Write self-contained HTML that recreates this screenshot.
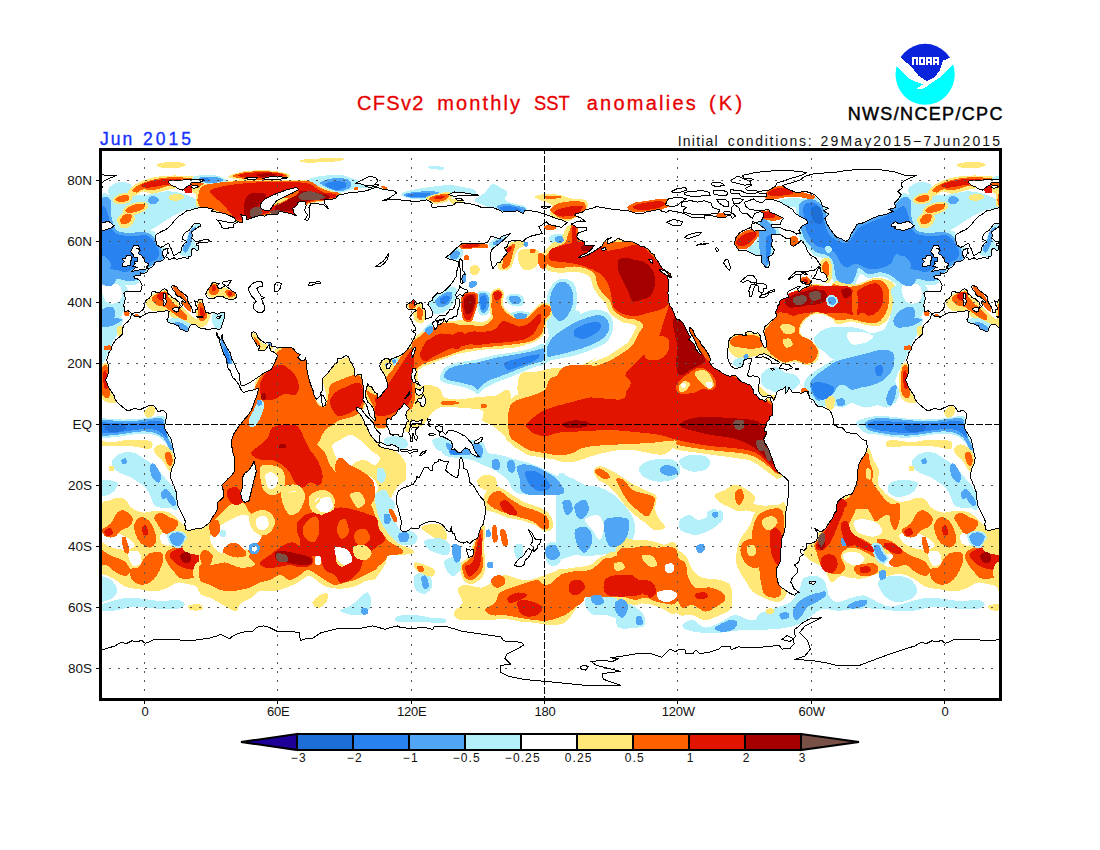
<!DOCTYPE html><html><head><meta charset="utf-8"><title>CFSv2 monthly SST anomalies</title>
<style>
html,body{margin:0;padding:0;background:#fff}
body{width:1100px;height:850px;position:relative;overflow:hidden;font-family:"Liberation Sans",sans-serif;color:#000}
.t{position:absolute;white-space:nowrap;line-height:1}
.yl{font-size:13.5px;right:1008px;text-align:right;color:#111}
.xl{font-size:13px;width:60px;text-align:center;top:705.3px;color:#111;letter-spacing:-0.2px}
.cl{font-size:12px;width:60px;text-align:center;top:752.3px;color:#111;letter-spacing:1.1px;text-indent:1.1px}
</style></head><body>
<svg width="1100" height="850" viewBox="0 0 1100 850" style="position:absolute;left:0;top:0">
<defs><clipPath id="fc"><rect x="100.5" y="149.5" width="900.0" height="550.0"/></clipPath></defs>
<defs><g id="w">
<g stroke="none" shape-rendering="crispEdges">
<path fill="#ffe878" d="M196.2 196.2C197.1 192.9 198.1 187.9 201.2 185.5C204.4 183.1 209.8 182.8 215.0 182.0C220.2 181.2 225.4 180.9 232.5 180.5C239.6 180.1 248.3 179.9 257.5 179.8C266.7 179.6 278.5 179.6 287.5 179.8C296.5 179.9 305.6 179.3 311.2 180.5C316.9 181.7 317.9 185.3 321.2 187.0C324.6 188.7 328.1 189.7 331.2 190.5C334.4 191.3 338.8 190.8 340.0 192.0C341.2 193.2 340.8 196.5 338.8 198.0C336.7 199.5 332.7 199.7 327.5 200.8C322.3 201.8 312.5 202.0 307.5 204.5C302.5 207.0 302.9 214.1 297.5 215.5C292.1 216.9 282.9 212.1 275.0 213.0C267.1 213.9 256.2 219.2 250.0 220.8C243.8 222.2 241.7 223.0 237.5 222.0C233.3 221.0 229.6 216.5 225.0 214.5C220.4 212.5 213.8 210.8 210.0 210.0C206.2 209.2 204.8 210.2 202.5 209.5C200.2 208.8 197.3 207.7 196.2 205.5C195.2 203.3 195.4 199.6 196.2 196.2Z"/>
<path fill="#ffe878" d="M228.8 176.2C230.4 175.0 238.1 172.2 245.0 171.2C251.9 170.3 262.9 170.1 270.0 170.5C277.1 170.9 284.3 172.6 287.5 173.8C290.7 174.9 291.3 176.4 289.2 177.5C287.2 178.6 281.5 179.8 275.0 180.2C268.5 180.7 256.7 180.5 250.0 180.2C243.3 180.0 238.5 179.7 235.0 179.0C231.5 178.3 227.1 177.5 228.8 176.2Z"/>
<path fill="#b4f0fa" d="M195.0 176.2C198.3 175.2 207.5 174.6 212.5 175.0C217.5 175.4 222.7 177.5 225.0 178.8C227.3 180.0 227.9 181.6 226.2 182.5C224.6 183.4 219.4 184.0 215.0 184.0C210.6 184.0 203.8 183.2 200.0 182.8C196.2 182.3 193.3 182.3 192.5 181.2C191.7 180.2 191.7 177.3 195.0 176.2Z"/>
<path fill="#b4f0fa" d="M307.5 180.0C309.2 178.9 314.6 177.1 320.0 176.2C325.4 175.4 335.0 174.8 340.0 175.0C345.0 175.2 346.7 176.5 350.0 177.5C353.3 178.5 356.7 180.0 360.0 181.2C363.3 182.5 367.5 184.0 370.0 185.0C372.5 186.0 376.2 187.0 375.0 187.5C373.8 188.0 366.7 187.3 362.5 187.8C358.3 188.2 353.8 189.2 350.0 190.0C346.2 190.8 343.3 192.7 340.0 192.8C336.7 192.8 333.3 191.3 330.0 190.2C326.7 189.2 323.3 187.8 320.0 186.5C316.7 185.2 312.1 183.8 310.0 182.8C307.9 181.7 305.8 181.1 307.5 180.0Z"/>
<path fill="#ffe878" d="M300.0 160.5C301.2 159.9 305.8 159.1 312.5 158.8C319.2 158.4 335.0 158.0 340.0 158.2C345.0 158.5 344.2 159.4 342.5 160.0C340.8 160.6 336.2 161.6 330.0 162.0C323.8 162.4 310.0 162.8 305.0 162.5C300.0 162.2 298.8 161.1 300.0 160.5Z"/>
<path fill="#b4f0fa" d="M427.5 167.0C427.9 166.5 432.3 165.9 435.0 166.0C437.7 166.1 442.5 166.9 443.8 167.5C445.0 168.1 444.4 169.2 442.5 169.5C440.6 169.8 435.0 169.4 432.5 169.0C430.0 168.6 427.1 167.5 427.5 167.0Z"/>
<path fill="#b4f0fa" d="M401.2 193.8C402.1 192.4 407.7 191.1 412.5 190.0C417.3 188.9 423.8 187.8 430.0 187.0C436.2 186.2 444.2 184.9 450.0 185.0C455.8 185.1 460.8 186.7 465.0 187.5C469.2 188.3 473.3 188.5 475.0 190.0C476.7 191.5 477.1 195.4 475.0 196.2C472.9 197.1 466.7 194.8 462.5 195.0C458.3 195.2 454.6 196.7 450.0 197.5C445.4 198.3 440.0 199.7 435.0 200.0C430.0 200.3 424.6 199.8 420.0 199.5C415.4 199.2 410.6 199.0 407.5 198.0C404.4 197.0 400.4 195.1 401.2 193.8Z"/>
<path fill="#ffe878" d="M450.0 199.5C451.5 198.7 459.2 198.2 461.2 198.8C463.3 199.2 464.0 201.7 462.5 202.5C461.0 203.3 454.6 204.2 452.5 203.8C450.4 203.2 448.5 200.3 450.0 199.5Z"/>
<path fill="#ffe878" d="M206.2 293.8C205.6 291.8 207.3 288.1 208.8 286.2C210.2 284.4 212.7 282.5 215.0 282.5C217.3 282.5 220.4 285.2 222.5 286.2C224.6 287.3 225.4 287.7 227.5 288.8C229.6 289.8 233.3 291.2 235.0 292.5C236.7 293.8 238.3 295.1 237.5 296.2C236.7 297.4 232.9 299.4 230.0 299.2C227.1 299.1 222.9 295.7 220.0 295.5C217.1 295.3 214.8 298.3 212.5 298.0C210.2 297.7 206.9 295.7 206.2 293.8Z"/>
<path fill="#ffe878" d="M197.5 300.0C199.0 296.5 204.2 301.2 206.2 303.8C208.3 306.2 210.0 311.5 210.0 315.0C210.0 318.5 208.3 323.3 206.2 325.0C204.2 326.7 199.0 329.2 197.5 325.0C196.0 320.8 196.0 303.5 197.5 300.0Z"/>
<path fill="#b4f0fa" d="M213.8 312.5C215.8 310.7 223.2 309.4 225.0 311.5C226.8 313.6 225.5 322.0 224.2 325.0C223.0 328.0 219.5 329.9 217.5 329.5C215.5 329.1 213.1 325.3 212.5 322.5C211.9 319.7 211.7 314.3 213.8 312.5Z"/>
<path fill="#b4f0fa" d="M218.0 335.0C218.3 332.7 221.0 333.8 223.0 336.2C225.0 338.8 228.0 345.6 230.0 350.0C232.0 354.4 235.8 360.4 235.0 362.5C234.2 364.6 227.3 364.6 225.0 362.5C222.7 360.4 222.4 354.6 221.2 350.0C220.1 345.4 217.7 337.3 218.0 335.0Z"/>
<path fill="#ffe878" d="M251.2 333.0C251.7 331.8 254.4 332.8 256.2 334.5C258.1 336.2 259.8 341.4 262.5 343.2C265.2 345.1 271.2 344.4 272.5 345.8C273.8 347.1 272.4 350.7 270.5 351.5C268.6 352.3 264.0 352.1 261.2 350.5C258.5 348.9 255.4 344.7 253.8 341.8C252.1 338.8 250.8 334.2 251.2 333.0Z"/>
<path fill="#ffe878" d="M275.0 350.0C276.7 347.1 281.7 347.5 285.0 347.5C288.3 347.5 291.7 348.3 295.0 350.0C298.3 351.7 302.7 355.0 305.0 357.5C307.3 360.0 313.8 363.8 308.8 365.0C303.8 366.2 280.6 367.5 275.0 365.0C269.4 362.5 273.3 352.9 275.0 350.0Z"/>
<path fill="#ffe878" d="M405.5 305.0C405.6 303.0 410.1 300.0 412.5 299.5C414.9 299.0 417.8 300.2 420.0 302.0C422.2 303.8 425.0 306.5 425.5 310.0C426.0 313.5 424.8 321.2 423.0 323.0C421.2 324.8 416.8 322.5 415.0 320.5C413.2 318.5 413.6 313.8 412.0 311.2C410.4 308.7 405.4 307.0 405.5 305.0Z"/>
<path fill="#b4f0fa" d="M475.0 200.0C475.8 198.1 482.1 195.2 485.0 192.5C487.9 189.8 490.0 184.6 492.5 183.8C495.0 182.9 497.5 186.0 500.0 187.5C502.5 189.0 506.7 190.4 507.5 192.5C508.3 194.6 503.8 198.1 505.0 200.0C506.2 201.9 511.7 202.7 515.0 203.8C518.3 204.8 523.1 204.8 525.0 206.2C526.9 207.7 527.9 211.4 526.2 212.5C524.6 213.6 519.4 213.1 515.0 213.0C510.6 212.9 504.6 212.8 500.0 211.8C495.4 210.7 490.8 208.1 487.5 206.8C484.2 205.4 482.1 204.9 480.0 203.8C477.9 202.6 474.2 201.9 475.0 200.0Z"/>
<path fill="#ffe878" d="M535.0 196.2C536.2 195.2 543.3 194.0 547.5 193.8C551.7 193.5 555.8 194.2 560.0 195.0C564.2 195.8 568.3 197.9 572.5 198.8C576.7 199.6 582.4 198.8 585.0 200.0C587.6 201.2 588.3 204.2 588.0 206.2C587.7 208.3 585.2 210.5 583.0 212.5C580.8 214.5 578.0 216.5 575.0 218.0C572.0 219.5 568.3 221.5 565.0 221.8C561.7 222.0 557.5 220.6 555.0 219.2C552.5 217.9 550.2 215.5 550.0 213.8C549.8 212.0 553.8 210.4 553.8 208.8C553.8 207.1 552.3 205.2 550.0 203.8C547.7 202.3 542.5 201.2 540.0 200.0C537.5 198.8 533.8 197.3 535.0 196.2Z"/>
<path fill="#b4f0fa" d="M550.0 236.2C551.7 235.0 557.1 233.5 560.0 233.8C562.9 234.0 566.6 235.6 567.5 237.5C568.4 239.4 567.6 243.7 565.5 245.0C563.4 246.3 557.6 246.1 555.0 245.5C552.4 244.9 550.8 242.8 550.0 241.2C549.2 239.7 548.3 237.5 550.0 236.2Z"/>
<path fill="#b4f0fa" d="M446.2 255.0C446.7 252.9 452.3 249.6 455.0 248.8C457.7 247.9 461.4 248.5 462.5 250.0C463.6 251.5 463.2 255.6 461.5 257.5C459.8 259.4 455.0 261.9 452.5 261.5C450.0 261.1 445.8 257.1 446.2 255.0Z"/>
<path fill="#ffe878" d="M470.0 267.5C470.6 266.0 473.3 264.8 475.0 265.0C476.7 265.2 479.8 267.1 480.0 268.8C480.2 270.4 478.0 274.1 476.5 275.0C475.0 275.9 472.3 275.2 471.2 274.0C470.2 272.8 469.4 269.0 470.0 267.5Z"/>
<path fill="#b4f0fa" d="M488.8 243.8C489.2 241.8 494.4 238.8 497.5 237.5C500.6 236.2 506.2 235.0 507.5 236.2C508.8 237.5 507.6 242.9 505.5 245.0C503.4 247.1 497.8 249.2 495.0 249.0C492.2 248.8 488.3 245.7 488.8 243.8Z"/>
<path fill="#ffe878" d="M503.8 250.0C505.2 247.5 508.3 244.0 511.2 242.5C514.2 241.0 519.0 240.8 521.2 241.2C523.5 241.7 525.6 243.5 525.0 245.0C524.4 246.5 519.4 247.5 517.5 250.0C515.6 252.5 515.0 256.9 513.8 260.0C512.5 263.1 512.3 267.0 510.0 268.8C507.7 270.5 502.1 270.9 500.0 270.2C497.9 269.6 497.1 267.1 497.5 265.0C497.9 262.9 501.5 260.0 502.5 257.5C503.5 255.0 502.3 252.5 503.8 250.0Z"/>
<path fill="#ffe878" d="M518.8 251.2C520.2 249.0 524.4 249.0 527.5 248.8C530.6 248.5 535.4 248.5 537.5 250.0C539.6 251.5 540.4 254.6 540.0 257.5C539.6 260.4 537.5 265.4 535.0 267.5C532.5 269.6 527.7 271.1 525.0 270.2C522.3 269.4 519.8 265.7 518.8 262.5C517.7 259.3 517.3 253.5 518.8 251.2Z"/>
<path fill="#b4f0fa" d="M477.0 293.8C478.0 290.2 482.8 291.0 485.0 291.2C487.2 291.5 489.7 291.9 490.5 295.0C491.3 298.1 490.7 306.6 489.8 310.0C488.8 313.4 486.8 314.8 485.0 315.2C483.2 315.7 480.1 316.3 478.8 312.8C477.4 309.2 476.0 297.3 477.0 293.8Z"/>
<path fill="#ffe878" d="M397.5 362.5C398.8 355.4 402.1 351.8 405.0 347.5C407.9 343.2 410.8 340.4 415.0 337.0C419.2 333.6 424.2 329.5 430.0 327.0C435.8 324.5 444.2 323.2 450.0 322.0C455.8 320.8 459.6 319.5 465.0 319.5C470.4 319.5 478.0 322.8 482.5 322.0C487.0 321.2 490.6 318.2 492.0 315.0C493.4 311.8 490.5 306.5 490.8 302.5C491.0 298.5 491.9 293.4 493.2 291.2C494.6 289.1 497.1 288.9 498.8 289.5C500.4 290.1 502.5 292.4 503.0 295.0C503.5 297.6 500.9 301.7 501.8 305.0C502.6 308.3 505.0 312.6 508.0 315.0C511.0 317.4 516.3 319.4 520.0 319.5C523.7 319.6 526.9 317.8 530.0 315.8C533.1 313.7 536.2 309.1 538.8 307.0C541.3 304.9 543.5 303.2 545.5 303.2C547.5 303.3 549.9 305.5 550.5 307.5C551.1 309.5 550.5 312.5 549.2 315.0C548.0 317.5 544.5 319.4 543.0 322.5C541.5 325.6 542.6 330.3 540.5 333.8C538.4 337.2 535.2 340.6 530.5 343.0C525.8 345.4 519.7 347.0 512.5 348.0C505.3 349.0 495.8 348.4 487.5 349.2C479.2 350.1 469.6 351.5 462.5 353.0C455.4 354.5 450.4 356.1 445.0 358.0C439.6 359.9 434.2 362.6 430.0 364.2C425.8 365.9 422.9 365.4 420.0 368.0C417.1 370.6 415.0 376.3 412.5 380.0C410.0 383.7 407.5 388.3 405.0 390.0C402.5 391.7 398.8 394.6 397.5 390.0C396.2 385.4 396.2 369.6 397.5 362.5Z"/>
<path fill="#b4f0fa" d="M440.0 377.5C440.4 375.1 442.1 370.0 445.0 367.5C447.9 365.0 452.5 363.8 457.5 362.5C462.5 361.2 468.8 361.2 475.0 360.0C481.2 358.8 488.8 356.2 495.0 355.0C501.2 353.8 506.7 353.5 512.5 352.5C518.3 351.5 524.7 350.1 530.0 348.8C535.3 347.4 541.9 342.1 544.5 344.5C547.1 346.9 547.1 359.3 545.5 363.0C543.9 366.7 539.2 365.1 535.0 366.8C530.8 368.4 525.0 370.9 520.0 373.0C515.0 375.1 509.2 377.6 505.0 379.2C500.8 380.9 498.3 381.5 495.0 383.0C491.7 384.5 487.9 386.1 485.0 388.0C482.1 389.9 479.6 393.8 477.5 394.2C475.4 394.7 475.0 391.8 472.5 390.5C470.0 389.2 466.2 387.8 462.5 386.8C458.8 385.7 453.3 385.1 450.0 384.2C446.7 383.4 444.2 382.9 442.5 381.8C440.8 380.6 439.6 379.9 440.0 377.5Z"/>
<path fill="#b4f0fa" d="M545.0 344.5C545.8 340.0 547.5 338.5 550.0 335.8C552.5 333.0 556.7 330.8 560.0 328.2C563.3 325.8 566.7 323.0 570.0 320.8C573.3 318.5 575.8 316.4 580.0 314.5C584.2 312.6 590.3 309.7 595.0 309.5C599.7 309.3 605.0 311.1 608.0 313.2C611.0 315.4 612.4 319.1 613.0 322.5C613.6 325.9 613.0 330.3 611.8 333.8C610.5 337.2 608.7 340.4 605.5 343.0C602.3 345.6 597.6 347.2 592.5 349.2C587.4 351.3 580.0 354.0 575.0 355.5C570.0 357.0 566.7 357.2 562.5 358.0C558.3 358.8 552.9 359.7 550.0 360.5C547.1 361.3 545.8 365.7 545.0 363.0C544.2 360.3 544.2 349.0 545.0 344.5Z"/>
<path fill="#b4f0fa" d="M549.0 312.0C552.5 307.5 565.2 309.1 570.5 309.5C575.8 309.9 582.2 311.3 580.5 314.5C578.8 317.7 565.2 325.0 560.0 328.8C554.8 332.5 551.3 339.5 549.5 336.8C547.7 334.0 545.5 316.5 549.0 312.0Z"/>
<path fill="#b4f0fa" d="M547.0 296.2C547.8 292.5 549.6 287.9 552.0 285.0C554.4 282.1 557.8 279.2 561.2 278.8C564.8 278.3 570.4 279.8 573.0 282.5C575.6 285.2 576.5 290.8 577.0 295.0C577.5 299.2 577.1 303.8 576.0 307.5C574.9 311.2 573.0 314.7 570.5 317.5C568.0 320.3 564.5 324.5 561.2 324.5C558.0 324.5 553.5 320.3 551.2 317.5C549.0 314.7 548.2 311.0 547.5 307.5C546.8 304.0 546.2 300.0 547.0 296.2Z"/>
<path fill="#b4f0fa" d="M506.2 297.5C506.9 295.8 509.8 294.0 512.5 293.8C515.2 293.5 520.6 294.6 522.5 296.2C524.4 297.9 524.8 302.0 524.0 303.8C523.2 305.5 520.0 306.5 517.5 306.5C515.0 306.5 510.6 305.5 508.8 304.0C506.9 302.5 505.6 299.2 506.2 297.5Z"/>
<path fill="#b4f0fa" d="M510.0 313.8C510.4 312.0 516.4 311.2 520.0 311.2C523.6 311.2 530.5 312.2 531.8 313.8C533.0 315.2 529.9 319.0 527.5 320.2C525.1 321.5 520.4 322.6 517.5 321.5C514.6 320.4 509.6 315.5 510.0 313.8Z"/>
<path fill="#ffe878" d="M405.0 430.0C403.8 425.8 405.8 411.7 407.5 405.0C409.2 398.3 411.7 393.3 415.0 390.0C418.3 386.7 423.3 385.2 427.5 385.0C431.7 384.8 437.3 386.8 440.0 388.8C442.7 390.8 440.8 395.2 443.8 397.0C446.7 398.8 451.9 399.5 457.5 399.5C463.1 399.5 471.2 397.6 477.5 397.0C483.8 396.4 489.6 396.6 495.0 395.8C500.4 394.9 507.3 385.2 510.0 392.0C512.7 398.8 512.9 429.6 511.2 436.2C509.6 442.9 503.1 433.5 500.0 431.8C496.9 430.0 495.4 427.4 492.5 425.5C489.6 423.6 484.2 423.0 482.5 420.5C480.8 418.0 485.8 412.6 482.5 410.5C479.2 408.4 469.2 408.6 462.5 408.0C455.8 407.4 447.5 406.0 442.5 406.8C437.5 407.5 435.4 409.9 432.5 412.5C429.6 415.1 427.9 419.6 425.0 422.5C422.1 425.4 418.3 428.8 415.0 430.0C411.7 431.2 406.2 434.2 405.0 430.0Z"/>
<path fill="#b4f0fa" d="M442.5 450.0C444.6 447.8 452.5 444.2 457.5 442.5C462.5 440.8 468.2 440.0 472.5 440.0C476.8 440.0 480.4 440.4 483.0 442.5C485.6 444.6 485.2 450.4 488.0 452.5C490.8 454.6 495.1 453.8 500.0 455.0C504.9 456.2 511.7 458.3 517.5 460.0C523.3 461.7 529.6 462.9 535.0 465.0C540.4 467.1 545.4 470.0 550.0 472.5C554.6 475.0 559.0 476.5 562.5 480.0C566.0 483.5 578.3 491.5 571.2 493.8C564.2 496.0 530.6 496.0 520.0 493.8C509.4 491.5 511.7 484.0 507.5 480.0C503.3 476.0 499.2 472.5 495.0 470.0C490.8 467.5 486.2 466.7 482.5 465.0C478.8 463.3 476.7 461.2 472.5 460.0C468.3 458.8 462.1 458.8 457.5 458.0C452.9 457.2 447.5 456.8 445.0 455.5C442.5 454.2 440.4 452.2 442.5 450.0Z"/>
<path fill="#ffe878" d="M574.2 227.2L570.5 225.0L566.8 226.2L561.1 238.9L551.9 243.6L540.8 254.7L540.3 259.1L545.7 268.7L548.7 271.1L559.6 273.0L574.8 271.5L585.3 273.7L590.6 277.9L593.0 287.2L598.6 296.1L605.7 303.3L610.2 314.0L622.7 322.4L633.1 324.3L636.6 326.7L628.6 342.2L607.8 356.0L583.6 365.7L559.0 370.6L548.0 374.2L545.7 376.2L541.2 385.8L530.7 390.8L515.1 395.6L506.8 402.4L505.2 405.0L503.0 419.7L506.3 439.6L514.5 447.0L528.3 455.2L559.2 460.4L573.9 457.8L584.0 452.8L600.5 450.5L672.2 445.8L674.0 448.6L676.7 449.9L748.4 459.8L757.4 464.3L776.4 478.6L779.3 478.4L788.4 473.7L790.0 469.4L784.9 429.2L779.5 397.8L776.1 395.1L769.7 395.4L755.0 382.5L735.4 369.9L718.6 356.4L709.1 344.7L689.4 312.6L682.4 296.1L679.7 278.4L668.8 259.3L652.8 243.3L636.5 236.5L610.3 237.5L577.9 232.8Z"/>
<path fill="#b4f0fa" d="M747.5 250.0C747.1 247.7 752.5 245.2 755.0 242.5C757.5 239.8 760.0 236.7 762.5 233.8C765.0 230.8 767.5 226.0 770.0 225.0C772.5 224.0 775.8 225.8 777.5 227.5C779.2 229.2 780.4 232.9 780.0 235.0C779.6 237.1 776.2 237.5 775.0 240.0C773.8 242.5 773.3 246.2 772.5 250.0C771.7 253.8 771.0 259.5 770.0 262.5C769.0 265.5 767.7 268.0 766.2 268.0C764.8 268.0 762.7 264.5 761.2 262.5C759.8 260.5 759.8 258.3 757.5 256.2C755.2 254.2 747.9 252.3 747.5 250.0Z"/>
<path fill="#ffe878" d="M773.0 305.0C774.7 301.4 778.1 300.1 781.2 298.0C784.4 295.9 788.5 294.5 792.0 292.5C795.5 290.5 799.1 287.7 802.5 286.2C805.9 284.8 809.1 284.0 812.5 283.8C815.9 283.5 820.0 284.1 823.0 285.0C826.0 285.9 828.5 287.6 830.8 289.2C833.0 290.9 835.1 290.1 836.2 295.0C837.4 299.9 839.4 315.4 837.5 318.8C835.6 322.1 828.7 315.8 825.0 315.0C821.3 314.2 818.4 313.2 815.5 313.8C812.6 314.3 809.9 316.2 807.5 318.2C805.1 320.2 802.3 323.0 801.2 325.8C800.2 328.5 799.6 332.5 801.2 335.0C802.9 337.5 808.3 338.0 811.2 340.5C814.2 343.0 818.1 346.5 819.0 350.0C819.9 353.5 818.6 358.7 816.5 361.2C814.4 363.8 809.8 365.2 806.2 365.2C802.7 365.3 798.5 361.7 795.0 361.5C791.5 361.3 788.4 364.4 785.0 364.0C781.6 363.6 777.6 361.2 774.5 359.0C771.4 356.8 768.5 353.9 766.5 350.8C764.5 347.6 763.0 343.5 762.5 340.0C762.0 336.5 762.3 332.9 763.8 329.5C765.2 326.1 769.7 323.6 771.2 319.5C772.8 315.4 771.3 308.6 773.0 305.0Z"/>
<path fill="#ffe878" d="M727.5 340.0C728.1 337.5 729.6 336.2 732.5 335.0C735.4 333.8 740.8 332.7 745.0 332.5C749.2 332.3 754.2 332.5 757.5 333.8C760.8 335.0 763.1 337.3 765.0 340.0C766.9 342.7 769.4 347.5 769.0 350.0C768.6 352.5 765.2 354.2 762.5 355.2C759.8 356.3 755.4 355.7 752.5 356.5C749.6 357.3 747.9 360.2 745.0 360.2C742.1 360.2 737.7 358.2 735.0 356.5C732.3 354.8 730.0 352.8 728.8 350.0C727.5 347.2 726.9 342.5 727.5 340.0Z"/>
<path fill="#b4f0fa" d="M732.5 362.5C732.7 360.7 737.5 357.9 740.0 357.5C742.5 357.1 746.5 358.5 747.5 360.0C748.5 361.5 747.7 365.1 746.2 366.5C744.8 367.9 741.0 368.9 738.8 368.2C736.5 367.6 732.3 364.3 732.5 362.5Z"/>
<path fill="#b4f0fa" d="M761.2 375.0C762.1 372.2 764.8 370.0 767.5 368.8C770.2 367.5 774.6 366.9 777.5 367.5C780.4 368.1 782.1 371.2 785.0 372.5C787.9 373.8 792.5 373.3 795.0 375.0C797.5 376.7 800.4 380.0 800.0 382.5C799.6 385.0 795.8 388.3 792.5 390.0C789.2 391.7 783.8 392.7 780.0 392.8C776.2 392.8 772.9 391.5 770.0 390.2C767.1 389.0 764.0 387.8 762.5 385.2C761.0 382.7 760.4 377.8 761.2 375.0Z"/>
<path fill="#ffe878" d="M757.5 353.8C757.7 352.6 764.2 351.7 767.5 352.0C770.8 352.3 775.9 354.2 777.5 355.5C779.1 356.8 778.9 359.5 777.0 360.0C775.1 360.5 769.5 359.8 766.2 358.8C763.0 357.7 757.3 354.9 757.5 353.8Z"/>
<path fill="#b4f0fa" d="M638.8 468.8C639.2 466.0 643.1 462.9 647.5 461.2C651.9 459.6 660.0 458.5 665.0 458.8C670.0 459.0 675.0 460.2 677.5 462.5C680.0 464.8 680.8 469.6 680.0 472.5C679.2 475.4 676.2 478.5 672.5 480.0C668.8 481.5 662.1 481.9 657.5 481.5C652.9 481.1 648.1 479.9 645.0 477.8C641.9 475.6 638.3 471.5 638.8 468.8Z"/>
<path fill="#b4f0fa" d="M679.5 460.0C680.8 457.9 685.8 455.6 690.0 455.0C694.2 454.4 701.7 455.0 705.0 456.2C708.3 457.5 710.0 460.2 710.0 462.5C710.0 464.8 707.9 468.5 705.0 470.0C702.1 471.5 696.2 471.9 692.5 471.5C688.8 471.1 684.7 469.4 682.5 467.5C680.3 465.6 678.2 462.1 679.5 460.0Z"/>
<path fill="#ffe878" d="M593.8 471.2C594.2 469.1 596.5 466.0 600.0 466.2C603.5 466.5 610.0 469.8 615.0 472.5C620.0 475.2 625.0 479.6 630.0 482.5C635.0 485.4 640.6 487.7 645.0 490.0C649.4 492.3 654.6 492.9 656.2 496.2C657.9 499.6 654.4 506.0 655.0 510.0C655.6 514.0 658.3 517.1 660.0 520.0C661.7 522.9 665.8 525.8 665.0 527.5C664.2 529.2 658.3 531.0 655.0 530.2C651.7 529.5 648.3 525.2 645.0 522.8C641.7 520.2 638.3 518.2 635.0 515.2C631.7 512.3 627.9 508.6 625.0 505.2C622.1 501.9 620.4 498.6 617.5 495.2C614.6 491.9 610.8 488.0 607.5 485.2C604.2 482.5 599.8 481.3 597.5 479.0C595.2 476.7 593.3 473.4 593.8 471.2Z"/>
<path fill="#b4f0fa" d="M557.5 478.8C559.6 466.2 565.4 476.5 570.0 477.5C574.6 478.5 580.0 483.3 585.0 485.0C590.0 486.7 594.6 485.4 600.0 487.5C605.4 489.6 612.5 493.3 617.5 497.5C622.5 501.7 627.1 507.9 630.0 512.5C632.9 517.1 634.6 520.4 635.0 525.0C635.4 529.6 635.0 535.8 632.5 540.0C630.0 544.2 625.8 547.5 620.0 550.0C614.2 552.5 605.0 554.4 597.5 555.2C590.0 556.1 581.7 555.7 575.0 555.2C568.3 554.8 560.4 565.2 557.5 552.5C554.6 539.8 555.4 491.2 557.5 478.8Z"/>
<path fill="#b4f0fa" d="M680.0 520.0C680.8 517.5 686.7 515.0 690.0 515.0C693.3 515.0 695.0 520.8 700.0 520.0C705.0 519.2 716.2 510.0 720.0 510.0C723.8 510.0 724.2 516.7 722.5 520.0C720.8 523.3 714.6 527.5 710.0 530.0C705.4 532.5 699.2 535.2 695.0 535.2C690.8 535.2 687.5 532.5 685.0 530.0C682.5 527.5 679.2 522.5 680.0 520.0Z"/>
<path fill="#ffe878" d="M715.0 495.0C715.8 492.9 721.7 491.7 725.0 490.0C728.3 488.3 731.2 485.0 735.0 485.0C738.8 485.0 744.2 487.9 747.5 490.0C750.8 492.1 754.6 494.6 755.0 497.5C755.4 500.4 752.5 505.2 750.0 507.5C747.5 509.8 743.3 511.5 740.0 511.5C736.7 511.5 733.3 509.0 730.0 507.5C726.7 506.0 722.5 504.6 720.0 502.5C717.5 500.4 714.2 497.1 715.0 495.0Z"/>
<path fill="#ffe878" d="M736.2 555.0C736.7 550.4 737.7 545.0 740.0 540.0C742.3 535.0 747.5 529.6 750.0 525.0C752.5 520.4 752.5 515.6 755.0 512.5C757.5 509.4 761.2 507.5 765.0 506.2C768.8 505.0 774.0 504.4 777.5 505.0C781.0 505.6 784.8 495.0 786.2 510.0C787.7 525.0 791.0 580.8 786.2 595.0C781.5 609.2 764.4 597.5 757.5 595.0C750.6 592.5 748.3 584.6 745.0 580.0C741.7 575.4 739.0 571.7 737.5 567.5C736.0 563.3 735.8 559.6 736.2 555.0Z"/>
<path fill="#ffe878" d="M600.0 560.0C602.9 557.5 605.0 554.2 610.0 552.5C615.0 550.8 624.6 551.2 630.0 550.0C635.4 548.8 637.5 545.6 642.5 545.0C647.5 544.4 654.2 545.0 660.0 546.2C665.8 547.5 672.9 549.4 677.5 552.5C682.1 555.6 685.0 560.4 687.5 565.0C690.0 569.6 691.2 575.0 692.5 580.0C693.8 585.0 717.5 592.5 695.0 595.0C672.5 597.5 580.4 599.2 557.5 595.0C534.6 590.8 553.8 573.8 557.5 570.0C561.2 566.2 574.2 572.9 580.0 572.5C585.8 572.1 589.2 569.6 592.5 567.5C595.8 565.4 597.1 562.5 600.0 560.0Z"/>
<path fill="#b4f0fa" d="M797.5 201.0L795.3 204.4L796.4 224.4L800.0 239.0L814.2 255.6L823.8 258.4L828.5 261.6L832.8 280.6L841.8 286.9L853.9 286.4L860.5 273.5L868.3 278.3L879.9 276.3L887.1 278.1L903.3 289.2L914.3 289.0L918.9 283.3L925.3 284.9L935.3 284.8L943.7 279.6L950.3 271.0L958.6 266.8L966.8 260.3L966.5 250.8L954.2 231.7L943.7 227.8L930.4 228.9L919.8 227.1L916.6 220.7L914.6 210.7L914.2 198.6L905.4 193.2L901.7 193.7L882.3 209.8L853.6 223.2L845.9 235.1L837.4 230.2L829.0 211.5L822.3 200.2L809.9 195.1Z"/>
<path fill="#b4f0fa" d="M908.4 189.3C909.5 186.4 913.5 183.6 917.1 182.7C920.7 181.8 927.3 182.0 930.2 183.8C933.1 185.6 931.6 191.8 934.6 193.6C937.5 195.5 942.6 195.1 947.7 194.7C952.7 194.4 960.0 191.8 965.1 191.5C970.2 191.1 973.8 191.6 978.2 192.5C982.6 193.5 987.7 195.5 991.3 196.9C994.9 198.4 998.6 199.6 1000.0 201.3C1001.5 203.0 1002.6 205.6 1000.0 207.2C997.5 208.7 989.8 208.6 984.7 210.4C979.7 212.3 974.2 215.4 969.5 218.1C964.7 220.8 960.7 224.4 956.4 226.8C952.0 229.2 947.7 231.2 943.3 232.3C938.9 233.4 934.6 233.5 930.2 233.4C925.8 233.2 920.0 233.1 917.1 231.2C914.2 229.3 913.8 225.4 912.7 222.0C911.6 218.7 910.9 214.7 910.6 211.1C910.2 207.5 910.9 203.8 910.6 200.2C910.2 196.5 907.3 192.2 908.4 189.3Z"/>
<path fill="#ffe878" d="M956.4 164.8C956.7 163.9 961.5 162.9 965.1 162.4C968.7 162.0 974.7 161.6 978.2 162.0C981.7 162.4 985.8 163.9 985.8 164.8C985.8 165.8 982.0 167.4 978.2 167.9C974.4 168.4 966.6 168.4 962.9 167.9C959.3 167.4 956.0 165.7 956.4 164.8Z"/>
<path fill="#b4f0fa" d="M777.5 201.3C778.5 200.0 786.2 198.4 790.5 198.0C794.9 197.6 800.4 198.4 803.6 199.1C806.9 199.8 809.5 200.9 810.2 202.4C810.9 203.9 810.5 207.3 808.0 208.0C805.5 208.8 798.9 207.3 794.9 206.9C790.9 206.6 786.9 206.8 784.0 205.9C781.1 204.9 776.4 202.6 777.5 201.3Z"/>
<path fill="#b4f0fa" d="M757.8 219.8C760.0 213.0 767.9 218.1 770.9 220.3C773.9 222.4 775.3 228.3 775.7 232.9C776.1 237.6 774.3 242.9 773.5 248.2C772.7 253.5 772.6 261.0 770.9 264.6C769.2 268.1 765.5 270.1 763.3 269.6C761.1 269.0 758.7 269.6 757.8 261.3C756.9 253.0 755.6 226.7 757.8 219.8Z"/>
<path fill="#ffe878" d="M820.0 263.5C820.5 260.0 823.6 258.4 825.5 258.0C827.3 257.6 829.8 258.2 830.9 261.3C832.0 264.4 832.8 272.9 832.2 276.6C831.7 280.2 829.3 283.0 827.6 283.3C826.0 283.7 823.5 282.0 822.2 278.7C820.9 275.4 819.5 266.9 820.0 263.5Z"/>
<path fill="#ffe878" d="M832.0 283.5C835.3 277.4 848.7 284.8 853.8 284.6C858.9 284.4 859.3 283.5 862.6 282.4C865.8 281.4 869.9 278.7 873.5 278.1C877.0 277.5 880.4 277.5 883.9 278.7C887.5 279.9 893.2 281.3 894.8 285.3C896.5 289.3 894.9 297.4 894.0 302.7C893.0 308.0 891.6 313.3 889.2 317.1C886.7 321.0 883.2 324.6 879.1 325.9C875.1 327.1 869.3 325.3 864.7 324.6C860.2 323.8 856.7 322.0 851.6 321.5C846.6 321.0 837.5 327.8 834.2 321.5C830.9 315.2 828.7 289.7 832.0 283.5Z"/>
<path fill="#b4f0fa" d="M890.9 289.6C892.4 286.4 897.5 284.6 901.8 283.1C906.2 281.6 912.7 279.8 917.1 280.9C921.5 282.0 926.6 286.0 928.0 289.6C929.5 293.3 926.9 298.4 925.8 302.7C924.7 307.1 923.6 311.5 921.5 315.8C919.3 320.2 916.4 325.5 912.7 328.9C909.1 332.4 904.7 335.3 899.6 336.6C894.6 337.8 884.0 339.3 882.2 336.6C880.4 333.8 886.9 325.8 888.7 320.2C890.6 314.6 892.7 307.8 893.1 302.7C893.5 297.6 889.5 292.9 890.9 289.6Z"/>
<path fill="#ffe878" d="M945.5 302.7C945.5 300.2 949.3 297.1 952.0 295.1C954.7 293.1 958.9 291.3 961.8 290.7C964.7 290.2 966.7 289.8 969.5 291.8C972.2 293.8 974.6 298.7 978.2 302.7C981.8 306.7 987.7 312.6 991.3 315.8C994.9 319.1 998.6 319.8 1000.0 322.4C1001.5 325.0 1002.2 331.2 1000.0 331.5C997.8 331.9 991.3 326.8 986.9 324.6C982.6 322.3 977.8 320.2 973.8 318.0C969.8 315.8 966.6 312.7 962.9 311.5C959.3 310.2 954.9 311.8 952.0 310.4C949.1 308.9 945.5 305.3 945.5 302.7Z"/>
<path fill="#b4f0fa" d="M967.3 320.2C968.7 318.7 974.2 317.3 978.2 318.0C982.2 318.7 987.7 322.4 991.3 324.6C994.9 326.7 998.6 329.1 1000.0 331.1C1001.5 333.1 1004.4 335.6 1000.0 336.6C995.7 337.5 978.9 338.2 973.8 336.6C968.7 334.9 970.6 329.5 969.5 326.7C968.4 324.0 965.8 321.6 967.3 320.2Z"/>
<path fill="#b4f0fa" d="M978.2 252.6C977.8 250.7 983.3 248.6 984.7 246.0C986.2 243.5 985.8 240.2 986.9 237.3C988.0 234.4 989.3 231.3 991.3 228.6C993.3 225.8 997.1 221.8 998.9 220.9C1000.7 220.0 1002.4 221.1 1002.2 223.1C1002.0 225.1 999.1 229.5 997.8 232.9C996.6 236.4 994.2 241.5 994.6 243.8C994.9 246.2 997.7 246.7 1000.0 247.1C1002.4 247.5 1007.3 245.1 1008.7 246.0C1010.2 246.9 1010.9 251.1 1008.7 252.6C1006.6 254.0 999.3 254.2 995.7 255.0C992.0 255.7 989.8 257.5 986.9 257.1C984.0 256.7 978.6 254.4 978.2 252.6Z"/>
<path fill="#b4f0fa" d="M803.6 383.3C804.2 380.4 806.9 377.5 810.2 374.5C813.5 371.6 819.3 368.4 823.3 365.8C827.3 363.3 830.2 361.5 834.2 359.3C838.2 357.1 842.9 354.9 847.3 352.7C851.6 350.5 856.0 348.0 860.4 346.2C864.7 344.4 869.1 344.0 873.5 341.8C877.8 339.6 882.2 336.0 886.6 333.1C890.9 330.2 895.3 326.7 899.6 324.4C904.0 322.0 908.9 319.8 912.7 318.9C916.6 318.0 921.5 316.9 922.6 318.9C923.6 320.9 920.9 327.1 919.3 330.9C917.6 334.7 914.6 338.2 912.7 341.8C910.9 345.5 909.8 349.5 908.4 352.7C906.9 356.0 905.5 358.5 904.0 361.5C902.6 364.4 901.1 366.9 899.6 370.2C898.2 373.5 895.3 377.5 895.3 381.1C895.3 384.7 899.6 388.4 899.6 392.0C899.6 395.6 897.5 400.3 895.3 402.9C893.1 405.5 889.5 407.1 886.6 407.5C883.6 407.9 881.5 405.3 877.8 405.3C874.2 405.3 869.1 407.9 864.7 407.5C860.4 407.1 855.3 403.1 851.6 403.1C848.0 403.1 846.2 407.1 842.9 407.5C839.6 407.9 835.6 405.5 832.0 405.3C828.4 405.1 824.4 407.5 821.1 406.4C817.8 405.3 814.7 401.0 812.4 398.6C810.0 396.2 808.4 394.6 806.9 392.0C805.5 389.5 803.1 386.2 803.6 383.3Z"/>
<path fill="#b4f0fa" d="M814.5 337.5C816.0 334.5 820.7 330.5 825.5 328.7C830.2 326.9 837.1 326.5 842.9 326.5C848.7 326.5 855.3 327.6 860.4 328.7C865.5 329.8 868.4 333.5 873.5 333.1C878.6 332.7 886.6 328.0 890.9 326.5C895.3 325.1 900.4 323.3 899.6 324.4C898.9 325.5 890.9 330.2 886.6 333.1C882.2 336.0 877.8 339.6 873.5 341.8C869.1 344.0 864.7 344.4 860.4 346.2C856.0 348.0 851.6 350.5 847.3 352.7C842.9 354.9 837.8 359.3 834.2 359.3C830.6 359.3 828.4 354.9 825.5 352.7C822.6 350.5 818.5 348.7 816.7 346.2C814.9 343.6 813.1 340.4 814.5 337.5Z"/>
<path fill="#ffe878" d="M899.6 372.4C900.2 368.9 900.4 366.2 901.8 364.7C903.3 363.3 906.9 362.0 908.4 363.6C909.8 365.3 909.8 370.2 910.6 374.5C911.3 378.9 911.6 385.5 912.7 389.8C913.8 394.2 917.5 398.5 917.1 400.7C916.7 403.0 913.1 403.5 910.6 403.1C908.0 402.8 903.8 401.7 901.8 398.8C899.8 395.8 898.9 389.9 898.6 385.5C898.2 381.1 899.1 375.8 899.6 372.4Z"/>
<path fill="#ffe878" d="M917.1 327.6C917.8 326.0 921.5 324.9 922.6 326.1C923.6 327.3 923.9 333.2 923.2 334.8C922.5 336.4 919.2 336.9 918.2 335.7C917.2 334.5 916.4 329.2 917.1 327.6Z"/>
<path fill="#b4f0fa" d="M856.0 422.6C856.7 420.7 861.1 419.3 864.7 418.2C868.4 417.1 872.7 416.2 877.8 416.0C882.9 415.8 889.5 416.6 895.3 417.1C901.1 417.6 906.2 418.9 912.7 419.3C919.3 419.6 928.0 419.6 934.6 419.3C941.1 418.9 947.3 417.6 952.0 417.1C956.7 416.6 960.4 415.1 962.9 416.0C965.5 416.9 966.2 419.6 967.3 422.6C968.4 425.5 968.2 429.5 969.5 433.5C970.7 437.5 973.8 442.8 974.9 446.6C976.1 450.3 977.4 455.0 976.5 455.7C975.5 456.4 971.4 453.2 969.5 450.9C967.6 448.7 967.3 444.7 965.1 442.2C962.9 439.6 960.0 437.1 956.4 435.6C952.7 434.2 948.4 433.5 943.3 433.5C938.2 433.5 931.6 434.9 925.8 435.6C920.0 436.4 914.2 437.6 908.4 437.8C902.6 438.0 896.0 437.3 890.9 436.7C885.8 436.2 881.8 435.1 877.8 434.6C873.8 434.0 869.8 434.4 866.9 433.5C864.0 432.6 862.2 430.9 860.4 429.1C858.6 427.3 855.3 424.4 856.0 422.6Z"/>
<path fill="#ffe878" d="M885.5 443.3C885.8 442.1 888.2 440.4 890.9 440.0C893.6 439.6 898.2 440.7 901.8 441.1C905.5 441.5 908.7 442.4 912.7 442.2C916.7 442.0 920.7 440.4 925.8 440.0C930.9 439.6 938.9 439.6 943.3 440.0C947.7 440.4 950.9 440.7 952.0 442.2C953.1 443.7 952.7 448.2 949.8 449.0C946.9 449.7 940.0 447.1 934.6 446.6C929.1 446.0 922.9 445.5 917.1 445.5C911.3 445.5 904.4 446.3 899.6 446.6C894.9 446.8 891.1 447.8 888.7 447.2C886.4 446.7 885.1 444.5 885.5 443.3Z"/>
<path fill="#ffe878" d="M954.2 448.7C954.9 446.9 958.2 444.4 960.7 444.4C963.3 444.4 967.1 446.2 969.5 448.7C971.8 451.3 974.4 455.6 974.9 459.6C975.5 463.7 974.0 471.5 972.7 473.0C971.5 474.4 969.1 470.6 967.3 468.4C965.5 466.2 963.7 461.8 961.8 459.6C960.0 457.5 957.7 457.1 956.4 455.3C955.1 453.5 953.5 450.6 954.2 448.7Z"/>
<path fill="#ffe878" d="M944.4 411.6C944.9 409.8 948.0 406.7 949.8 406.2C951.7 405.6 954.7 406.7 955.3 408.4C955.8 410.0 954.6 414.5 953.1 416.0C951.7 417.5 948.0 418.0 946.6 417.3C945.1 416.6 943.8 413.5 944.4 411.6Z"/>
<path fill="#b4f0fa" d="M912.7 459.6C914.2 457.5 917.8 454.2 921.5 453.1C925.1 452.0 930.6 452.0 934.6 453.1C938.6 454.2 942.6 457.8 945.5 459.6C948.4 461.5 949.5 461.8 952.0 464.0C954.6 466.2 958.2 469.8 960.7 472.7C963.3 475.6 965.8 477.8 967.3 481.5C968.7 485.1 967.8 490.4 969.5 494.6C971.1 498.7 979.3 504.6 977.1 506.6C974.9 508.6 960.9 508.6 956.4 506.6C951.8 504.6 952.0 498.0 949.8 494.6C947.7 491.1 946.6 488.7 943.3 485.8C940.0 482.9 934.2 479.3 930.2 477.1C926.2 474.9 922.2 474.6 919.3 472.7C916.4 470.9 913.8 468.4 912.7 466.2C911.6 464.0 911.3 461.8 912.7 459.6Z"/>
<path fill="#b4f0fa" d="M887.6 488.0C888.4 485.8 891.8 482.7 895.3 481.5C898.7 480.2 904.7 480.0 908.4 480.4C912.0 480.7 916.4 481.6 917.1 483.6C917.8 485.6 915.6 490.2 912.7 492.4C909.8 494.6 903.3 496.6 899.6 497.0C896.0 497.3 892.9 496.0 890.9 494.6C888.9 493.1 886.9 490.2 887.6 488.0Z"/>
<path fill="#ffe878" d="M910.6 501.1C911.6 499.5 914.6 498.0 917.1 497.8C919.6 497.6 924.0 498.4 925.8 500.0C927.6 501.6 930.6 506.4 928.0 507.7C925.5 508.9 913.5 508.7 910.6 507.7C907.6 506.6 909.5 502.7 910.6 501.1Z"/>
<path fill="#ffe878" d="M909.5 466.2C910.2 465.5 913.1 465.5 913.8 466.2C914.6 466.9 914.6 469.8 913.8 470.6C913.1 471.3 910.2 471.3 909.5 470.6C908.7 469.8 908.7 466.9 909.5 466.2Z"/>
<path fill="#ffe878" d="M856.0 464.0C857.5 459.3 860.4 455.6 862.6 453.1C864.7 450.6 867.3 447.6 869.1 448.7C870.9 449.8 871.8 456.0 873.5 459.6C875.1 463.3 878.2 466.6 878.9 470.6C879.6 474.6 876.9 480.0 877.8 483.6C878.7 487.3 882.2 489.5 884.4 492.4C886.6 495.3 889.4 498.6 890.9 501.1C892.4 503.6 902.6 506.6 893.5 507.7C884.4 508.7 844.1 509.8 836.4 507.7C828.7 505.5 844.4 498.9 847.3 494.6C850.2 490.2 852.4 486.6 853.8 481.5C855.3 476.4 854.6 468.7 856.0 464.0Z"/>
<path fill="#ffe878" d="M856.0 486.5C858.9 485.1 861.1 484.0 864.7 484.4C868.4 484.7 873.5 486.5 877.8 488.7C882.2 490.9 887.3 495.3 890.9 497.5C894.6 499.6 896.7 501.3 899.6 501.8C902.6 502.4 904.7 501.1 908.4 500.7C912.0 500.4 917.5 498.4 921.5 499.6C925.5 500.9 928.7 506.2 932.4 508.4C936.0 510.5 939.3 512.4 943.3 512.7C947.3 513.1 952.0 510.5 956.4 510.5C960.7 510.5 965.8 511.3 969.5 512.7C973.1 514.2 975.3 516.7 978.2 519.3C981.1 521.8 982.9 526.2 986.9 528.0C990.9 529.8 999.7 521.1 1002.2 530.2C1004.7 539.3 1004.0 573.5 1002.2 582.6C1000.4 591.6 995.3 584.7 991.3 584.7C987.3 584.7 982.6 581.8 978.2 582.6C973.8 583.3 969.5 587.6 965.1 589.1C960.7 590.6 956.4 591.3 952.0 591.3C947.7 591.3 943.3 589.8 938.9 589.1C934.6 588.4 930.2 588.7 925.8 586.9C921.5 585.1 917.1 580.4 912.7 578.2C908.4 576.0 904.0 574.2 899.6 573.8C895.3 573.5 890.2 576.0 886.6 576.0C882.9 576.0 881.5 573.5 877.8 573.8C874.2 574.2 869.1 577.5 864.7 578.2C860.4 578.9 855.6 578.6 851.6 578.2C847.6 577.8 844.0 575.3 840.7 576.0C837.5 576.7 834.2 582.6 832.0 582.6C829.8 582.6 829.1 578.6 827.6 576.0C826.2 573.5 825.5 569.5 823.3 567.3C821.1 565.1 817.1 564.4 814.5 562.9C812.0 561.5 809.8 560.4 808.0 558.6C806.2 556.7 803.3 554.6 803.6 552.0C804.0 549.5 807.6 546.6 810.2 543.3C812.7 540.0 815.6 536.7 818.9 532.4C822.2 528.0 826.6 522.2 829.8 517.1C833.1 512.0 835.6 505.8 838.6 501.8C841.5 497.8 844.4 495.6 847.3 493.1C850.2 490.5 853.1 488.0 856.0 486.5Z"/>
<path fill="#b4f0fa" d="M757.8 615.3C760.4 612.0 767.6 610.9 773.1 608.7C778.5 606.6 786.2 605.5 790.5 602.2C794.9 598.9 797.1 593.1 799.3 589.1C801.5 585.1 800.7 580.4 803.6 578.2C806.5 576.0 813.1 575.3 816.7 576.0C820.4 576.7 823.6 579.6 825.5 582.6C827.3 585.5 825.8 590.2 827.6 593.5C829.5 596.7 832.4 601.5 836.4 602.2C840.4 602.9 846.9 598.9 851.6 597.8C856.4 596.7 860.4 594.9 864.7 595.6C869.1 596.4 873.5 600.4 877.8 602.2C882.2 604.0 885.8 606.6 890.9 606.6C896.0 606.6 902.6 603.6 908.4 602.2C914.2 600.7 920.0 598.4 925.8 597.8C931.6 597.3 937.5 598.4 943.3 598.9C949.1 599.5 954.9 600.9 960.7 601.1C966.6 601.3 974.2 599.5 978.2 600.0C982.2 600.6 984.7 602.9 984.7 604.4C984.7 605.8 982.9 608.0 978.2 608.7C973.5 609.5 963.7 609.1 956.4 608.7C949.1 608.4 941.8 606.2 934.6 606.6C927.3 606.9 919.3 610.2 912.7 610.9C906.2 611.6 901.1 611.3 895.3 610.9C889.5 610.6 884.4 609.1 877.8 608.7C871.3 608.4 862.6 608.4 856.0 608.7C849.5 609.1 844.0 610.9 838.6 610.9C833.1 610.9 827.6 608.0 823.3 608.7C818.9 609.5 816.4 612.7 812.4 615.3C808.4 617.8 804.4 621.8 799.3 624.0C794.2 626.2 788.7 627.6 781.8 628.4C774.9 629.1 761.8 630.6 757.8 628.4C753.8 626.2 755.3 618.6 757.8 615.3Z"/>
<path fill="#b4f0fa" d="M877.8 582.6C878.6 578.9 885.8 576.7 890.9 576.0C896.0 575.3 904.0 576.0 908.4 578.2C912.7 580.4 916.4 585.8 917.1 589.1C917.8 592.4 915.6 595.6 912.7 597.8C909.8 600.0 904.0 602.2 899.6 602.2C895.3 602.2 890.2 601.1 886.6 597.8C882.9 594.6 877.1 586.2 877.8 582.6Z"/>
<path fill="#b4f0fa" d="M888.7 484.4C890.2 482.5 894.9 480.4 899.6 480.0C904.4 479.6 914.9 480.4 917.1 482.2C919.3 484.0 915.6 489.1 912.7 490.9C909.8 492.7 903.3 493.1 899.6 493.1C896.0 493.1 892.7 492.4 890.9 490.9C889.1 489.5 887.3 486.2 888.7 484.4Z"/>
<path fill="#b4f0fa" d="M952.0 478.9C953.5 477.3 961.1 476.5 965.1 478.9C969.1 481.3 973.8 488.2 976.0 493.1C978.2 498.0 978.9 505.8 978.2 508.4C977.5 510.9 973.8 510.2 971.7 508.4C969.5 506.5 967.7 500.7 965.1 497.5C962.6 494.2 958.6 491.8 956.4 488.7C954.2 485.6 950.6 480.5 952.0 478.9Z"/>
<path fill="#ffe878" d="M989.1 605.5C990.7 604.5 997.8 603.6 1000.0 604.4C1002.2 605.1 1003.8 608.9 1002.2 609.8C1000.6 610.8 992.4 610.8 990.2 610.0C988.0 609.3 987.5 606.4 989.1 605.5Z"/>
<path fill="#ffe878" d="M766.5 609.2C767.6 608.4 771.9 608.1 773.1 608.7C774.3 609.4 774.5 612.3 773.5 613.1C772.5 613.9 768.1 614.2 767.0 613.5C765.8 612.9 765.5 610.0 766.5 609.2Z"/>
<path fill="#ffe878" d="M257.5 377.5C261.0 371.2 270.4 357.9 275.0 352.5C279.6 347.1 281.7 345.8 285.0 345.0C288.3 344.2 291.2 345.4 295.0 347.5C298.8 349.6 304.4 350.4 307.5 357.5C310.6 364.6 311.9 382.3 313.8 390.0C315.6 397.7 316.9 401.2 318.8 403.8C320.6 406.3 323.8 406.8 325.0 405.5C326.2 404.2 326.7 400.9 326.2 396.2C325.8 391.6 322.3 382.3 322.5 377.5C322.7 372.7 324.6 370.4 327.5 367.5C330.4 364.6 336.2 361.7 340.0 360.0C343.8 358.3 346.7 356.7 350.0 357.5C353.3 358.3 357.5 361.2 360.0 365.0C362.5 368.8 364.0 373.8 365.0 380.0C366.0 386.2 366.7 396.9 366.2 402.5C365.8 408.1 361.5 410.0 362.5 413.8C363.5 417.5 370.2 421.2 372.5 425.0C374.8 428.8 374.0 432.7 376.2 436.2C378.5 439.8 382.5 443.3 386.2 446.2C390.0 449.2 395.4 450.6 398.8 453.8C402.1 456.9 405.4 460.6 406.2 465.0C407.1 469.4 405.4 476.0 403.8 480.0C402.1 484.0 398.5 485.4 396.2 488.8C394.0 492.1 391.9 495.6 390.0 500.0C388.1 504.4 385.0 510.0 385.0 515.0C385.0 520.0 387.9 525.4 390.0 530.0C392.1 534.6 395.8 538.3 397.5 542.5C399.2 546.7 433.3 552.9 400.0 555.0C366.7 557.1 231.2 559.6 197.5 555.0C163.8 550.4 196.2 532.7 197.5 527.5C198.8 522.3 202.3 526.7 205.0 523.8C207.7 520.8 211.0 516.5 213.8 510.0C216.5 503.5 219.2 492.5 221.2 485.0C223.3 477.5 224.6 472.5 226.2 465.0C227.9 457.5 229.8 447.1 231.2 440.0C232.7 432.9 232.7 428.3 235.0 422.5C237.3 416.7 241.9 410.4 245.0 405.0C248.1 399.6 251.7 394.6 253.8 390.0C255.8 385.4 254.0 383.8 257.5 377.5Z"/>
<path fill="#ffe878" d="M363.8 387.5C364.5 384.2 369.2 385.2 372.5 381.2C375.8 377.3 380.6 367.7 383.8 363.8C386.9 359.8 388.3 359.4 391.2 357.5C394.2 355.6 397.7 354.6 401.2 352.5C404.8 350.4 409.4 344.8 412.5 345.0C415.6 345.2 419.2 348.3 420.0 353.8C420.8 359.2 417.9 370.4 417.5 377.5C417.1 384.6 418.8 391.3 417.5 396.2C416.2 401.2 412.6 404.0 409.5 407.0C406.4 410.0 402.2 412.8 398.8 414.5C395.3 416.2 391.8 415.8 388.8 417.0C385.7 418.2 383.0 423.0 380.5 422.0C378.0 421.0 376.1 414.7 374.0 411.2C371.9 407.8 369.7 405.2 368.0 401.2C366.3 397.3 363.0 390.8 363.8 387.5Z"/>
<path fill="#b4f0fa" d="M432.5 440.0C433.8 437.9 440.4 436.7 445.0 437.5C449.6 438.3 455.0 444.2 460.0 445.0C465.0 445.8 472.5 440.4 475.0 442.5C477.5 444.6 477.5 455.0 475.0 457.5C472.5 460.0 464.6 458.6 460.0 457.8C455.4 456.9 451.2 453.8 447.5 452.5C443.8 451.2 440.0 452.1 437.5 450.0C435.0 447.9 431.2 442.1 432.5 440.0Z"/>
<path fill="#b4f0fa" d="M383.8 440.0C384.6 438.1 389.0 436.5 392.5 436.2C396.0 436.0 402.5 437.1 405.0 438.8C407.5 440.4 408.8 444.3 407.5 446.2C406.2 448.2 400.8 450.0 397.5 450.2C394.2 450.5 389.8 449.2 387.5 447.5C385.2 445.8 382.9 441.9 383.8 440.0Z"/>
<path fill="#b4f0fa" d="M375.0 495.0C376.5 492.1 382.5 489.2 385.0 490.0C387.5 490.8 388.8 495.8 390.0 500.0C391.2 504.2 390.8 510.0 392.5 515.0C394.2 520.0 397.5 526.2 400.0 530.0C402.5 533.8 406.2 535.0 407.5 537.5C408.8 540.0 409.2 544.4 407.5 545.2C405.8 546.1 400.8 544.9 397.5 542.8C394.2 540.6 390.4 536.3 387.5 532.5C384.6 528.7 381.9 524.2 380.0 520.0C378.1 515.8 377.1 511.7 376.2 507.5C375.4 503.3 373.5 497.9 375.0 495.0Z"/>
<path fill="#ffe878" d="M421.2 527.5C421.7 525.6 429.0 524.0 432.5 523.8C436.0 523.5 440.0 524.0 442.5 526.2C445.0 528.5 447.9 535.2 447.5 537.5C447.1 539.8 442.9 540.7 440.0 540.2C437.1 539.8 433.1 537.1 430.0 535.0C426.9 532.9 420.8 529.4 421.2 527.5Z"/>
<path fill="#b4f0fa" d="M430.0 540.0C431.7 537.9 439.2 537.9 442.5 538.8C445.8 539.6 449.6 542.7 450.0 545.0C450.4 547.3 447.9 551.5 445.0 552.5C442.1 553.5 435.0 553.3 432.5 551.2C430.0 549.2 428.3 542.1 430.0 540.0Z"/>
<path fill="#ffe878" d="M197.5 562.5C206.9 555.6 225.0 552.1 255.0 550.0C285.0 547.9 357.1 545.6 377.5 550.0C397.9 554.4 379.6 571.0 377.5 576.2C375.4 581.5 368.8 579.6 365.0 581.2C361.2 582.9 359.2 585.0 355.0 586.2C350.8 587.5 345.0 588.8 340.0 588.8C335.0 588.8 330.0 588.3 325.0 586.2C320.0 584.2 314.2 577.1 310.0 576.2C305.8 575.4 303.3 579.6 300.0 581.2C296.7 582.9 294.2 584.6 290.0 586.2C285.8 587.9 280.0 590.4 275.0 591.2C270.0 592.1 264.2 590.0 260.0 591.2C255.8 592.5 253.3 596.7 250.0 598.8C246.7 600.8 242.3 601.7 240.0 603.8C237.7 605.8 238.8 610.8 236.2 611.2C233.8 611.7 229.0 608.3 225.0 606.2C221.0 604.2 216.9 601.2 212.5 598.8C208.1 596.2 201.2 597.3 198.8 591.2C196.2 585.2 188.1 569.4 197.5 562.5Z"/>
<path fill="#ffe878" d="M200.0 530.0C201.7 522.1 206.7 521.7 210.0 517.5C213.3 513.3 217.5 509.6 220.0 505.0C222.5 500.4 221.7 490.0 225.0 490.0C228.3 490.0 234.2 502.9 240.0 505.0C245.8 507.1 255.8 500.4 260.0 502.5C264.2 504.6 264.6 510.4 265.0 517.5C265.4 524.6 264.2 537.1 262.5 545.0C260.8 552.9 258.8 561.2 255.0 565.0C251.2 568.8 245.0 567.9 240.0 567.5C235.0 567.1 229.6 562.9 225.0 562.5C220.4 562.1 216.7 564.6 212.5 565.0C208.3 565.4 202.1 570.8 200.0 565.0C197.9 559.2 198.3 537.9 200.0 530.0Z"/>
<path fill="#b4f0fa" d="M340.0 610.0C340.4 608.7 346.7 608.3 350.0 606.2C353.3 604.2 357.1 599.8 360.0 597.5C362.9 595.2 365.6 592.1 367.5 592.5C369.4 592.9 371.0 597.1 371.2 600.0C371.5 602.9 370.6 607.5 368.8 610.0C366.9 612.5 363.5 614.6 360.0 615.2C356.5 615.9 350.8 614.9 347.5 614.0C344.2 613.1 339.6 611.3 340.0 610.0Z"/>
<path fill="#ffe878" d="M312.5 602.5C312.9 600.3 317.5 596.5 320.0 595.0C322.5 593.5 326.5 592.5 327.5 593.8C328.5 595.0 327.9 600.1 326.2 602.5C324.6 604.9 319.8 608.2 317.5 608.2C315.2 608.2 312.1 604.7 312.5 602.5Z"/>
<path fill="#b4f0fa" d="M546.2 545.0C547.7 542.1 552.5 541.2 555.0 542.5C557.5 543.8 560.4 549.2 561.2 552.5C562.1 555.8 561.5 560.2 560.0 562.5C558.5 564.8 554.8 566.7 552.5 566.2C550.2 565.8 547.3 563.5 546.2 560.0C545.2 556.5 544.8 547.9 546.2 545.0Z"/>
<path fill="#ffe878" d="M482.5 502.5C482.7 499.2 484.6 492.5 487.5 490.0C490.4 487.5 495.8 486.7 500.0 487.5C504.2 488.3 508.3 492.5 512.5 495.0C516.7 497.5 520.4 500.4 525.0 502.5C529.6 504.6 535.8 505.4 540.0 507.5C544.2 509.6 547.8 511.7 550.0 515.0C552.2 518.3 553.8 524.8 553.0 527.5C552.2 530.2 548.0 531.9 545.0 531.5C542.0 531.1 539.2 526.9 535.0 525.0C530.8 523.1 524.6 521.2 520.0 520.0C515.4 518.8 511.7 518.8 507.5 517.5C503.3 516.2 498.5 513.8 495.0 512.5C491.5 511.2 488.3 511.7 486.2 510.0C484.2 508.3 482.3 505.8 482.5 502.5Z"/>
<path fill="#ffe878" d="M477.5 480.0C478.3 477.9 482.1 475.4 485.0 475.0C487.9 474.6 493.1 475.4 495.0 477.5C496.9 479.6 497.8 485.4 496.5 487.5C495.2 489.6 490.2 490.2 487.5 490.2C484.8 490.2 481.7 489.2 480.0 487.5C478.3 485.8 476.7 482.1 477.5 480.0Z"/>
<path fill="#ffe878" d="M460.0 565.0C460.6 561.2 465.0 561.7 467.5 557.5C470.0 553.3 472.9 545.4 475.0 540.0C477.1 534.6 478.3 527.1 480.0 525.0C481.7 522.9 484.3 523.8 485.0 527.5C485.7 531.2 484.0 541.2 484.0 547.5C484.0 553.8 485.5 560.2 485.2 565.0C485.0 569.8 484.9 573.1 482.8 576.2C480.6 579.4 475.7 583.3 472.5 584.0C469.3 584.7 465.8 583.4 463.8 580.2C461.7 577.1 459.4 568.8 460.0 565.0Z"/>
<path fill="#b4f0fa" d="M514.5 546.2C515.5 544.0 520.6 542.7 522.0 544.5C523.4 546.3 524.0 554.8 523.0 557.0C522.0 559.2 517.7 559.8 516.2 558.0C514.8 556.2 513.5 548.5 514.5 546.2Z"/>
<path fill="#b4f0fa" d="M400.0 532.5C401.2 530.5 407.1 529.7 410.0 530.5C412.9 531.3 417.1 535.1 417.5 537.5C417.9 539.9 415.0 544.2 412.5 545.0C410.0 545.8 404.6 544.6 402.5 542.5C400.4 540.4 398.8 534.5 400.0 532.5Z"/>
<path fill="#b4f0fa" d="M425.0 540.0C427.3 538.8 435.8 539.2 440.0 540.0C444.2 540.8 448.8 542.5 450.0 545.0C451.2 547.5 450.0 553.8 447.5 555.0C445.0 556.2 438.5 553.8 435.0 552.5C431.5 551.2 427.9 549.6 426.2 547.5C424.6 545.4 422.7 541.2 425.0 540.0Z"/>
<path fill="#b4f0fa" d="M445.0 560.0C446.9 557.9 454.8 556.2 457.5 557.5C460.2 558.8 461.9 564.4 461.2 567.5C460.6 570.6 456.2 575.8 453.8 576.2C451.2 576.7 447.7 572.7 446.2 570.0C444.8 567.3 443.1 562.1 445.0 560.0Z"/>
<path fill="#b4f0fa" d="M415.0 575.0C417.1 572.5 424.6 572.1 427.5 573.8C430.4 575.4 432.9 581.7 432.5 585.0C432.1 588.3 427.9 593.1 425.0 593.8C422.1 594.4 416.7 591.9 415.0 588.8C413.3 585.6 412.9 577.5 415.0 575.0Z"/>
<path fill="#ffe878" d="M400.0 467.5C400.8 465.4 404.1 465.9 405.0 468.0C405.9 470.1 406.3 477.9 405.5 480.0C404.7 482.1 400.9 482.6 400.0 480.5C399.1 478.4 399.2 469.6 400.0 467.5Z"/>
<path fill="#ffe878" d="M453.8 612.5C454.6 609.8 461.9 606.2 462.5 602.5C463.1 598.8 457.1 592.9 457.5 590.0C457.9 587.1 460.8 585.4 465.0 585.0C469.2 584.6 477.5 588.3 482.5 587.5C487.5 586.7 491.2 582.1 495.0 580.0C498.8 577.9 501.2 575.2 505.0 575.0C508.8 574.8 513.3 577.9 517.5 578.8C521.7 579.6 525.4 580.6 530.0 580.0C534.6 579.4 540.0 576.7 545.0 575.0C550.0 573.3 555.0 571.2 560.0 570.0C565.0 568.8 570.0 568.3 575.0 567.5C580.0 566.7 585.8 566.7 590.0 565.0C594.2 563.3 596.7 559.2 600.0 557.5C603.3 555.8 605.8 555.0 610.0 555.0C614.2 555.0 620.0 557.9 625.0 557.5C630.0 557.1 635.8 554.6 640.0 552.5C644.2 550.4 646.2 546.2 650.0 545.0C653.8 543.8 657.9 544.6 662.5 545.0C667.1 545.4 675.0 536.7 677.5 547.5C680.0 558.3 680.4 600.0 677.5 610.0C674.6 620.0 665.4 608.8 660.0 607.5C654.6 606.2 649.2 602.9 645.0 602.5C640.8 602.1 639.2 605.4 635.0 605.0C630.8 604.6 625.0 602.1 620.0 600.0C615.0 597.9 609.2 594.6 605.0 592.5C600.8 590.4 598.3 587.1 595.0 587.5C591.7 587.9 588.3 591.2 585.0 595.0C581.7 598.8 578.3 605.4 575.0 610.0C571.7 614.6 569.2 620.0 565.0 622.5C560.8 625.0 555.0 625.2 550.0 625.2C545.0 625.3 540.0 623.4 535.0 622.8C530.0 622.1 525.0 622.1 520.0 621.5C515.0 620.9 510.4 619.2 505.0 619.0C499.6 618.8 493.3 620.0 487.5 620.2C481.7 620.5 475.0 620.5 470.0 620.2C465.0 620.0 460.2 620.3 457.5 619.0C454.8 617.7 452.9 615.2 453.8 612.5Z"/>
<path fill="#b4f0fa" d="M585.0 600.0C586.2 597.1 591.2 593.3 595.0 592.5C598.8 591.7 603.3 593.8 607.5 595.0C611.7 596.2 615.8 598.3 620.0 600.0C624.2 601.7 628.5 602.5 632.5 605.0C636.5 607.5 641.8 611.6 643.8 615.0C645.7 618.4 645.9 623.8 644.0 625.2C642.1 626.8 636.5 624.8 632.5 624.0C628.5 623.2 624.2 621.7 620.0 620.2C615.8 618.8 611.7 616.1 607.5 615.2C603.3 614.4 598.3 616.1 595.0 615.2C591.7 614.4 589.2 612.5 587.5 610.0C585.8 607.5 583.8 602.9 585.0 600.0Z"/>
<path fill="#b4f0fa" d="M397.5 616.2C400.4 615.2 409.6 614.8 415.0 615.0C420.4 615.2 425.0 616.9 430.0 617.5C435.0 618.1 442.7 617.9 445.0 618.8C447.3 619.6 447.3 622.2 444.0 622.8C440.7 623.3 432.8 622.5 425.0 622.2C417.2 622.0 402.1 622.5 397.5 621.5C392.9 620.5 394.6 617.3 397.5 616.2Z"/>
<path fill="#ffe878" d="M617.5 542.5C620.4 532.5 629.2 540.2 635.0 540.0C640.8 539.8 646.7 540.0 652.5 541.2C658.3 542.5 664.6 545.2 670.0 547.5C675.4 549.8 681.2 551.2 685.0 555.0C688.8 558.8 689.6 566.2 692.5 570.0C695.4 573.8 697.9 575.8 702.5 577.5C707.1 579.2 715.4 578.8 720.0 580.0C724.6 581.2 727.9 581.7 730.0 585.0C732.1 588.3 732.5 595.8 732.5 600.0C732.5 604.2 732.1 607.5 730.0 610.0C727.9 612.5 724.2 613.3 720.0 615.0C715.8 616.7 709.6 620.2 705.0 620.2C700.4 620.3 696.7 616.1 692.5 615.2C688.3 614.4 683.8 616.5 680.0 615.2C676.2 614.0 674.2 609.2 670.0 607.5C665.8 605.8 660.8 605.8 655.0 605.0C649.2 604.2 641.2 603.3 635.0 602.5C628.8 601.7 620.4 610.0 617.5 600.0C614.6 590.0 614.6 552.5 617.5 542.5Z"/>
<path fill="#ffe878" d="M715.0 495.0C715.8 492.9 721.2 491.7 725.0 490.0C728.8 488.3 734.2 485.0 737.5 485.0C740.8 485.0 742.9 487.1 745.0 490.0C747.1 492.9 747.5 500.0 750.0 502.5C752.5 505.0 756.7 504.2 760.0 505.0C763.3 505.8 770.0 506.2 770.0 507.5C770.0 508.8 764.2 512.3 760.0 512.8C755.8 513.2 749.6 511.1 745.0 510.2C740.4 509.4 736.7 509.0 732.5 507.8C728.3 506.5 722.9 504.6 720.0 502.5C717.1 500.4 714.2 497.1 715.0 495.0Z"/>
<path fill="#b4f0fa" d="M707.5 512.5C708.5 510.8 712.9 508.3 715.0 508.8C717.1 509.2 720.0 513.1 720.0 515.0C720.0 516.9 716.9 519.6 715.0 520.2C713.1 520.9 710.0 520.3 708.8 519.0C707.5 517.7 706.5 514.2 707.5 512.5Z"/>
<path fill="#b4f0fa" d="M680.0 520.0C681.7 518.1 687.5 516.2 690.0 517.5C692.5 518.8 695.4 525.0 695.0 527.5C694.6 530.0 690.0 532.5 687.5 532.8C685.0 533.0 681.2 531.1 680.0 529.0C678.8 526.9 678.3 521.9 680.0 520.0Z"/>
<path fill="#b4f0fa" d="M682.5 625.0C683.3 623.3 688.8 619.6 692.5 620.0C696.2 620.4 700.4 627.1 705.0 627.5C709.6 627.9 715.0 624.6 720.0 622.5C725.0 620.4 730.0 615.4 735.0 615.0C740.0 614.6 745.0 619.4 750.0 620.0C755.0 620.6 760.0 619.6 765.0 618.8C770.0 617.9 775.0 617.3 780.0 615.0C785.0 612.7 791.7 609.2 795.0 605.0C798.3 600.8 796.7 593.3 800.0 590.0C803.3 586.7 810.4 585.0 815.0 585.0C819.6 585.0 825.8 587.5 827.5 590.0C829.2 592.5 827.9 597.5 825.0 600.0C822.1 602.5 814.2 602.5 810.0 605.0C805.8 607.5 802.5 612.1 800.0 615.0C797.5 617.9 798.3 620.4 795.0 622.5C791.7 624.6 785.8 626.5 780.0 627.8C774.2 629.0 766.7 629.8 760.0 630.2C753.3 630.7 746.7 629.8 740.0 630.2C733.3 630.7 726.2 632.3 720.0 632.8C713.8 633.2 707.9 633.2 702.5 632.8C697.1 632.3 690.8 631.5 687.5 630.2C684.2 629.0 681.7 626.7 682.5 625.0Z"/>
<path fill="#b4f0fa" d="M617.5 602.5C619.6 598.9 625.8 602.9 630.0 605.0C634.2 607.1 640.0 611.7 642.5 615.0C645.0 618.3 646.2 622.9 645.0 625.0C643.8 627.1 639.6 627.5 635.0 627.8C630.4 628.0 620.4 630.7 617.5 626.5C614.6 622.3 615.4 606.1 617.5 602.5Z"/>
<path fill="#ffe878" d="M373.2 395.8C374.2 388.8 377.6 388.2 379.6 384.9C381.5 381.5 382.9 378.8 385.0 375.7C387.2 372.7 389.9 370.0 392.3 366.6C394.8 363.3 397.2 358.7 399.6 355.7C402.0 352.6 404.5 350.8 406.9 348.4C409.3 346.0 411.8 343.8 414.2 341.1C416.6 338.4 419.1 334.4 421.5 332.0C423.9 329.6 426.2 328.0 428.8 326.5C431.4 325.0 434.4 323.8 437.0 322.9C439.6 322.0 441.5 321.4 444.3 321.0C447.0 320.7 450.4 320.4 453.4 321.0C456.4 321.7 459.2 323.5 462.5 324.7C465.9 325.9 469.8 328.0 473.5 328.3C477.1 328.6 481.4 327.9 484.4 326.5C487.4 325.2 490.8 322.6 491.7 320.1C492.6 317.7 490.2 315.4 489.9 311.9C489.6 308.4 489.5 302.7 489.9 299.2C490.2 295.7 490.5 292.8 492.0 291.0C493.6 289.1 496.9 287.8 499.0 288.2C501.0 288.6 503.8 291.2 504.4 293.3C505.1 295.5 502.7 298.7 502.6 301.0C502.6 303.3 502.7 305.2 504.1 307.4C505.4 309.6 508.3 312.6 510.8 314.3C513.3 316.0 516.2 317.2 519.0 317.4C521.9 317.6 525.2 317.0 527.8 315.6C530.4 314.1 532.0 310.8 534.5 308.7C537.0 306.5 539.9 303.3 542.7 302.8C545.6 302.3 550.0 303.6 551.5 305.6C553.0 307.5 552.7 311.9 551.8 314.7C551.0 317.4 547.6 318.9 546.4 322.0C545.2 325.0 546.1 329.8 544.6 332.9C543.0 336.0 540.2 338.8 536.9 340.7C533.6 342.7 529.4 343.8 524.9 344.7C520.4 345.7 515.4 346.0 509.9 346.6C504.4 347.2 497.8 347.8 491.7 348.4C485.6 349.0 478.3 349.6 473.5 350.2C468.6 350.8 466.8 350.8 462.5 352.0C458.3 353.3 452.2 356.0 447.9 357.5C443.7 359.0 440.5 359.9 437.0 361.2C433.5 362.4 429.7 363.6 427.0 364.8C424.2 366.0 422.2 367.1 420.6 368.5C419.0 369.8 418.1 370.0 417.3 373.0C416.4 376.0 415.5 382.6 415.5 386.7C415.5 390.8 417.7 393.7 417.3 397.6C416.9 401.5 415.3 407.3 413.3 410.0C411.3 412.8 407.7 412.8 405.1 414.0C402.5 415.3 400.2 415.5 397.8 417.7C395.4 419.8 394.6 425.3 390.5 426.8C386.4 428.3 376.1 432.0 373.2 426.8C370.3 421.6 372.1 402.8 373.2 395.8Z"/>
<path fill="#b4f0fa" d="M427.0 306.5C427.0 304.2 429.5 301.4 431.5 299.2C433.5 296.9 436.1 294.6 438.8 292.8C441.5 291.0 445.2 289.1 447.9 288.2C450.7 287.3 453.7 286.4 455.2 287.3C456.7 288.2 457.3 291.1 457.0 293.7C456.7 296.3 454.9 300.1 453.4 302.8C451.9 305.6 450.4 308.3 447.9 310.1C445.5 312.0 441.5 313.5 438.8 313.9C436.1 314.4 433.5 314.3 431.5 313.0C429.5 311.8 427.0 308.8 427.0 306.5Z"/>
<path fill="#b4f0fa" d="M423.3 330.2C423.6 328.0 426.2 325.9 427.9 324.7C429.5 323.5 432.0 322.3 433.3 322.9C434.7 323.5 436.4 326.2 436.1 328.3C435.8 330.5 433.2 334.1 431.5 335.6C429.8 337.2 427.4 338.6 426.0 337.6C424.7 336.7 423.0 332.3 423.3 330.2Z"/>
<path fill="#b4f0fa" d="M385.9 363.0C386.5 361.1 391.1 358.1 393.2 357.5C395.4 356.9 398.1 358.1 398.7 359.3C399.3 360.5 398.4 363.3 396.9 364.8C395.4 366.4 391.4 368.9 389.6 368.6C387.8 368.3 385.3 364.8 385.9 363.0Z"/>
<path fill="#ffe878" d="M389.6 467.9C390.3 465.5 392.9 463.1 395.1 462.5C397.2 461.8 400.5 462.5 402.3 464.3C404.2 466.1 406.0 470.7 406.0 473.4C406.0 476.1 404.2 479.1 402.3 480.7C400.5 482.2 397.0 483.3 395.1 482.7C393.1 482.1 391.4 479.5 390.5 477.0C389.6 474.6 388.8 470.4 389.6 467.9Z"/>
<path fill="#b4f0fa" d="M376.8 469.7C377.6 467.6 380.8 467.0 382.3 467.9C383.8 468.8 385.8 472.8 385.9 475.2C386.1 477.6 384.6 481.6 383.2 482.5C381.8 483.4 378.8 482.8 377.7 480.7C376.7 478.6 376.1 471.9 376.8 469.7Z"/>
<path fill="#b4f0fa" d="M382.3 498.9C383.2 496.8 387.5 496.2 389.6 497.1C391.7 498.0 394.8 502.0 395.1 504.4C395.4 506.8 393.2 510.8 391.4 511.7C389.6 512.6 385.6 512.0 384.1 509.9C382.6 507.7 381.4 501.0 382.3 498.9Z"/>
<path fill="#ffe878" d="M520.0 374.5C522.5 370.3 529.8 373.1 535.3 372.0C540.8 370.9 547.1 368.8 553.1 368.2C559.0 367.5 565.4 369.0 570.9 368.2C576.4 367.3 581.9 364.8 586.2 363.1C590.4 361.4 598.9 355.9 596.4 358.0C593.8 360.1 577.3 371.4 570.9 375.8C564.5 380.3 562.4 381.8 558.2 384.7C553.9 387.7 551.8 391.5 545.5 393.6C539.1 395.8 524.2 400.6 520.0 397.4C515.8 394.3 517.5 378.8 520.0 374.5Z"/>
<path fill="#ffe878" d="M545.5 442.0C548.8 439.9 562.4 444.5 570.9 444.5C579.4 444.5 587.0 442.8 596.4 442.0C605.7 441.1 617.6 439.4 626.9 439.4C636.2 439.4 644.7 441.1 652.3 442.0C660.0 442.8 671.0 442.4 672.7 444.5C674.4 446.7 670.2 453.9 662.5 454.7C654.9 455.6 637.9 449.6 626.9 449.6C615.9 449.6 605.7 452.6 596.4 454.7C587.0 456.8 578.5 461.9 570.9 462.3C563.3 462.8 554.8 460.7 550.5 457.3C546.3 453.9 542.1 444.1 545.5 442.0Z"/>
<path fill="#ffffff" d="M585.0 520.0C585.8 517.5 594.4 514.2 597.5 515.0C600.6 515.8 603.3 520.8 603.8 525.0C604.2 529.2 601.9 539.2 600.0 540.0C598.1 540.8 595.0 533.3 592.5 530.0C590.0 526.7 584.2 522.5 585.0 520.0Z"/>
<path fill="#ffffff" d="M901.8 286.4C903.6 283.5 913.6 282.9 917.1 284.2C920.6 285.5 922.6 290.9 922.6 294.0C922.6 297.1 919.8 301.5 917.1 302.7C914.4 304.0 908.7 304.4 906.2 301.6C903.6 298.9 900.0 289.3 901.8 286.4Z"/>
<path fill="#ffffff" d="M847.3 333.1C849.1 331.1 858.2 331.5 862.6 332.0C866.9 332.5 873.1 334.5 873.5 336.4C873.8 338.2 868.4 341.6 864.7 342.9C861.1 344.2 854.6 345.6 851.6 344.0C848.7 342.4 845.5 335.1 847.3 333.1Z"/>
<path fill="#ffffff" d="M853.8 521.5C855.3 519.6 860.7 518.9 864.7 519.3C868.7 519.6 874.9 521.5 877.8 523.6C880.7 525.8 882.9 530.2 882.2 532.4C881.5 534.5 876.7 536.4 873.5 536.7C870.2 537.1 865.5 535.6 862.6 534.5C859.6 533.5 857.5 532.4 856.0 530.2C854.6 528.0 852.4 523.3 853.8 521.5Z"/>
<path fill="#ffffff" d="M899.6 534.5C901.1 532.7 908.4 532.0 912.7 532.4C917.1 532.7 922.2 534.5 925.8 536.7C929.5 538.9 934.6 543.3 934.6 545.5C934.6 547.6 929.5 549.5 925.8 549.8C922.2 550.2 916.4 548.7 912.7 547.6C909.1 546.6 906.2 545.5 904.0 543.3C901.8 541.1 898.2 536.4 899.6 534.5Z"/>
<path fill="#ffffff" d="M842.9 554.2C844.4 552.4 852.4 551.3 856.0 552.0C859.6 552.7 864.4 556.4 864.7 558.6C865.1 560.7 861.1 564.4 858.2 565.1C855.3 565.8 849.8 564.7 847.3 562.9C844.7 561.1 841.5 556.0 842.9 554.2Z"/>
<path fill="#ffffff" d="M882.2 556.4C884.2 554.7 892.4 553.1 895.3 554.2C898.2 555.3 900.4 560.7 899.6 562.9C898.9 565.1 893.6 567.1 890.9 567.3C888.2 567.5 884.7 565.8 883.3 564.0C881.8 562.2 880.2 558.0 882.2 556.4Z"/>
<path fill="#ffffff" d="M960.7 534.5C962.0 532.7 966.9 531.6 969.5 532.4C972.0 533.1 976.0 536.7 976.0 538.9C976.0 541.1 971.8 544.7 969.5 545.5C967.1 546.2 963.3 545.1 961.8 543.3C960.4 541.5 959.5 536.4 960.7 534.5Z"/>
<path fill="#ffffff" d="M928.0 552.0C929.1 549.8 936.7 550.2 938.9 552.0C941.1 553.8 942.2 560.7 941.1 562.9C940.0 565.1 934.6 566.9 932.4 565.1C930.2 563.3 926.9 554.2 928.0 552.0Z"/>
<path fill="#ffffff" d="M340.0 440.0C342.9 438.3 346.7 435.0 350.0 435.0C353.3 435.0 356.7 437.5 360.0 440.0C363.3 442.5 366.7 447.1 370.0 450.0C373.3 452.9 379.2 455.0 380.0 457.5C380.8 460.0 377.5 464.6 375.0 465.0C372.5 465.4 368.3 460.4 365.0 460.0C361.7 459.6 357.9 460.8 355.0 462.5C352.1 464.2 350.0 469.6 347.5 470.0C345.0 470.4 342.1 467.5 340.0 465.0C337.9 462.5 336.2 458.3 335.0 455.0C333.8 451.7 331.7 447.5 332.5 445.0C333.3 442.5 337.1 441.7 340.0 440.0Z"/>
<path fill="#ffffff" d="M355.0 480.0C355.8 477.5 361.7 475.0 365.0 475.0C368.3 475.0 372.9 477.5 375.0 480.0C377.1 482.5 378.3 487.5 377.5 490.0C376.7 492.5 372.9 495.0 370.0 495.0C367.1 495.0 362.5 492.5 360.0 490.0C357.5 487.5 354.2 482.5 355.0 480.0Z"/>
<path fill="#ffffff" d="M215.0 530.0C218.3 526.7 225.0 522.5 230.0 520.0C235.0 517.5 240.4 514.2 245.0 515.0C249.6 515.8 255.8 520.8 257.5 525.0C259.2 529.2 257.9 535.4 255.0 540.0C252.1 544.6 245.8 550.4 240.0 552.5C234.2 554.6 225.0 554.6 220.0 552.5C215.0 550.4 210.8 543.8 210.0 540.0C209.2 536.2 211.7 533.3 215.0 530.0Z"/>
<path fill="#ffffff" d="M217.5 527.5C219.6 525.2 226.2 522.1 230.0 522.5C233.8 522.9 238.8 527.1 240.0 530.0C241.2 532.9 240.0 537.9 237.5 540.0C235.0 542.1 228.3 543.1 225.0 542.5C221.7 541.9 218.8 538.8 217.5 536.2C216.2 533.8 215.4 529.8 217.5 527.5Z"/>
<path fill="#ffffff" d="M245.0 537.5C247.3 535.4 257.1 532.5 260.0 535.0C262.9 537.5 263.8 549.2 262.5 552.5C261.2 555.8 255.2 555.8 252.5 555.0C249.8 554.2 247.5 550.4 246.2 547.5C245.0 544.6 242.7 539.6 245.0 537.5Z"/>
<path fill="#b4f0fa" d="M219.5 531.2C220.2 530.1 223.9 529.3 225.0 530.0C226.1 530.7 226.9 534.3 226.2 535.5C225.6 536.7 222.1 537.7 221.0 537.0C219.9 536.3 218.8 532.4 219.5 531.2Z"/>
<path fill="#ff6000" d="M198.0 196.2C198.7 193.4 199.2 188.7 202.0 186.5C204.8 184.3 209.9 184.1 215.0 183.2C220.1 182.4 225.4 181.9 232.5 181.5C239.6 181.1 248.3 180.9 257.5 180.8C266.7 180.6 278.8 180.6 287.5 180.8C296.2 180.9 304.6 180.3 310.0 181.5C315.4 182.7 316.7 186.1 320.0 187.8C323.3 189.4 326.9 190.7 330.0 191.5C333.1 192.3 337.5 191.8 338.8 192.8C340.0 193.8 339.4 196.3 337.5 197.5C335.6 198.7 332.5 199.0 327.5 200.0C322.5 201.0 312.5 201.2 307.5 203.8C302.5 206.2 302.9 213.5 297.5 215.0C292.1 216.5 282.9 211.7 275.0 212.5C267.1 213.3 256.2 218.5 250.0 220.0C243.8 221.5 241.7 222.3 237.5 221.2C233.3 220.2 229.6 215.8 225.0 213.8C220.4 211.7 213.7 209.7 210.0 208.8C206.3 207.8 205.0 208.8 203.0 208.0C201.0 207.2 198.8 205.7 198.0 203.8C197.2 201.8 197.3 199.1 198.0 196.2Z"/>
<path fill="#ff6000" d="M232.5 176.2C231.9 175.0 240.0 172.8 246.2 172.0C252.5 171.2 263.5 171.1 270.0 171.5C276.5 171.9 282.2 173.3 285.0 174.2C287.8 175.2 288.2 176.2 286.5 177.0C284.8 177.8 281.1 178.9 275.0 179.2C268.9 179.6 257.1 179.8 250.0 179.2C242.9 178.8 233.1 177.5 232.5 176.2Z"/>
<path fill="#50a5f5" d="M200.0 177.5C202.5 176.7 211.0 176.6 215.0 177.0C219.0 177.4 223.8 179.0 223.8 180.0C223.8 181.0 219.0 182.5 215.0 182.8C211.0 183.0 202.5 182.6 200.0 181.8C197.5 180.9 197.5 178.3 200.0 177.5Z"/>
<path fill="#50a5f5" d="M320.0 182.5C321.2 181.5 326.2 179.5 330.0 178.8C333.8 178.0 339.2 177.6 342.5 178.0C345.8 178.4 348.8 179.7 350.0 181.2C351.2 182.8 351.7 185.8 350.0 187.5C348.3 189.2 343.3 191.0 340.0 191.2C336.7 191.5 332.9 189.8 330.0 188.8C327.1 187.7 324.2 186.0 322.5 185.0C320.8 184.0 318.8 183.5 320.0 182.5Z"/>
<path fill="#ff6000" d="M354.5 187.5C355.1 187.1 357.4 187.1 358.0 187.5C358.6 187.9 358.6 189.6 358.0 190.0C357.4 190.4 355.1 190.4 354.5 190.0C353.9 189.6 353.9 187.9 354.5 187.5Z"/>
<path fill="#ff6000" d="M381.2 186.2C381.7 185.8 385.2 186.5 386.2 187.0C387.3 187.5 387.9 189.1 387.5 189.5C387.1 189.9 384.8 190.0 383.8 189.5C382.7 189.0 380.8 186.7 381.2 186.2Z"/>
<path fill="#50a5f5" d="M403.8 194.5C404.6 193.6 410.2 192.5 415.0 192.0C419.8 191.5 428.3 191.0 432.5 191.2C436.7 191.5 441.2 192.6 440.0 193.8C438.8 194.9 430.0 197.4 425.0 198.0C420.0 198.6 413.5 198.1 410.0 197.5C406.5 196.9 402.9 195.4 403.8 194.5Z"/>
<path fill="#ff6000" d="M208.8 290.0C209.0 288.1 210.8 284.4 212.5 283.8C214.2 283.1 217.9 284.6 218.8 286.2C219.6 287.9 218.8 292.3 217.5 293.8C216.2 295.2 212.7 295.6 211.2 295.0C209.8 294.4 208.5 291.9 208.8 290.0Z"/>
<path fill="#ff6000" d="M225.0 291.2C225.4 290.0 229.6 289.4 231.2 290.0C232.9 290.6 235.4 293.8 235.0 295.0C234.6 296.2 230.4 298.1 228.8 297.5C227.1 296.9 224.6 292.5 225.0 291.2Z"/>
<path fill="#ff6000" d="M198.8 302.5C199.8 300.4 203.5 304.2 205.0 306.2C206.5 308.3 207.7 312.6 207.5 315.0C207.3 317.4 205.2 319.8 203.8 320.5C202.3 321.2 199.6 322.0 198.8 319.0C197.9 316.0 197.7 304.6 198.8 302.5Z"/>
<path fill="#50a5f5" d="M220.0 337.5C220.2 335.8 222.3 337.5 223.8 340.0C225.2 342.5 227.3 348.8 228.8 352.5C230.2 356.2 232.9 360.8 232.5 362.5C232.1 364.2 227.9 364.6 226.2 362.5C224.6 360.4 223.5 354.2 222.5 350.0C221.5 345.8 219.8 339.2 220.0 337.5Z"/>
<path fill="#ff6000" d="M253.8 336.2C254.2 336.0 257.6 339.5 258.8 341.2C259.9 343.0 260.9 346.5 260.5 346.8C260.1 347.0 257.4 344.8 256.2 343.0C255.1 341.2 253.3 336.5 253.8 336.2Z"/>
<path fill="#ff6000" d="M281.2 353.8C282.9 351.5 289.4 351.1 292.5 351.8C295.6 352.4 298.1 355.3 300.0 357.5C301.9 359.7 306.7 363.8 303.8 365.0C300.8 366.2 286.2 366.9 282.5 365.0C278.8 363.1 279.6 356.0 281.2 353.8Z"/>
<path fill="#ff6000" d="M408.8 305.0C409.2 303.7 412.5 301.0 413.8 301.2C415.0 301.5 416.7 305.0 416.2 306.2C415.8 307.5 412.5 309.2 411.2 309.0C410.0 308.8 408.3 306.3 408.8 305.0Z"/>
<path fill="#ff6000" d="M417.5 307.5C418.3 306.2 421.8 307.9 422.5 310.0C423.2 312.1 422.3 318.8 421.5 320.0C420.7 321.2 418.2 319.6 417.5 317.5C416.8 315.4 416.7 308.8 417.5 307.5Z"/>
<path fill="#50a5f5" d="M497.5 206.2C498.3 205.2 502.1 203.9 505.0 203.8C507.9 203.6 511.7 204.8 515.0 205.5C518.3 206.2 523.4 206.9 525.0 208.0C526.6 209.1 527.0 211.5 524.5 212.2C522.0 213.0 514.1 212.6 510.0 212.2C505.9 211.9 502.1 211.2 500.0 210.2C497.9 209.2 496.7 207.3 497.5 206.2Z"/>
<path fill="#ff6000" d="M550.0 210.0C550.6 208.3 553.8 205.2 557.5 203.8C561.2 202.3 568.1 201.5 572.5 201.2C576.9 201.0 581.6 201.2 583.8 202.5C585.9 203.8 586.5 206.6 585.5 208.8C584.5 210.9 580.1 213.8 577.5 215.5C574.9 217.2 572.9 218.8 570.0 219.2C567.1 219.7 562.7 218.9 560.0 218.0C557.3 217.1 555.4 215.1 553.8 213.8C552.1 212.4 549.4 211.7 550.0 210.0Z"/>
<path fill="#ff6000" d="M545.0 196.2C546.9 195.8 556.2 195.5 558.8 195.8C561.2 196.0 561.9 197.5 560.0 198.0C558.1 198.5 550.0 199.0 547.5 198.8C545.0 198.5 543.1 196.8 545.0 196.2Z"/>
<path fill="#ff6000" d="M571.0 225.0C572.0 221.9 575.6 221.9 576.8 225.0C577.9 228.1 579.0 240.6 578.0 243.8C577.0 246.9 572.2 246.9 571.0 243.8C569.8 240.6 570.0 228.1 571.0 225.0Z"/>
<path fill="#ff6000" d="M543.8 226.2C544.8 225.4 551.7 224.6 553.8 225.0C555.8 225.4 557.3 227.9 556.2 228.8C555.2 229.6 549.6 230.7 547.5 230.2C545.4 229.8 542.7 227.1 543.8 226.2Z"/>
<path fill="#50a5f5" d="M555.0 237.5C555.6 236.3 559.8 235.6 561.2 236.2C562.7 236.9 564.4 240.1 563.8 241.2C563.1 242.4 559.0 243.9 557.5 243.2C556.0 242.6 554.4 238.7 555.0 237.5Z"/>
<path fill="#ff6000" d="M460.0 245.0C462.1 244.0 470.8 243.0 475.0 242.8C479.2 242.5 482.8 242.7 485.0 243.5C487.2 244.3 489.7 246.7 488.0 247.5C486.3 248.3 479.2 248.0 475.0 248.2C470.8 248.5 465.0 249.5 462.5 249.0C460.0 248.5 457.9 246.0 460.0 245.0Z"/>
<path fill="#50a5f5" d="M450.0 255.0C450.7 253.5 454.6 250.9 456.2 250.5C457.9 250.1 459.8 251.2 460.0 252.5C460.2 253.8 459.1 256.8 457.8 258.0C456.4 259.2 453.3 260.2 452.0 259.8C450.7 259.2 449.3 256.5 450.0 255.0Z"/>
<path fill="#ff6000" d="M464.5 255.8C465.2 255.0 468.2 255.0 469.0 255.8C469.8 256.5 469.8 259.3 469.0 260.0C468.2 260.7 465.2 260.7 464.5 260.0C463.8 259.3 463.8 256.5 464.5 255.8Z"/>
<path fill="#50a5f5" d="M492.5 243.8C492.0 242.6 496.7 240.2 498.8 239.5C500.8 238.8 504.5 238.4 505.0 239.5C505.5 240.6 503.6 245.5 501.5 246.2C499.4 247.0 493.0 244.9 492.5 243.8Z"/>
<path fill="#ff6000" d="M505.0 252.5C506.5 248.7 509.6 246.3 511.2 245.0C512.9 243.7 514.8 242.8 515.0 244.5C515.2 246.2 513.5 251.4 512.5 255.0C511.5 258.6 510.4 264.1 508.8 266.2C507.1 268.4 503.1 270.0 502.5 267.8C501.9 265.5 503.5 256.3 505.0 252.5Z"/>
<path fill="#ff6000" d="M530.0 249.5C530.8 248.8 534.2 248.5 535.0 249.0C535.8 249.5 535.8 251.8 535.0 252.5C534.2 253.2 531.3 253.5 530.5 253.0C529.7 252.5 529.2 250.2 530.0 249.5Z"/>
<path fill="#50a5f5" d="M523.8 242.5C524.4 241.8 527.3 241.4 528.0 242.0C528.7 242.6 528.7 245.5 528.0 246.2C527.3 247.0 524.7 246.9 524.0 246.2C523.3 245.6 523.1 243.2 523.8 242.5Z"/>
<path fill="#ff6000" d="M538.8 253.8C539.8 252.1 543.5 253.5 545.0 255.0C546.5 256.5 547.7 260.2 547.5 262.5C547.3 264.8 545.5 268.6 544.0 269.0C542.5 269.4 539.6 267.5 538.8 265.0C537.9 262.5 537.7 255.4 538.8 253.8Z"/>
<path fill="#ff6000" d="M461.2 297.5C462.1 294.6 463.8 293.2 466.2 292.5C468.8 291.8 474.2 291.8 476.2 293.0C478.2 294.2 478.5 296.8 478.2 300.0C478.0 303.2 476.2 308.9 475.0 312.5C473.8 316.1 473.1 320.2 471.2 321.5C469.4 322.8 465.4 322.2 463.8 320.2C462.1 318.3 461.7 313.8 461.2 310.0C460.8 306.2 460.4 300.4 461.2 297.5Z"/>
<path fill="#50a5f5" d="M478.8 295.0C479.4 291.8 483.3 292.6 485.0 293.0C486.7 293.4 488.3 294.7 488.8 297.5C489.2 300.3 489.0 307.5 487.8 310.0C486.5 312.5 482.8 314.8 481.2 312.2C479.8 309.8 478.1 298.2 478.8 295.0Z"/>
<path fill="#ff6000" d="M397.5 365.0C399.8 360.0 408.8 358.8 411.2 355.0C413.8 351.2 410.2 346.0 412.5 342.5C414.8 339.0 420.4 336.0 425.0 333.8C429.6 331.5 435.0 330.0 440.0 328.8C445.0 327.5 450.4 327.0 455.0 326.2C459.6 325.5 462.9 324.5 467.5 324.5C472.1 324.5 478.2 327.4 482.5 326.2C486.8 325.1 491.7 321.2 493.2 317.5C494.8 313.8 491.8 307.7 492.0 303.8C492.2 299.8 493.4 295.6 494.5 293.8C495.6 291.9 497.8 290.8 498.8 292.5C499.8 294.2 499.2 299.8 500.5 303.8C501.8 307.7 503.2 313.1 506.2 316.2C509.3 319.4 514.8 322.1 518.8 322.5C522.7 322.9 526.7 320.8 530.0 318.8C533.3 316.7 536.2 312.1 538.8 310.0C541.2 307.9 543.5 306.0 545.0 306.2C546.5 306.5 547.7 308.8 547.5 311.2C547.3 313.8 545.2 317.9 543.8 321.2C542.3 324.6 541.5 328.2 538.8 331.2C536.0 334.3 531.9 337.3 527.5 339.5C523.1 341.7 518.8 343.4 512.5 344.5C506.2 345.6 497.9 345.5 490.0 346.2C482.1 347.0 472.1 347.5 465.0 348.8C457.9 350.0 452.9 351.9 447.5 353.8C442.1 355.6 436.9 358.3 432.5 360.0C428.1 361.7 424.4 362.5 421.2 363.8C418.1 365.0 416.0 364.8 413.8 367.5C411.5 370.2 410.2 377.1 407.5 380.0C404.8 382.9 399.2 387.5 397.5 385.0C395.8 382.5 395.2 370.0 397.5 365.0Z"/>
<path fill="#50a5f5" d="M443.8 376.2C443.5 374.3 446.0 370.6 448.8 368.8C451.5 366.9 455.2 366.0 460.0 365.0C464.8 364.0 471.2 363.8 477.5 362.5C483.8 361.2 491.2 358.8 497.5 357.5C503.8 356.2 509.2 355.5 515.0 354.5C520.8 353.5 527.7 352.2 532.5 351.2C537.3 350.3 541.9 347.3 543.8 348.8C545.6 350.2 545.6 357.5 543.8 360.0C541.9 362.5 536.9 362.2 532.5 363.8C528.1 365.3 522.5 367.5 517.5 369.5C512.5 371.5 507.1 373.8 502.5 375.5C497.9 377.2 493.3 378.4 490.0 380.0C486.7 381.6 484.6 383.3 482.5 385.0C480.4 386.7 479.0 389.8 477.5 390.0C476.0 390.2 476.2 387.4 473.8 386.2C471.2 385.1 466.5 384.0 462.5 383.0C458.5 382.0 453.1 381.6 450.0 380.5C446.9 379.4 444.0 378.2 443.8 376.2Z"/>
<path fill="#50a5f5" d="M547.5 346.2C548.3 343.1 550.0 340.2 552.5 337.5C555.0 334.8 558.8 332.5 562.5 330.0C566.2 327.5 570.8 324.6 575.0 322.5C579.2 320.4 583.3 318.8 587.5 317.5C591.7 316.2 596.7 314.6 600.0 315.0C603.3 315.4 606.0 317.5 607.5 320.0C609.0 322.5 609.6 326.9 608.8 330.0C607.9 333.1 605.6 336.2 602.5 338.8C599.4 341.3 595.0 343.4 590.0 345.5C585.0 347.6 577.9 349.7 572.5 351.2C567.1 352.8 561.7 354.2 557.5 355.0C553.3 355.8 549.2 357.7 547.5 356.2C545.8 354.8 546.7 349.4 547.5 346.2Z"/>
<path fill="#50a5f5" d="M550.0 297.5C550.5 294.4 552.1 290.1 553.8 287.5C555.4 284.9 557.6 282.6 560.0 282.0C562.4 281.4 565.8 281.8 568.0 283.8C570.2 285.7 572.2 290.2 573.0 293.8C573.8 297.3 573.3 301.5 572.5 305.0C571.7 308.5 570.1 312.3 568.0 315.0C565.9 317.7 562.5 321.2 560.0 321.2C557.5 321.2 554.6 317.5 553.0 315.0C551.4 312.5 551.0 309.2 550.5 306.2C550.0 303.3 549.5 300.6 550.0 297.5Z"/>
<path fill="#50a5f5" d="M508.8 298.0C509.0 296.6 511.9 295.6 513.8 295.5C515.6 295.4 519.0 296.2 520.0 297.5C521.0 298.8 521.2 302.0 520.0 303.0C518.8 304.0 514.4 304.6 512.5 303.8C510.6 302.9 508.5 299.4 508.8 298.0Z"/>
<path fill="#50a5f5" d="M513.8 315.0C514.2 314.0 517.7 313.2 520.0 313.2C522.3 313.2 526.9 314.0 527.5 315.0C528.1 316.0 525.5 318.2 523.8 319.0C522.0 319.8 518.7 320.2 517.0 319.5C515.3 318.8 513.2 316.0 513.8 315.0Z"/>
<path fill="#ff6000" d="M441.2 401.8C442.5 401.1 447.2 400.7 450.0 400.8C452.8 400.8 456.8 401.4 458.0 402.0C459.2 402.6 459.6 403.8 457.0 404.2C454.4 404.7 445.1 404.9 442.5 404.5C439.9 404.1 440.0 402.4 441.2 401.8Z"/>
<path fill="#ff6000" d="M481.2 404.5C482.1 404.0 485.4 404.0 486.2 404.5C487.1 405.0 487.1 407.2 486.2 407.8C485.4 408.3 482.1 408.3 481.2 407.8C480.4 407.2 480.4 405.0 481.2 404.5Z"/>
<path fill="#50a5f5" d="M449.5 450.0C450.5 448.9 454.4 447.8 456.2 448.0C458.1 448.2 460.3 450.1 460.5 451.2C460.7 452.4 459.2 454.5 457.5 455.0C455.8 455.5 451.8 455.3 450.5 454.5C449.2 453.7 448.5 451.1 449.5 450.0Z"/>
<path fill="#50a5f5" d="M472.0 445.5C472.9 443.4 477.7 443.0 479.5 443.8C481.3 444.5 482.8 447.6 483.0 450.0C483.2 452.4 482.0 457.0 480.5 458.0C479.0 459.0 475.4 458.3 474.0 456.2C472.6 454.2 471.1 447.6 472.0 445.5Z"/>
<path fill="#50a5f5" d="M492.0 460.5C492.9 459.2 496.6 458.5 498.0 459.5C499.4 460.5 500.7 464.4 500.5 466.2C500.3 468.1 498.3 470.3 497.0 470.5C495.7 470.7 493.3 469.2 492.5 467.5C491.7 465.8 491.1 461.8 492.0 460.5Z"/>
<path fill="#50a5f5" d="M507.0 462.0C507.8 460.4 511.6 459.6 513.0 460.5C514.4 461.4 515.6 465.4 515.5 467.5C515.4 469.6 513.8 472.6 512.5 473.0C511.2 473.4 508.9 471.8 508.0 470.0C507.1 468.2 506.2 463.6 507.0 462.0Z"/>
<path fill="#50a5f5" d="M517.5 466.2C519.2 463.8 525.4 464.2 530.0 465.0C534.6 465.8 540.4 468.8 545.0 471.2C549.6 473.8 554.6 476.2 557.5 480.0C560.4 483.8 567.9 491.5 562.5 493.8C557.1 496.0 532.1 496.0 525.0 493.8C517.9 491.5 521.2 484.6 520.0 480.0C518.8 475.4 515.8 468.8 517.5 466.2Z"/>
<path fill="#ff6000" d="M570.0 230.0C568.3 230.8 567.5 239.6 565.0 242.5C562.5 245.4 558.3 245.0 555.0 247.5C551.7 250.0 545.8 254.4 545.0 257.5C544.2 260.6 547.5 264.5 550.0 266.2C552.5 268.0 555.8 268.0 560.0 268.0C564.2 268.0 570.4 266.3 575.0 266.5C579.6 266.7 584.2 267.6 587.5 269.0C590.8 270.4 593.3 272.3 595.0 275.0C596.7 277.7 596.2 282.0 597.5 285.0C598.8 288.0 600.4 290.4 602.5 293.0C604.6 295.6 608.1 297.6 610.0 300.5C611.9 303.4 611.2 307.6 613.8 310.5C616.2 313.4 621.5 316.5 625.0 318.0C628.5 319.5 632.0 318.3 635.0 319.5C638.0 320.7 642.5 322.4 643.0 325.0C643.5 327.6 639.8 331.6 638.0 335.0C636.2 338.4 635.1 342.5 632.5 345.5C629.9 348.5 626.2 350.5 622.5 353.0C618.8 355.5 614.2 358.4 610.0 360.5C605.8 362.6 601.7 363.8 597.5 365.5C593.3 367.2 589.2 369.2 585.0 370.5C580.8 371.8 576.7 372.2 572.5 373.0C568.3 373.8 563.8 374.5 560.0 375.5C556.2 376.5 552.5 376.4 550.0 378.8C547.5 381.1 547.9 386.7 545.0 389.5C542.1 392.3 537.1 393.8 532.5 395.5C527.9 397.2 521.2 398.2 517.5 400.0C513.8 401.8 511.6 402.9 510.0 406.2C508.4 409.6 508.0 415.0 508.0 420.0C508.0 425.0 508.4 432.4 510.0 436.2C511.6 440.1 514.2 440.6 517.5 443.0C520.8 445.4 525.4 448.8 530.0 450.5C534.6 452.2 540.0 452.2 545.0 453.0C550.0 453.8 555.4 455.5 560.0 455.5C564.6 455.5 568.8 454.2 572.5 453.0C576.2 451.8 577.9 449.2 582.5 448.0C587.1 446.8 592.9 446.1 600.0 445.5C607.1 444.9 616.7 444.7 625.0 444.2C633.3 443.8 641.7 443.6 650.0 443.0C658.3 442.4 670.4 440.2 675.0 440.5C679.6 440.8 673.3 443.6 677.5 445.0C681.7 446.4 692.9 447.7 700.0 448.8C707.1 449.8 714.2 450.6 720.0 451.2C725.8 451.9 730.0 451.9 735.0 452.5C740.0 453.1 745.8 453.8 750.0 455.0C754.2 456.2 756.7 457.9 760.0 460.0C763.3 462.1 767.1 465.2 770.0 467.5C772.9 469.8 775.0 473.3 777.5 473.8C780.0 474.2 784.6 477.3 785.0 470.0C785.4 462.7 781.7 441.7 780.0 430.0C778.3 418.3 777.0 404.9 775.0 400.0C773.0 395.1 771.8 402.8 768.0 400.5C764.2 398.2 757.9 390.9 752.0 386.5C746.1 382.1 738.7 378.4 732.5 374.0C726.3 369.6 719.6 364.4 715.0 360.0C710.4 355.6 708.3 352.5 705.0 347.5C701.7 342.5 698.3 335.4 695.0 330.0C691.7 324.6 687.9 320.4 685.0 315.0C682.1 309.6 679.2 303.3 677.5 297.5C675.8 291.7 677.1 285.8 675.0 280.0C672.9 274.2 669.2 267.9 665.0 262.5C660.8 257.1 655.0 251.0 650.0 247.5C645.0 244.0 641.7 242.1 635.0 241.2C628.3 240.4 616.7 242.7 610.0 242.5C603.3 242.3 600.8 240.8 595.0 240.0C589.2 239.2 579.2 239.2 575.0 237.5C570.8 235.8 571.7 229.2 570.0 230.0Z"/>
<path fill="#ff6000" d="M733.8 241.2C734.4 239.6 736.5 236.9 738.8 235.0C741.0 233.1 744.4 230.9 747.5 230.0C750.6 229.1 755.0 229.1 757.5 229.5C760.0 229.9 762.5 231.2 762.5 232.5C762.5 233.8 759.2 235.6 757.5 237.5C755.8 239.4 754.4 241.9 752.5 243.8C750.6 245.6 748.5 247.9 746.2 248.8C744.0 249.6 740.6 249.4 738.8 248.8C736.9 248.1 735.8 246.2 735.0 245.0C734.2 243.8 733.1 242.9 733.8 241.2Z"/>
<path fill="#50a5f5" d="M760.0 240.0C760.6 237.5 763.1 234.6 765.0 232.5C766.9 230.4 769.4 227.7 771.2 227.5C773.1 227.3 776.0 229.2 776.2 231.2C776.5 233.3 773.3 236.9 772.5 240.0C771.7 243.1 771.9 246.2 771.2 250.0C770.6 253.8 769.7 259.9 768.8 262.5C767.8 265.1 766.3 266.6 765.5 265.8C764.7 264.9 764.5 260.5 763.8 257.5C763.0 254.5 761.9 250.4 761.2 247.5C760.6 244.6 759.4 242.5 760.0 240.0Z"/>
<path fill="#ff6000" d="M762.5 212.5C763.5 211.2 767.1 210.0 770.0 210.0C772.9 210.0 778.1 211.0 780.0 212.5C781.9 214.0 782.8 217.4 781.5 218.8C780.2 220.1 775.5 220.9 772.5 220.8C769.5 220.6 765.4 219.4 763.8 218.0C762.1 216.6 761.5 213.8 762.5 212.5Z"/>
<path fill="#ff6000" d="M717.0 213.8C718.2 212.9 723.6 212.4 725.0 213.0C726.4 213.6 726.8 216.7 725.5 217.5C724.2 218.3 718.9 218.6 717.5 218.0C716.1 217.4 715.8 214.6 717.0 213.8Z"/>
<path fill="#ff6000" d="M627.5 207.5C627.9 206.0 632.1 203.5 635.0 202.5C637.9 201.5 640.0 201.9 645.0 201.2C650.0 200.6 660.8 198.1 665.0 198.8C669.2 199.4 670.8 203.1 670.0 205.0C669.2 206.9 664.2 208.9 660.0 210.0C655.8 211.1 649.6 211.2 645.0 211.5C640.4 211.8 635.4 212.2 632.5 211.5C629.6 210.8 627.1 209.0 627.5 207.5Z"/>
<path fill="#ff6000" d="M775.0 305.0C776.7 301.5 779.6 300.6 782.5 298.8C785.4 296.9 789.2 295.6 792.5 293.8C795.8 291.9 799.2 289.0 802.5 287.5C805.8 286.0 809.2 285.2 812.5 285.0C815.8 284.8 819.6 285.4 822.5 286.2C825.4 287.1 827.9 288.5 830.0 290.0C832.1 291.5 834.1 290.4 835.0 295.0C835.9 299.6 837.2 314.4 835.5 317.5C833.8 320.6 828.4 314.6 825.0 313.8C821.6 312.9 818.1 311.9 815.0 312.5C811.9 313.1 808.8 315.4 806.2 317.5C803.8 319.6 801.0 322.1 800.0 325.0C799.0 327.9 798.3 332.5 800.0 335.0C801.7 337.5 807.1 337.5 810.0 340.0C812.9 342.5 816.7 346.7 817.5 350.0C818.3 353.3 816.9 357.7 815.0 360.0C813.1 362.3 809.6 363.8 806.2 363.8C802.9 363.8 798.5 360.2 795.0 360.0C791.5 359.8 788.3 362.9 785.0 362.5C781.7 362.1 777.9 359.6 775.0 357.5C772.1 355.4 769.4 352.9 767.5 350.0C765.6 347.1 764.2 343.3 763.8 340.0C763.3 336.7 763.5 333.3 765.0 330.0C766.5 326.7 770.8 324.2 772.5 320.0C774.2 315.8 773.3 308.5 775.0 305.0Z"/>
<path fill="#ff6000" d="M730.0 341.2C730.4 339.6 732.3 337.4 735.0 336.2C737.7 335.1 742.5 334.5 746.2 334.5C750.0 334.5 754.6 334.9 757.5 336.2C760.4 337.6 763.3 340.6 763.8 342.5C764.2 344.4 762.3 346.5 760.0 347.5C757.7 348.5 753.3 348.8 750.0 348.8C746.7 348.8 742.9 347.9 740.0 347.5C737.1 347.1 734.2 347.3 732.5 346.2C730.8 345.2 729.6 342.9 730.0 341.2Z"/>
<path fill="#50a5f5" d="M743.8 355.0C744.4 354.2 747.3 353.9 748.0 354.5C748.7 355.1 748.7 358.0 748.0 358.8C747.3 359.5 744.7 359.6 744.0 359.0C743.3 358.4 743.1 355.8 743.8 355.0Z"/>
<path fill="#50a5f5" d="M660.0 468.8C660.6 467.2 663.8 465.2 666.2 465.0C668.8 464.8 673.1 466.2 675.0 467.5C676.9 468.8 678.3 471.6 677.5 473.0C676.7 474.4 672.5 475.6 670.0 475.8C667.5 475.9 664.2 475.2 662.5 474.0C660.8 472.8 659.4 470.2 660.0 468.8Z"/>
<path fill="#ff6000" d="M595.0 470.0C595.6 469.0 598.8 467.7 601.2 468.8C603.8 469.8 609.4 474.5 610.0 476.2C610.6 478.0 607.1 479.2 605.0 479.0C602.9 478.8 599.2 476.5 597.5 475.0C595.8 473.5 594.4 471.0 595.0 470.0Z"/>
<path fill="#ff6000" d="M616.2 478.8C617.1 477.9 621.0 478.1 623.8 480.0C626.5 481.9 629.0 487.7 632.5 490.0C636.0 492.3 641.3 492.5 645.0 493.8C648.7 495.0 653.2 495.2 654.5 497.5C655.8 499.8 654.2 504.3 653.0 507.5C651.8 510.7 650.1 516.0 647.5 516.5C644.9 517.0 640.6 512.5 637.5 510.2C634.4 508.0 631.2 505.7 628.8 502.8C626.2 499.8 624.2 495.7 622.5 492.8C620.8 489.8 619.8 487.6 618.8 485.2C617.7 482.9 615.4 479.6 616.2 478.8Z"/>
<path fill="#50a5f5" d="M562.5 502.5C563.1 500.0 568.3 498.8 570.0 500.0C571.7 501.2 573.1 507.5 572.5 510.0C571.9 512.5 567.9 516.5 566.2 515.2C564.6 514.0 561.9 505.0 562.5 502.5Z"/>
<path fill="#50a5f5" d="M575.0 505.0C576.5 502.5 582.7 499.2 585.0 500.0C587.3 500.8 589.2 506.8 588.8 510.0C588.3 513.2 584.6 518.1 582.5 519.0C580.4 519.9 577.5 517.6 576.2 515.2C575.0 512.9 573.5 507.5 575.0 505.0Z"/>
<path fill="#50a5f5" d="M605.0 520.0C607.1 517.1 613.5 517.5 617.5 517.5C621.5 517.5 627.1 517.1 628.8 520.0C630.4 522.9 629.0 530.8 627.5 535.0C626.0 539.2 622.9 543.3 620.0 545.2C617.1 547.2 612.5 548.2 610.0 546.5C607.5 544.8 605.8 539.4 605.0 535.0C604.2 530.6 602.9 522.9 605.0 520.0Z"/>
<path fill="#50a5f5" d="M575.0 530.0C576.7 527.0 584.6 525.8 587.5 527.5C590.4 529.2 592.9 535.8 592.5 540.0C592.1 544.2 587.5 551.9 585.0 552.8C582.5 553.6 579.2 549.0 577.5 545.2C575.8 541.5 573.3 533.0 575.0 530.0Z"/>
<path fill="#50a5f5" d="M696.2 546.2C697.0 545.0 701.2 544.2 702.5 545.0C703.8 545.8 704.5 550.0 703.8 551.2C703.0 552.5 699.2 553.6 698.0 552.8C696.8 551.9 695.5 547.5 696.2 546.2Z"/>
<path fill="#50a5f5" d="M712.5 512.5C713.2 511.7 716.7 511.2 717.5 512.0C718.3 512.8 718.2 516.2 717.5 517.0C716.8 517.8 713.8 517.8 713.0 517.0C712.2 516.2 711.8 513.3 712.5 512.5Z"/>
<path fill="#ff6000" d="M735.0 492.5C735.8 490.4 739.8 489.2 741.2 490.0C742.7 490.8 744.0 495.0 743.8 497.5C743.5 500.0 741.2 504.2 740.0 505.0C738.8 505.8 737.1 504.6 736.2 502.5C735.4 500.4 734.2 494.6 735.0 492.5Z"/>
<path fill="#ff6000" d="M752.5 530.0C753.3 525.6 755.0 519.6 757.5 516.2C760.0 512.9 763.8 511.2 767.5 510.0C771.2 508.8 777.2 507.1 780.0 508.8C782.8 510.4 783.5 512.3 784.0 520.0C784.5 527.7 784.0 546.7 783.0 555.0C782.0 563.3 778.4 563.3 778.0 570.0C777.6 576.7 782.7 590.8 780.5 595.0C778.3 599.2 768.4 598.3 765.0 595.0C761.6 591.7 761.2 581.7 760.0 575.0C758.8 568.3 758.8 560.4 757.5 555.0C756.2 549.6 753.3 546.7 752.5 542.5C751.7 538.3 751.7 534.4 752.5 530.0Z"/>
<path fill="#ff6000" d="M741.2 545.0C742.7 542.3 746.9 539.2 750.0 538.8C753.1 538.3 757.9 539.8 760.0 542.5C762.1 545.2 762.9 550.8 762.5 555.0C762.1 559.2 760.0 566.0 757.5 567.8C755.0 569.5 750.2 567.4 747.5 565.2C744.8 563.1 742.3 558.4 741.2 555.0C740.2 551.6 739.8 547.7 741.2 545.0Z"/>
<path fill="#ff6000" d="M557.5 577.5C560.4 574.4 569.6 577.1 575.0 576.2C580.4 575.4 585.4 574.8 590.0 572.5C594.6 570.2 598.3 565.2 602.5 562.5C606.7 559.8 610.0 557.5 615.0 556.2C620.0 555.0 627.5 556.0 632.5 555.0C637.5 554.0 640.0 550.6 645.0 550.0C650.0 549.4 657.5 550.2 662.5 551.2C667.5 552.3 671.5 553.5 675.0 556.2C678.5 559.0 681.7 563.1 683.8 567.5C685.8 571.9 687.3 577.9 687.5 582.5C687.7 587.1 706.7 592.9 685.0 595.0C663.3 597.1 578.8 597.9 557.5 595.0C536.2 592.1 554.6 580.6 557.5 577.5Z"/>
<path fill="#50a5f5" d="M799.3 204.5C800.9 200.4 806.7 199.3 810.2 199.1C813.6 198.9 817.5 201.1 820.0 203.5C822.6 205.8 823.8 210.2 825.5 213.3C827.1 216.4 828.4 218.7 829.8 222.0C831.3 225.3 831.3 229.8 834.2 232.9C837.1 236.0 843.6 241.6 847.3 240.6C850.9 239.5 852.4 229.8 856.0 226.4C859.6 222.9 864.4 222.0 869.1 219.8C873.8 217.6 880.0 215.8 884.4 213.3C888.7 210.7 892.0 207.3 895.3 204.5C898.6 201.8 901.5 197.6 904.0 196.9C906.6 196.2 909.5 197.8 910.6 200.2C911.6 202.5 910.2 207.5 910.6 211.1C910.9 214.7 911.6 218.7 912.7 222.0C913.8 225.3 914.2 228.9 917.1 230.7C920.0 232.6 925.8 232.7 930.2 232.9C934.6 233.1 939.6 231.5 943.3 231.8C946.9 232.2 949.8 233.5 952.0 235.1C954.2 236.7 954.6 238.7 956.4 241.6C958.2 244.6 961.8 249.6 962.9 252.6C964.0 255.5 964.0 257.3 962.9 259.1C961.8 260.9 958.9 262.0 956.4 263.5C953.8 264.9 950.2 265.6 947.7 267.8C945.1 270.0 943.3 274.4 941.1 276.6C938.9 278.7 937.1 280.2 934.6 280.9C932.0 281.6 928.7 281.3 925.8 280.9C922.9 280.6 919.3 278.0 917.1 278.7C914.9 279.5 914.9 284.2 912.7 285.3C910.6 286.4 906.9 286.4 904.0 285.3C901.1 284.2 897.8 280.6 895.3 278.7C892.7 276.9 891.3 275.5 888.7 274.4C886.2 273.3 883.3 272.2 880.0 272.2C876.7 272.2 872.0 274.7 869.1 274.4C866.2 274.0 864.4 271.1 862.6 270.0C860.7 268.9 859.3 267.1 858.2 267.8C857.1 268.6 857.1 271.8 856.0 274.4C854.9 276.9 853.8 281.6 851.6 283.1C849.5 284.6 845.5 283.8 842.9 283.1C840.4 282.4 837.8 281.3 836.4 278.7C834.9 276.2 834.9 271.1 834.2 267.8C833.5 264.6 833.5 261.3 832.0 259.1C830.6 256.9 828.0 255.8 825.5 254.7C822.9 253.6 819.3 254.0 816.7 252.6C814.2 251.1 812.4 248.6 810.2 246.0C808.0 243.5 805.3 240.9 803.6 237.3C802.0 233.6 801.1 229.6 800.4 224.2C799.6 218.7 797.6 208.7 799.3 204.5Z"/>
<path fill="#ff6000" d="M765.5 193.6C766.2 191.8 768.2 189.5 770.9 188.2C773.6 186.9 778.2 186.0 781.8 186.0C785.5 186.0 789.1 187.1 792.7 188.2C796.4 189.3 800.0 191.3 803.6 192.5C807.3 193.8 813.1 194.7 814.5 195.8C816.0 196.9 814.9 199.1 812.4 199.3C809.8 199.5 803.6 197.5 799.3 197.1C794.9 196.8 790.2 196.8 786.2 197.1C782.2 197.5 778.5 198.9 775.3 199.3C772.0 199.7 768.2 200.3 766.5 199.3C764.9 198.4 764.7 195.5 765.5 193.6Z"/>
<path fill="#ff6000" d="M758.9 212.2C760.5 210.9 766.2 210.7 768.7 211.1C771.3 211.5 773.8 213.1 774.2 214.4C774.5 215.7 773.5 218.2 770.9 219.0C768.4 219.7 760.9 220.1 758.9 219.0C756.9 217.8 757.3 213.5 758.9 212.2Z"/>
<path fill="#50a5f5" d="M760.0 222.0C761.5 215.8 766.5 220.2 768.7 222.0C770.9 223.8 772.7 228.6 773.1 232.9C773.5 237.3 771.6 243.1 770.9 248.2C770.2 253.3 770.0 260.2 768.7 263.5C767.5 266.7 764.7 268.6 763.3 267.8C761.8 267.1 760.5 266.7 760.0 259.1C759.5 251.5 758.5 228.2 760.0 222.0Z"/>
<path fill="#ff6000" d="M790.5 237.3C791.4 236.0 794.6 235.3 796.0 236.2C797.4 237.1 799.0 240.9 798.8 242.7C798.7 244.6 796.2 247.1 794.9 247.3C793.6 247.5 791.7 245.5 791.0 243.8C790.3 242.2 789.7 238.6 790.5 237.3Z"/>
<path fill="#ff6000" d="M822.2 265.6C822.6 262.9 825.4 260.9 826.6 261.3C827.8 261.6 829.1 265.3 829.4 267.8C829.6 270.4 828.9 274.9 828.1 276.6C827.2 278.2 825.4 279.7 824.4 277.9C823.4 276.0 821.8 268.4 822.2 265.6Z"/>
<path fill="#ff6000" d="M800.4 278.7C801.3 277.6 805.1 276.0 806.9 276.6C808.7 277.1 811.5 280.3 811.3 282.0C811.1 283.7 807.5 286.3 805.8 286.6C804.1 286.8 801.9 284.8 801.0 283.5C800.1 282.2 799.4 279.9 800.4 278.7Z"/>
<path fill="#ff6000" d="M832.0 285.3C833.8 282.6 839.3 286.2 842.9 286.4C846.6 286.6 850.6 286.7 853.8 286.4C857.1 286.0 859.3 285.3 862.6 284.2C865.8 283.1 870.2 280.4 873.5 279.8C876.7 279.3 879.6 279.3 882.2 280.9C884.7 282.6 887.6 286.0 888.7 289.6C889.8 293.3 889.3 298.7 888.7 302.7C888.2 306.7 887.3 310.4 885.5 313.6C883.6 316.9 881.3 320.9 877.8 322.4C874.4 323.8 869.1 322.9 864.7 322.4C860.4 321.8 856.7 319.6 851.6 319.1C846.6 318.6 837.5 321.8 834.2 319.1C830.9 316.4 832.4 308.4 832.0 302.7C831.6 297.1 830.2 288.0 832.0 285.3Z"/>
<path fill="#50a5f5" d="M894.2 318.0C895.5 315.5 898.7 311.1 901.8 309.3C904.9 307.5 910.6 306.0 912.7 307.1C914.9 308.2 915.6 312.9 914.9 315.8C914.2 318.7 910.9 322.5 908.4 324.6C905.8 326.6 902.0 328.0 899.6 328.0C897.3 328.0 895.1 326.2 894.2 324.6C893.3 322.9 892.9 320.6 894.2 318.0Z"/>
<path fill="#ff6000" d="M924.7 311.5C925.5 310.7 928.4 310.7 929.1 311.5C929.8 312.2 929.8 315.1 929.1 315.8C928.4 316.6 925.5 316.6 924.7 315.8C924.0 315.1 924.0 312.2 924.7 311.5Z"/>
<path fill="#ff6000" d="M934.6 314.7C935.3 314.2 938.2 314.2 938.9 314.7C939.6 315.3 939.6 317.5 938.9 318.0C938.2 318.6 935.3 318.6 934.6 318.0C933.8 317.5 933.8 315.3 934.6 314.7Z"/>
<path fill="#ff6000" d="M952.0 298.4C952.4 296.4 956.2 294.0 958.6 292.9C960.9 291.8 964.4 290.9 966.2 291.8C968.0 292.7 967.5 295.8 969.5 298.4C971.5 300.9 975.3 304.2 978.2 307.1C981.1 310.0 985.8 313.6 986.9 315.8C988.0 318.0 986.9 320.8 984.7 320.4C982.6 320.0 977.1 315.9 973.8 313.6C970.6 311.4 968.0 308.6 965.1 307.1C962.2 305.6 958.6 306.4 956.4 304.9C954.2 303.5 951.7 300.4 952.0 298.4Z"/>
<path fill="#ff6000" d="M972.7 286.4C972.6 284.4 974.4 283.6 977.1 286.4C979.8 289.1 986.7 298.5 989.1 302.7C991.5 307.0 991.7 310.6 991.3 311.7C990.9 312.8 989.1 311.5 986.9 309.3C984.7 307.1 980.6 302.2 978.2 298.4C975.8 294.6 972.9 288.4 972.7 286.4Z"/>
<path fill="#50a5f5" d="M974.9 322.4C976.0 321.6 980.2 322.4 982.6 323.5C984.9 324.6 989.1 327.6 989.1 328.9C989.1 330.2 984.7 331.5 982.6 331.3C980.4 331.1 977.3 329.3 976.0 327.8C974.7 326.3 973.8 323.1 974.9 322.4Z"/>
<path fill="#50a5f5" d="M982.6 248.2C982.7 246.3 985.8 244.2 986.9 241.6C988.0 239.1 988.0 235.3 989.1 232.9C990.2 230.6 992.2 228.2 993.5 227.5C994.7 226.7 996.9 226.9 996.7 228.6C996.6 230.2 993.5 234.4 992.4 237.3C991.3 240.2 991.3 243.4 990.2 246.0C989.1 248.6 987.1 252.4 985.8 252.8C984.6 253.1 982.4 250.0 982.6 248.2Z"/>
<path fill="#50a5f5" d="M810.2 383.3C810.5 380.4 811.6 379.5 814.5 376.7C817.5 374.0 824.0 369.5 827.6 366.9C831.3 364.4 832.4 363.1 836.4 361.5C840.4 359.8 846.2 358.5 851.6 357.1C857.1 355.6 864.0 354.0 869.1 352.7C874.2 351.5 878.2 349.5 882.2 349.5C886.2 349.5 891.1 350.4 893.1 352.7C895.1 355.1 894.6 360.4 894.2 363.6C893.8 366.9 892.9 369.5 890.9 372.4C888.9 375.3 885.5 378.9 882.2 381.1C878.9 383.3 874.9 384.4 871.3 385.5C867.6 386.6 863.6 386.9 860.4 387.6C857.1 388.4 854.2 390.2 851.6 389.8C849.1 389.5 847.3 386.2 845.1 385.5C842.9 384.7 840.4 384.4 838.6 385.5C836.7 386.6 836.0 390.2 834.2 392.0C832.4 393.8 830.2 394.9 827.6 396.4C825.1 397.8 821.5 401.1 818.9 400.7C816.4 400.4 813.8 397.1 812.4 394.2C810.9 391.3 809.8 386.2 810.2 383.3Z"/>
<path fill="#50a5f5" d="M836.8 399.6C837.7 398.6 841.5 398.0 842.9 398.6C844.4 399.1 845.7 401.6 845.5 402.9C845.4 404.2 843.2 406.0 841.8 406.4C840.5 406.8 838.3 406.2 837.5 405.1C836.6 404.0 835.9 400.7 836.8 399.6Z"/>
<path fill="#50a5f5" d="M886.6 396.4C887.2 393.8 889.3 389.5 890.9 387.6C892.6 385.8 895.6 384.0 896.4 385.5C897.1 386.9 896.2 393.1 895.3 396.4C894.4 399.7 892.3 404.2 890.9 405.3C889.5 406.4 887.7 404.4 887.0 402.9C886.3 401.4 885.9 398.9 886.6 396.4Z"/>
<path fill="#50a5f5" d="M894.2 318.9C897.8 317.6 918.4 317.8 921.5 318.9C924.6 320.0 916.4 324.1 912.7 325.5C909.1 326.8 902.7 327.9 899.6 326.8C896.6 325.7 890.6 320.2 894.2 318.9Z"/>
<path fill="#ff6000" d="M901.4 372.4C901.8 369.2 901.9 367.3 902.9 366.3C903.9 365.2 906.3 364.5 907.3 366.3C908.3 368.0 908.3 372.8 908.8 376.7C909.4 380.7 910.6 386.3 910.6 389.8C910.5 393.3 909.6 396.7 908.4 397.7C907.1 398.6 904.2 397.5 902.9 395.5C901.6 393.5 901.0 389.3 900.7 385.5C900.5 381.6 901.0 375.6 901.4 372.4Z"/>
<path fill="#ff6000" d="M904.0 346.2C905.0 345.5 909.5 345.2 910.6 345.7C911.6 346.3 911.6 348.8 910.6 349.5C909.5 350.1 905.5 350.2 904.4 349.7C903.4 349.1 903.0 346.8 904.0 346.2Z"/>
<path fill="#50a5f5" d="M864.7 423.6C865.1 421.8 868.4 420.2 871.3 419.3C874.2 418.4 877.5 418.2 882.2 418.2C886.9 418.2 893.8 418.8 899.6 419.3C905.5 419.7 911.3 420.6 917.1 420.8C922.9 421.1 928.7 421.2 934.6 420.8C940.4 420.4 947.5 419.1 952.0 418.6C956.6 418.2 959.7 417.2 961.8 418.2C964.0 419.2 964.2 421.8 965.1 424.7C966.0 427.6 966.0 431.6 967.3 435.6C968.6 439.6 972.4 446.6 972.7 448.7C973.1 450.9 970.9 450.4 969.5 448.7C968.0 447.1 966.2 441.5 964.0 438.9C961.8 436.4 959.8 434.7 956.4 433.5C952.9 432.2 948.4 431.3 943.3 431.3C938.2 431.3 931.6 432.7 925.8 433.5C920.0 434.2 914.2 435.5 908.4 435.6C902.6 435.8 896.0 435.1 890.9 434.6C885.8 434.0 881.5 433.1 877.8 432.4C874.2 431.6 871.3 431.6 869.1 430.2C866.9 428.7 864.4 425.5 864.7 423.6Z"/>
<path fill="#ff6000" d="M965.1 453.1C965.7 451.5 968.2 450.9 969.5 452.0C970.7 453.1 972.6 457.2 972.7 459.6C972.9 462.0 971.7 466.0 970.6 466.4C969.5 466.8 967.1 464.0 966.2 461.8C965.3 459.6 964.6 454.7 965.1 453.1Z"/>
<path fill="#50a5f5" d="M949.8 466.2C950.2 464.0 952.4 462.6 954.2 464.0C956.0 465.5 960.0 471.8 960.7 474.9C961.5 478.0 960.0 482.4 958.6 482.8C957.1 483.1 953.5 479.9 952.0 477.1C950.6 474.3 949.5 468.4 949.8 466.2Z"/>
<path fill="#50a5f5" d="M960.7 492.4C961.3 491.1 965.1 490.6 966.2 491.3C967.3 492.0 967.8 495.4 967.3 496.7C966.7 498.0 964.0 499.9 962.9 499.1C961.8 498.4 960.2 493.7 960.7 492.4Z"/>
<path fill="#50a5f5" d="M921.5 459.6C922.0 458.7 924.9 458.0 925.8 458.6C926.7 459.1 927.5 462.0 926.9 462.9C926.4 463.9 923.5 464.8 922.6 464.2C921.6 463.7 920.9 460.6 921.5 459.6Z"/>
<path fill="#ff6000" d="M857.1 470.6C858.2 465.8 860.7 460.4 862.6 457.5C864.4 454.6 866.7 452.0 868.0 453.1C869.3 454.2 869.3 460.7 870.2 464.0C871.1 467.3 873.1 469.8 873.5 472.7C873.8 475.6 871.6 478.6 872.4 481.5C873.1 484.4 875.8 487.3 877.8 490.2C879.8 493.1 882.8 496.0 884.4 498.9C885.9 501.8 894.6 506.2 887.0 507.7C879.4 509.1 844.8 509.5 838.6 507.7C832.3 505.8 846.6 500.4 849.5 496.7C852.4 493.1 854.7 490.2 856.0 485.8C857.3 481.5 856.0 475.3 857.1 470.6Z"/>
<path fill="#ff6000" d="M801.5 388.7C802.3 388.0 806.0 388.0 806.9 388.7C807.9 389.5 808.0 392.6 807.1 393.3C806.3 394.1 802.8 394.1 801.9 393.3C800.9 392.6 800.6 389.5 801.5 388.7Z"/>
<path fill="#ff6000" d="M814.5 545.5C815.3 542.6 818.5 538.5 821.1 534.5C823.6 530.5 826.9 526.2 829.8 521.5C832.7 516.7 836.0 509.8 838.6 506.2C841.1 502.5 842.6 500.7 845.1 499.6C847.6 498.5 852.0 498.2 853.8 499.6C855.6 501.1 856.4 505.1 856.0 508.4C855.6 511.6 853.1 516.0 851.6 519.3C850.2 522.5 847.3 525.5 847.3 528.0C847.3 530.5 849.1 532.7 851.6 534.5C854.2 536.4 858.9 537.1 862.6 538.9C866.2 540.7 870.2 543.3 873.5 545.5C876.7 547.6 881.5 549.8 882.2 552.0C882.9 554.2 880.0 558.2 877.8 558.6C875.6 558.9 872.0 555.6 869.1 554.2C866.2 552.7 863.3 550.9 860.4 549.8C857.5 548.7 854.2 547.6 851.6 547.6C849.1 547.6 846.9 548.4 845.1 549.8C843.3 551.3 840.7 553.5 840.7 556.4C840.7 559.3 845.1 564.4 845.1 567.3C845.1 570.2 842.9 572.7 840.7 573.8C838.6 574.9 834.9 574.6 832.0 573.8C829.1 573.1 825.5 571.6 823.3 569.5C821.1 567.3 820.0 563.6 818.9 560.7C817.8 557.8 817.5 554.6 816.7 552.0C816.0 549.5 813.8 548.4 814.5 545.5Z"/>
<path fill="#ff6000" d="M862.6 495.3C863.6 492.9 870.2 491.6 873.5 492.0C876.7 492.4 879.3 495.5 882.2 497.5C885.1 499.5 888.0 502.9 890.9 504.0C893.8 505.1 898.2 501.5 899.6 504.0C901.1 506.5 900.4 514.9 899.6 519.3C898.9 523.6 896.7 529.5 895.3 530.2C893.8 530.9 892.0 526.2 890.9 523.6C889.8 521.1 890.2 516.0 888.7 514.9C887.3 513.8 884.4 516.0 882.2 517.1C880.0 518.2 877.5 521.8 875.6 521.5C873.8 521.1 872.7 517.5 871.3 514.9C869.8 512.4 868.4 509.5 866.9 506.2C865.5 502.9 861.5 497.6 862.6 495.3Z"/>
<path fill="#ff6000" d="M901.8 530.2C902.6 528.0 908.0 526.5 910.6 523.6C913.1 520.7 914.9 514.9 917.1 512.7C919.3 510.5 921.1 509.8 923.6 510.5C926.2 511.3 931.3 514.5 932.4 517.1C933.5 519.6 932.0 523.6 930.2 525.8C928.4 528.0 924.0 528.4 921.5 530.2C918.9 532.0 917.5 535.6 914.9 536.7C912.4 537.8 908.4 537.8 906.2 536.7C904.0 535.6 901.1 532.4 901.8 530.2Z"/>
<path fill="#ff6000" d="M934.6 523.6C935.5 520.7 938.6 517.5 941.1 517.1C943.6 516.7 947.7 519.3 949.8 521.5C952.0 523.6 953.1 526.9 954.2 530.2C955.3 533.5 957.1 538.2 956.4 541.1C955.7 544.0 952.4 547.3 949.8 547.6C947.3 548.0 943.5 545.5 941.1 543.3C938.7 541.1 936.7 537.8 935.6 534.5C934.6 531.3 933.6 526.5 934.6 523.6Z"/>
<path fill="#ff6000" d="M954.2 517.1C954.7 515.3 958.2 512.7 960.7 512.7C963.3 512.7 966.6 515.6 969.5 517.1C972.4 518.5 977.1 519.6 978.2 521.5C979.3 523.3 977.5 525.8 976.0 528.0C974.6 530.2 971.7 533.8 969.5 534.5C967.3 535.3 964.9 534.2 962.9 532.4C960.9 530.5 958.9 526.2 957.5 523.6C956.0 521.1 953.7 518.9 954.2 517.1Z"/>
<path fill="#ff6000" d="M877.8 538.9C879.8 538.2 886.9 539.3 890.9 541.1C894.9 542.9 898.2 547.3 901.8 549.8C905.5 552.4 909.1 554.6 912.7 556.4C916.4 558.2 920.7 558.6 923.6 560.7C926.6 562.9 929.8 566.9 930.2 569.5C930.6 572.0 928.4 575.6 925.8 576.0C923.3 576.4 918.2 573.5 914.9 571.6C911.6 569.8 909.5 565.8 906.2 565.1C902.9 564.4 898.2 567.6 895.3 567.3C892.4 566.9 889.1 564.7 888.7 562.9C888.4 561.1 893.5 558.6 893.1 556.4C892.7 554.2 888.9 551.6 886.6 549.8C884.2 548.0 880.4 547.3 878.9 545.5C877.5 543.6 875.8 539.6 877.8 538.9Z"/>
<path fill="#ff6000" d="M930.2 569.5C931.3 567.3 936.4 569.5 938.9 567.3C941.5 565.1 942.9 558.9 945.5 556.4C948.0 553.8 951.3 552.4 954.2 552.0C957.1 551.6 961.7 552.0 962.9 554.2C964.2 556.4 962.9 561.5 961.8 565.1C960.7 568.7 958.4 573.1 956.4 576.0C954.4 578.9 952.4 581.1 949.8 582.6C947.3 584.0 944.0 585.1 941.1 584.7C938.2 584.4 934.2 582.9 932.4 580.4C930.6 577.8 929.1 571.6 930.2 569.5Z"/>
<path fill="#ff6000" d="M965.1 554.2C966.2 551.6 970.2 549.1 973.8 547.6C977.5 546.2 982.2 546.0 986.9 545.5C991.7 544.9 999.7 540.0 1002.2 544.4C1004.7 548.7 1004.0 566.0 1002.2 571.6C1000.4 577.3 994.9 577.1 991.3 578.2C987.7 579.3 983.3 579.3 980.4 578.2C977.5 577.1 976.0 574.2 973.8 571.6C971.7 569.1 968.7 565.8 967.3 562.9C965.8 560.0 964.0 556.7 965.1 554.2Z"/>
<path fill="#ff6000" d="M853.8 567.3C854.6 565.5 858.9 564.6 862.6 564.0C866.2 563.5 873.1 562.7 875.6 564.0C878.2 565.3 878.9 569.6 877.8 571.6C876.7 573.6 872.4 575.5 869.1 576.0C865.8 576.6 860.7 576.4 858.2 574.9C855.6 573.5 853.1 569.1 853.8 567.3Z"/>
<path fill="#ff6000" d="M921.5 538.9C921.6 536.5 924.6 535.6 925.8 537.8C927.1 540.0 929.3 549.6 929.1 552.0C928.9 554.4 926.0 554.2 924.7 552.0C923.5 549.8 921.3 541.3 921.5 538.9Z"/>
<path fill="#50a5f5" d="M792.7 610.9C793.5 608.0 796.4 604.4 799.3 602.2C802.2 600.0 806.2 599.6 810.2 597.8C814.2 596.0 820.7 591.6 823.3 591.3C825.8 590.9 826.6 593.8 825.5 595.6C824.4 597.5 819.6 600.4 816.7 602.2C813.8 604.0 810.7 604.0 808.0 606.6C805.3 609.1 802.5 615.3 800.4 617.5C798.2 619.6 796.2 620.7 794.9 619.6C793.6 618.6 792.0 613.8 792.7 610.9Z"/>
<path fill="#50a5f5" d="M847.3 606.6C847.6 605.3 852.7 602.2 856.0 601.1C859.3 600.0 865.5 599.3 866.9 600.0C868.4 600.7 866.9 604.0 864.7 605.5C862.6 606.9 856.7 608.6 853.8 608.7C850.9 608.9 846.9 607.8 847.3 606.6Z"/>
<path fill="#50a5f5" d="M779.6 614.2C780.4 613.1 784.9 612.6 786.2 613.1C787.5 613.6 788.0 616.4 787.3 617.5C786.5 618.6 783.1 620.2 781.8 619.6C780.5 619.1 778.9 615.3 779.6 614.2Z"/>
<path fill="#50a5f5" d="M962.9 490.9C962.9 489.3 965.1 488.0 967.3 489.8C969.5 491.6 975.1 499.1 976.0 501.8C976.9 504.5 974.2 506.5 972.7 506.2C971.3 505.8 968.9 502.2 967.3 499.6C965.7 497.1 962.9 492.5 962.9 490.9Z"/>
<path fill="#ff6000" d="M260.0 377.5C263.5 371.7 270.8 360.0 275.0 355.0C279.2 350.0 281.7 348.3 285.0 347.5C288.3 346.7 291.7 348.3 295.0 350.0C298.3 351.7 302.1 350.8 305.0 357.5C307.9 364.2 310.4 382.3 312.5 390.0C314.6 397.7 315.4 400.9 317.5 403.8C319.6 406.6 323.2 408.0 325.0 407.0C326.8 406.0 327.1 401.2 328.0 397.5C328.9 393.8 328.5 387.9 330.5 385.0C332.5 382.1 335.9 381.7 340.0 380.0C344.1 378.3 351.2 375.0 355.0 375.0C358.8 375.0 361.0 375.4 362.5 380.0C364.0 384.6 364.2 397.1 363.8 402.5C363.3 407.9 362.3 410.0 360.0 412.5C357.7 415.0 353.3 416.2 350.0 417.5C346.7 418.8 342.9 418.8 340.0 420.0C337.1 421.2 335.0 423.3 332.5 425.0C330.0 426.7 327.1 427.5 325.0 430.0C322.9 432.5 321.2 437.5 320.0 440.0C318.8 442.5 316.7 442.9 317.5 445.0C318.3 447.1 322.9 449.2 325.0 452.5C327.1 455.8 327.5 461.2 330.0 465.0C332.5 468.8 336.7 474.2 340.0 475.0C343.3 475.8 346.7 470.8 350.0 470.0C353.3 469.2 356.7 468.3 360.0 470.0C363.3 471.7 367.9 476.7 370.0 480.0C372.1 483.3 372.5 486.7 372.5 490.0C372.5 493.3 369.6 495.8 370.0 500.0C370.4 504.2 373.3 510.0 375.0 515.0C376.7 520.0 377.9 525.8 380.0 530.0C382.1 534.2 385.0 535.8 387.5 540.0C390.0 544.2 416.7 552.5 395.0 555.0C373.3 557.5 280.0 557.5 257.5 555.0C235.0 552.5 258.8 544.2 260.0 540.0C261.2 535.8 265.0 533.3 265.0 530.0C265.0 526.7 262.5 522.9 260.0 520.0C257.5 517.1 252.9 515.4 250.0 512.5C247.1 509.6 245.8 503.8 242.5 502.5C239.2 501.2 233.8 502.9 230.0 505.0C226.2 507.1 223.3 512.1 220.0 515.0C216.7 517.9 211.0 523.3 210.0 522.5C209.0 521.7 211.9 516.2 213.8 510.0C215.6 503.8 219.2 492.5 221.2 485.0C223.3 477.5 224.6 472.5 226.2 465.0C227.9 457.5 229.8 447.1 231.2 440.0C232.7 432.9 232.7 428.3 235.0 422.5C237.3 416.7 241.9 410.4 245.0 405.0C248.1 399.6 251.2 394.6 253.8 390.0C256.2 385.4 256.5 383.3 260.0 377.5Z"/>
<path fill="#ff6000" d="M366.2 390.0C367.1 389.2 371.9 395.0 375.0 395.0C378.1 395.0 382.5 392.9 385.0 390.0C387.5 387.1 387.9 381.7 390.0 377.5C392.1 373.3 395.0 368.8 397.5 365.0C400.0 361.2 402.5 357.9 405.0 355.0C407.5 352.1 410.4 347.5 412.5 347.5C414.6 347.5 417.1 350.0 417.5 355.0C417.9 360.0 415.4 370.8 415.0 377.5C414.6 384.2 416.2 390.4 415.0 395.0C413.8 399.6 410.4 402.1 407.5 405.0C404.6 407.9 400.8 410.8 397.5 412.5C394.2 414.2 390.4 413.8 387.5 415.0C384.6 416.2 382.1 420.8 380.0 420.0C377.9 419.2 376.7 413.3 375.0 410.0C373.3 406.7 371.5 403.3 370.0 400.0C368.5 396.7 365.4 390.8 366.2 390.0Z"/>
<path fill="#50a5f5" d="M446.2 442.5C447.9 442.3 453.5 446.5 457.5 447.5C461.5 448.5 467.9 447.6 470.0 448.8C472.1 449.9 472.5 453.6 470.0 454.5C467.5 455.4 458.8 455.0 455.0 454.0C451.2 453.0 449.0 450.7 447.5 448.8C446.0 446.8 444.6 442.7 446.2 442.5Z"/>
<path fill="#50a5f5" d="M383.8 515.0C384.4 513.5 387.7 513.8 388.8 515.0C389.8 516.2 390.6 521.0 390.0 522.5C389.4 524.0 386.0 525.2 385.0 524.0C384.0 522.8 383.1 516.5 383.8 515.0Z"/>
<path fill="#50a5f5" d="M398.8 533.8C399.8 532.5 404.8 532.5 406.2 533.8C407.7 535.0 408.5 540.0 407.5 541.2C406.5 542.5 401.5 542.8 400.0 541.5C398.5 540.2 397.7 535.0 398.8 533.8Z"/>
<path fill="#ff6000" d="M388.8 510.0C388.5 508.1 391.0 508.3 392.5 510.0C394.0 511.7 397.3 518.1 397.5 520.0C397.7 521.9 395.2 523.2 393.8 521.5C392.3 519.8 389.0 511.9 388.8 510.0Z"/>
<path fill="#ff6000" d="M257.5 552.5C277.9 550.4 357.5 550.0 377.5 552.5C397.5 555.0 379.6 563.8 377.5 567.5C375.4 571.2 368.8 572.9 365.0 575.0C361.2 577.1 358.3 578.8 355.0 580.0C351.7 581.2 348.3 581.7 345.0 582.5C341.7 583.3 338.3 585.4 335.0 585.0C331.7 584.6 327.9 581.7 325.0 580.0C322.1 578.3 320.4 576.7 317.5 575.0C314.6 573.3 310.4 570.0 307.5 570.0C304.6 570.0 302.9 573.3 300.0 575.0C297.1 576.7 293.3 580.0 290.0 580.0C286.7 580.0 283.3 575.0 280.0 575.0C276.7 575.0 273.3 578.8 270.0 580.0C266.7 581.2 263.3 581.2 260.0 582.5C256.7 583.8 253.3 586.2 250.0 587.5C246.7 588.8 243.3 589.4 240.0 590.0C236.7 590.6 233.3 591.2 230.0 591.2C226.7 591.2 223.3 591.0 220.0 590.0C216.7 589.0 213.3 586.7 210.0 585.0C206.7 583.3 201.7 583.3 200.0 580.0C198.3 576.7 197.9 567.5 200.0 565.0C202.1 562.5 208.3 565.4 212.5 565.0C216.7 564.6 220.4 562.1 225.0 562.5C229.6 562.9 235.0 567.1 240.0 567.5C245.0 567.9 252.1 567.5 255.0 565.0C257.9 562.5 237.1 554.6 257.5 552.5Z"/>
<path fill="#ff6000" d="M210.0 522.5C211.2 520.4 215.8 518.8 217.5 520.0C219.2 521.2 220.4 527.1 220.0 530.0C219.6 532.9 216.7 537.1 215.0 537.5C213.3 537.9 210.8 535.0 210.0 532.5C209.2 530.0 208.8 524.6 210.0 522.5Z"/>
<path fill="#ff6000" d="M222.5 550.0C223.3 547.9 229.2 542.9 232.5 542.5C235.8 542.1 240.2 545.4 242.5 547.5C244.8 549.6 247.1 553.3 246.2 555.0C245.4 556.7 240.6 557.5 237.5 557.5C234.4 557.5 230.0 556.2 227.5 555.0C225.0 553.8 221.7 552.1 222.5 550.0Z"/>
<path fill="#ff6000" d="M200.0 555.0C200.4 552.5 202.9 550.0 205.0 550.0C207.1 550.0 211.7 552.5 212.5 555.0C213.3 557.5 211.7 563.3 210.0 565.0C208.3 566.7 204.2 566.7 202.5 565.0C200.8 563.3 199.6 557.5 200.0 555.0Z"/>
<path fill="#50a5f5" d="M361.2 608.8C362.2 607.8 366.5 607.9 367.5 608.8C368.5 609.6 368.4 612.8 367.5 613.8C366.6 614.7 363.0 615.1 362.0 614.2C361.0 613.4 360.3 609.7 361.2 608.8Z"/>
<path fill="#50a5f5" d="M546.2 547.5C547.7 545.6 552.7 543.8 555.0 545.0C557.3 546.2 560.4 552.5 560.0 555.0C559.6 557.5 554.8 559.8 552.5 560.0C550.2 560.2 547.3 558.3 546.2 556.2C545.2 554.2 544.8 549.4 546.2 547.5Z"/>
<path fill="#ff6000" d="M487.5 502.5C486.9 500.0 489.2 495.6 491.2 493.8C493.3 491.9 496.9 490.4 500.0 491.2C503.1 492.1 506.2 496.2 510.0 498.8C513.8 501.2 517.9 504.2 522.5 506.2C527.1 508.3 533.3 509.4 537.5 511.2C541.7 513.1 545.6 514.8 547.5 517.5C549.4 520.2 549.8 525.6 549.0 527.5C548.2 529.4 545.2 530.0 542.5 529.0C539.8 528.0 536.2 523.2 532.5 521.2C528.8 519.3 524.2 518.8 520.0 517.5C515.8 516.2 511.7 515.2 507.5 513.8C503.3 512.3 498.3 510.6 495.0 508.8C491.7 506.9 488.1 505.0 487.5 502.5Z"/>
<path fill="#ff6000" d="M462.5 565.0C463.4 562.0 467.7 562.9 470.0 558.8C472.3 554.6 474.5 545.0 476.2 540.0C478.0 535.0 479.4 530.0 480.5 528.8C481.6 527.5 482.8 529.0 483.0 532.5C483.2 536.0 482.0 544.6 482.0 550.0C482.0 555.4 483.3 561.0 483.0 565.0C482.7 569.0 482.0 571.2 480.0 573.8C478.0 576.3 473.8 579.8 471.2 580.2C468.7 580.7 466.0 579.0 464.5 576.5C463.0 574.0 461.6 568.0 462.5 565.0Z"/>
<path fill="#ff6000" d="M492.0 527.5C492.5 525.0 495.3 524.2 496.2 526.2C497.2 528.3 498.0 537.5 497.5 540.0C497.0 542.5 493.9 543.6 493.0 541.5C492.1 539.4 491.5 530.0 492.0 527.5Z"/>
<path fill="#ff6000" d="M500.0 531.2C500.3 528.7 503.7 527.9 505.0 530.0C506.3 532.1 508.3 541.2 508.0 543.8C507.7 546.3 504.3 547.3 503.0 545.2C501.7 543.2 499.7 533.8 500.0 531.2Z"/>
<path fill="#50a5f5" d="M486.2 530.5C486.8 529.4 489.3 529.0 490.0 530.0C490.7 531.0 491.1 535.2 490.5 536.2C489.9 537.3 487.2 537.5 486.5 536.5C485.8 535.5 485.7 531.6 486.2 530.5Z"/>
<path fill="#50a5f5" d="M487.5 562.5C488.2 561.5 491.6 561.2 492.5 562.0C493.4 562.8 493.8 566.5 493.0 567.5C492.2 568.5 488.9 568.6 488.0 567.8C487.1 566.9 486.8 563.5 487.5 562.5Z"/>
<path fill="#50a5f5" d="M400.0 533.8C401.0 532.5 406.0 531.7 407.5 532.5C409.0 533.3 409.8 537.5 408.8 538.8C407.7 540.0 402.7 541.1 401.2 540.2C399.8 539.4 399.0 535.0 400.0 533.8Z"/>
<path fill="#50a5f5" d="M452.5 545.0C453.8 543.5 458.5 544.2 460.0 546.2C461.5 548.3 461.9 554.8 461.2 557.5C460.6 560.2 457.7 563.2 456.2 562.8C454.8 562.3 453.1 558.0 452.5 555.0C451.9 552.0 451.2 546.5 452.5 545.0Z"/>
<path fill="#50a5f5" d="M421.2 577.5C421.7 575.4 425.0 574.8 426.2 576.2C427.5 577.7 429.2 584.1 428.8 586.2C428.3 588.4 425.0 590.5 423.8 589.0C422.5 587.5 420.8 579.6 421.2 577.5Z"/>
<path fill="#ff6000" d="M485.0 610.0C485.4 607.9 492.5 605.4 495.0 602.5C497.5 599.6 497.1 595.0 500.0 592.5C502.9 590.0 507.9 589.2 512.5 587.5C517.1 585.8 523.3 583.8 527.5 582.5C531.7 581.2 534.6 579.6 537.5 580.0C540.4 580.4 542.1 584.6 545.0 585.0C547.9 585.4 550.8 583.3 555.0 582.5C559.2 581.7 565.4 579.2 570.0 580.0C574.6 580.8 580.2 584.2 582.5 587.5C584.8 590.8 585.2 596.7 584.0 600.0C582.8 603.3 578.2 605.0 575.0 607.5C571.8 610.0 569.2 612.9 565.0 615.0C560.8 617.1 555.0 619.4 550.0 620.2C545.0 621.1 540.0 620.7 535.0 620.2C530.0 619.8 525.0 618.6 520.0 617.8C515.0 616.9 509.6 615.7 505.0 615.2C500.4 614.8 495.8 616.1 492.5 615.2C489.2 614.4 484.6 612.1 485.0 610.0Z"/>
<path fill="#ff6000" d="M560.0 575.0C561.7 573.5 570.0 572.1 575.0 571.2C580.0 570.4 585.8 571.5 590.0 570.0C594.2 568.5 597.1 564.6 600.0 562.5C602.9 560.4 604.2 557.5 607.5 557.5C610.8 557.5 615.8 561.2 620.0 562.5C624.2 563.8 628.3 565.8 632.5 565.0C636.7 564.2 642.1 560.0 645.0 557.5C647.9 555.0 647.1 551.7 650.0 550.0C652.9 548.3 657.9 547.1 662.5 547.5C667.1 547.9 675.0 543.8 677.5 552.5C680.0 561.2 680.4 591.7 677.5 600.0C674.6 608.3 665.4 602.9 660.0 602.5C654.6 602.1 649.2 597.9 645.0 597.5C640.8 597.1 639.2 600.4 635.0 600.0C630.8 599.6 624.6 596.7 620.0 595.0C615.4 593.3 611.2 592.1 607.5 590.0C603.8 587.9 600.8 584.2 597.5 582.5C594.2 580.8 591.2 580.0 587.5 580.0C583.8 580.0 578.8 582.5 575.0 582.5C571.2 582.5 567.5 581.2 565.0 580.0C562.5 578.8 558.3 576.5 560.0 575.0Z"/>
<path fill="#ff6000" d="M491.2 578.8C492.4 577.3 496.5 575.0 498.8 575.0C501.0 575.0 504.1 577.1 505.0 578.8C505.9 580.4 505.5 583.5 504.0 585.0C502.5 586.5 498.2 588.0 496.2 587.8C494.2 587.5 492.8 585.2 492.0 583.8C491.2 582.2 490.1 580.2 491.2 578.8Z"/>
<path fill="#50a5f5" d="M591.2 596.2C592.5 595.0 597.9 594.0 600.0 595.0C602.1 596.0 604.2 600.8 603.8 602.5C603.3 604.2 599.4 605.2 597.5 605.2C595.6 605.2 593.5 604.0 592.5 602.5C591.5 601.0 590.0 597.5 591.2 596.2Z"/>
<path fill="#50a5f5" d="M615.0 602.5C616.2 600.4 621.7 598.8 623.8 600.0C625.8 601.2 627.7 607.0 627.5 610.0C627.3 613.0 624.4 617.3 622.5 617.8C620.6 618.2 617.5 615.0 616.2 612.5C615.0 610.0 613.8 604.6 615.0 602.5Z"/>
<path fill="#50a5f5" d="M636.2 617.5C637.0 616.1 640.2 615.2 641.2 616.2C642.3 617.3 643.2 622.3 642.5 623.8C641.8 625.2 638.0 625.8 637.0 624.8C636.0 623.7 635.5 618.9 636.2 617.5Z"/>
<path fill="#ff6000" d="M670.0 555.0C673.8 557.1 682.1 559.2 685.0 562.5C687.9 565.8 685.8 570.8 687.5 575.0C689.2 579.2 691.2 585.4 695.0 587.5C698.8 589.6 705.4 586.7 710.0 587.5C714.6 588.3 720.0 590.4 722.5 592.5C725.0 594.6 726.2 597.5 725.0 600.0C723.8 602.5 718.3 605.6 715.0 607.5C711.7 609.4 708.8 611.9 705.0 611.5C701.2 611.1 696.2 605.6 692.5 605.0C688.8 604.4 685.4 609.0 682.5 607.8C679.6 606.5 677.9 598.8 675.0 597.5C672.1 596.2 668.3 600.7 665.0 600.2C661.7 599.8 658.3 595.4 655.0 595.0C651.7 594.6 648.3 598.2 645.0 597.8C641.7 597.3 639.6 593.8 635.0 592.5C630.4 591.2 620.4 596.7 617.5 590.0C614.6 583.3 614.6 559.6 617.5 552.5C620.4 545.4 629.6 548.5 635.0 547.5C640.4 546.5 645.4 545.8 650.0 546.2C654.6 546.7 659.2 548.5 662.5 550.0C665.8 551.5 666.2 552.9 670.0 555.0Z"/>
<path fill="#ff6000" d="M736.2 492.5C736.7 490.0 740.0 487.9 741.2 488.8C742.5 489.6 744.2 495.0 743.8 497.5C743.3 500.0 740.0 504.8 738.8 504.0C737.5 503.2 735.8 495.0 736.2 492.5Z"/>
<path fill="#50a5f5" d="M697.5 545.0C698.4 544.0 702.6 543.7 703.8 544.5C704.9 545.3 705.4 549.0 704.5 550.0C703.6 551.0 699.7 551.6 698.5 550.8C697.3 549.9 696.6 546.0 697.5 545.0Z"/>
<path fill="#ff6000" d="M760.0 575.0C760.7 573.4 765.0 572.7 766.2 573.8C767.5 574.8 768.2 579.7 767.5 581.2C766.8 582.8 763.2 584.3 762.0 583.2C760.8 582.2 759.3 576.6 760.0 575.0Z"/>
<path fill="#50a5f5" d="M715.0 627.5C716.7 625.6 726.2 620.8 730.0 620.0C733.8 619.2 737.1 620.8 737.5 622.5C737.9 624.2 735.4 628.8 732.5 630.2C729.6 631.8 722.9 632.0 720.0 631.5C717.1 631.0 713.3 629.4 715.0 627.5Z"/>
<path fill="#50a5f5" d="M780.0 613.8C780.9 612.6 786.0 611.9 787.5 612.5C789.0 613.1 789.7 616.4 788.8 617.5C787.8 618.6 783.5 619.9 782.0 619.2C780.5 618.6 779.1 614.9 780.0 613.8Z"/>
<path fill="#50a5f5" d="M796.2 605.0C797.3 602.0 801.0 599.6 805.0 597.5C809.0 595.4 816.7 592.7 820.0 592.5C823.3 592.3 825.8 594.6 825.0 596.2C824.2 597.9 818.3 600.6 815.0 602.5C811.7 604.4 807.7 605.4 805.0 607.5C802.3 609.6 800.2 615.7 798.8 615.2C797.3 614.8 795.2 608.0 796.2 605.0Z"/>
<path fill="#50a5f5" d="M618.8 600.0C620.0 598.3 624.8 599.6 626.2 601.2C627.7 602.9 628.8 608.3 627.5 610.0C626.2 611.7 620.2 613.2 618.8 611.5C617.3 609.8 617.5 601.7 618.8 600.0Z"/>
<path fill="#50a5f5" d="M636.2 617.5C637.0 616.2 640.3 616.0 641.2 617.0C642.2 618.0 642.7 622.5 642.0 623.8C641.3 625.0 638.0 625.8 637.0 624.8C636.0 623.7 635.5 618.8 636.2 617.5Z"/>
<path fill="#ff6000" d="M375.0 397.6C375.9 391.1 378.6 390.0 380.5 386.7C382.3 383.3 383.8 380.6 385.9 377.6C388.1 374.5 390.8 371.8 393.2 368.5C395.7 365.1 398.1 360.5 400.5 357.5C403.0 354.5 405.4 352.6 407.8 350.2C410.2 347.8 412.7 345.7 415.1 342.9C417.5 340.2 420.0 336.2 422.4 333.8C424.8 331.4 427.3 329.9 429.7 328.3C432.1 326.8 434.6 325.6 437.0 324.7C439.4 323.8 441.5 323.2 444.3 322.9C447.0 322.6 450.4 322.3 453.4 322.9C456.4 323.5 459.2 325.3 462.5 326.5C465.9 327.7 469.8 329.9 473.5 330.2C477.1 330.5 481.0 329.9 484.4 328.3C487.7 326.8 492.3 323.8 493.5 321.0C494.7 318.3 492.0 315.6 491.7 311.9C491.4 308.3 491.4 302.5 491.7 299.2C492.0 295.8 492.3 293.4 493.5 291.9C494.7 290.4 497.5 289.8 499.0 290.1C500.5 290.4 502.3 291.9 502.6 293.7C502.9 295.5 500.8 298.6 500.8 301.0C500.8 303.4 501.1 305.9 502.6 308.3C504.1 310.7 507.2 313.8 509.9 315.6C512.6 317.4 516.0 318.9 519.0 319.2C522.1 319.5 525.4 318.9 528.1 317.4C530.9 315.9 533.0 312.2 535.4 310.1C537.9 308.0 540.3 305.2 542.7 304.6C545.2 304.0 548.8 304.9 550.0 306.5C551.2 308.0 550.9 311.3 550.0 313.8C549.1 316.2 545.8 318.0 544.6 321.0C543.3 324.1 544.2 328.9 542.7 332.0C541.2 335.0 538.5 337.5 535.4 339.3C532.4 341.1 528.8 342.0 524.5 342.9C520.2 343.8 515.4 344.1 509.9 344.7C504.4 345.4 497.8 346.0 491.7 346.6C485.6 347.2 478.3 347.8 473.5 348.4C468.6 349.0 466.8 349.0 462.5 350.2C458.3 351.4 452.2 354.2 447.9 355.7C443.7 357.2 440.6 358.1 437.0 359.3C433.3 360.5 429.1 361.8 426.0 363.0C423.0 364.2 420.6 365.1 418.8 366.6C416.9 368.1 416.0 368.8 415.1 372.1C414.2 375.4 413.3 382.4 413.3 386.7C413.3 390.9 415.4 394.0 415.1 397.6C414.8 401.3 413.3 406.1 411.5 408.6C409.6 411.0 406.6 411.0 404.2 412.2C401.7 413.4 399.3 413.6 396.9 415.9C394.4 418.1 393.2 424.2 389.6 425.9C385.9 427.6 377.4 430.6 375.0 425.9C372.6 421.2 374.1 404.2 375.0 397.6Z"/>
<path fill="#50a5f5" d="M435.2 301.0C435.6 299.1 438.5 297.0 440.6 295.5C442.8 294.0 446.0 292.2 447.9 291.9C449.9 291.6 452.2 291.9 452.5 293.7C452.8 295.5 451.1 300.7 449.7 302.8C448.4 304.9 446.3 305.8 444.3 306.5C442.3 307.1 439.4 307.6 437.9 306.6C436.4 305.7 434.7 302.8 435.2 301.0Z"/>
<path fill="#50a5f5" d="M425.1 330.2C425.1 328.8 427.6 327.1 428.8 326.5C430.0 325.9 431.7 325.8 432.4 326.5C433.1 327.3 433.6 329.7 433.0 331.1C432.4 332.5 430.1 335.1 428.8 334.9C427.5 334.8 425.1 331.6 425.1 330.2Z"/>
<path fill="#50a5f5" d="M468.9 282.8C469.4 281.6 472.1 280.6 473.5 280.6C474.8 280.6 476.9 281.7 477.1 282.8C477.3 283.8 476.1 286.0 474.9 286.8C473.8 287.6 471.2 288.2 470.2 287.5C469.2 286.8 468.3 283.9 468.9 282.8Z"/>
<path fill="#50a5f5" d="M460.7 272.7C461.1 270.9 464.3 270.5 465.2 271.8C466.2 273.2 466.6 279.1 466.2 280.9C465.7 282.8 463.4 284.3 462.5 282.9C461.6 281.6 460.2 274.6 460.7 272.7Z"/>
<path fill="#50a5f5" d="M390.5 361.2C391.0 360.4 394.1 359.2 395.1 359.3C396.1 359.5 397.0 361.3 396.5 362.1C396.1 362.9 393.3 364.2 392.3 364.1C391.3 363.9 390.0 361.9 390.5 361.2Z"/>
<path fill="#50a5f5" d="M399.6 533.6C400.8 532.5 404.6 531.0 406.0 531.7C407.4 532.5 408.4 536.6 407.8 538.1C407.2 539.6 403.8 540.9 402.3 540.9C400.9 540.9 399.5 539.3 399.1 538.1C398.6 536.9 398.5 534.6 399.6 533.6Z"/>
<path fill="#50a5f5" d="M385.9 515.3C386.4 514.1 388.8 513.5 389.6 514.4C390.3 515.3 391.0 519.6 390.5 520.8C390.0 522.0 387.6 522.6 386.9 521.7C386.1 520.8 385.5 516.5 385.9 515.3Z"/>
<path fill="#50a5f5" d="M268.0 342.5C268.5 341.9 270.9 341.9 271.5 342.5C272.1 343.1 272.0 345.4 271.5 346.0C271.0 346.6 269.1 346.6 268.5 346.0C267.9 345.4 267.5 343.1 268.0 342.5Z"/>
<path fill="#b4f0fa" d="M871.3 545.0C872.0 542.6 877.8 542.6 880.0 543.7C882.2 544.9 882.9 549.5 884.4 552.0C885.8 554.5 888.9 556.6 888.7 558.6C888.6 560.6 885.5 564.0 883.3 564.0C881.1 564.0 877.6 561.7 875.6 558.6C873.6 555.4 870.6 547.5 871.3 545.0Z"/>
<path fill="#b4f0fa" d="M967.3 534.5C968.4 532.0 974.9 530.3 978.2 530.6C981.5 530.9 986.4 533.5 986.9 536.3C987.5 539.1 984.0 545.6 981.5 547.2C978.9 548.8 974.0 548.0 971.7 545.9C969.3 543.8 966.2 537.1 967.3 534.5Z"/>
<path fill="#50a5f5" d="M248.8 546.2C249.4 544.4 253.1 542.4 255.0 542.5C256.9 542.6 259.6 545.2 260.0 547.0C260.4 548.8 259.0 551.9 257.5 553.0C256.0 554.1 252.7 554.9 251.2 553.8C249.8 552.6 248.1 548.1 248.8 546.2Z"/>
<path fill="#ffe878" d="M415.0 562.5C416.7 561.9 421.7 563.8 425.0 565.0C428.3 566.2 433.8 568.1 435.0 570.0C436.2 571.9 434.6 575.8 432.5 576.5C430.4 577.2 425.4 575.3 422.5 574.0C419.6 572.7 416.2 570.7 415.0 568.8C413.8 566.8 413.3 563.1 415.0 562.5Z"/>
<path fill="#50a5f5" d="M873.5 546.6C873.8 544.7 877.5 544.6 878.9 545.5C880.4 546.4 880.9 549.8 882.2 552.0C883.5 554.2 886.6 556.9 886.6 558.6C886.6 560.2 883.8 562.2 882.2 561.8C880.6 561.5 878.2 558.9 876.7 556.4C875.3 553.8 873.1 548.4 873.5 546.6Z"/>
<path fill="#50a5f5" d="M840.7 538.9C841.4 537.6 845.1 536.9 846.2 537.8C847.3 538.7 847.9 543.1 847.3 544.4C846.7 545.6 843.6 546.4 842.5 545.5C841.4 544.6 840.1 540.2 840.7 538.9Z"/>
<path fill="#50a5f5" d="M969.5 535.6C970.4 533.6 975.7 532.2 978.2 532.4C980.7 532.5 984.4 534.5 984.7 536.7C985.1 538.9 982.4 544.2 980.4 545.5C978.4 546.7 974.6 546.0 972.7 544.4C970.9 542.7 968.6 537.6 969.5 535.6Z"/>
<path fill="#50a5f5" d="M878.9 571.6C879.8 570.2 884.4 569.5 885.5 570.6C886.6 571.6 886.4 576.7 885.5 578.2C884.6 579.6 881.1 580.4 880.0 579.3C878.9 578.2 878.0 573.1 878.9 571.6Z"/>
<path fill="#ffffff" d="M252.0 547.5C252.5 546.7 254.6 545.8 255.5 546.0C256.4 546.2 257.6 548.1 257.5 549.0C257.4 549.9 255.9 551.2 255.0 551.5C254.1 551.8 252.8 551.4 252.2 550.8C251.8 550.1 251.5 548.3 252.0 547.5Z"/>
<path fill="#ff6000" d="M417.5 566.2C418.1 565.4 421.5 565.4 422.5 566.2C423.5 567.1 424.4 570.4 423.8 571.2C423.1 572.1 419.8 572.3 418.8 571.5C417.7 570.7 416.9 567.1 417.5 566.2Z"/>
<path fill="#ffe878" d="M426.2 197.5C428.1 196.1 436.0 193.8 440.0 193.0C444.0 192.2 447.9 192.0 450.0 192.5C452.1 193.0 452.9 194.8 452.5 196.2C452.1 197.7 450.4 200.0 447.5 201.2C444.6 202.5 438.1 203.8 435.0 203.8C431.9 203.8 430.2 202.3 428.8 201.2C427.3 200.2 424.4 198.9 426.2 197.5Z"/>
<path fill="#ffe878" d="M780.0 326.2C780.4 324.6 785.0 323.5 787.5 323.8C790.0 324.0 794.0 326.0 795.0 327.5C796.0 329.0 795.4 332.0 793.8 333.0C792.1 334.0 787.3 334.9 785.0 333.8C782.7 332.6 779.6 327.9 780.0 326.2Z"/>
<path fill="#ffe878" d="M782.5 340.0C783.1 338.5 788.3 337.9 790.0 338.8C791.7 339.6 793.1 343.5 792.5 345.0C791.9 346.5 787.9 348.3 786.2 347.5C784.6 346.7 781.9 341.5 782.5 340.0Z"/>
<path fill="#ffe878" d="M762.5 520.0C764.0 518.1 770.0 515.8 772.5 516.2C775.0 516.7 777.9 520.2 777.5 522.5C777.1 524.8 772.3 529.4 770.0 530.2C767.7 531.1 765.0 529.2 763.8 527.5C762.5 525.8 761.0 521.9 762.5 520.0Z"/>
<path fill="#ffe878" d="M747.5 546.2C748.6 545.0 752.3 544.0 753.8 545.0C755.2 546.0 756.7 550.6 756.2 552.5C755.8 554.4 752.8 556.5 751.2 556.5C749.7 556.5 747.6 554.2 747.0 552.5C746.4 550.8 746.4 547.5 747.5 546.2Z"/>
<path fill="#ffe878" d="M642.5 555.0C644.0 554.2 650.0 554.6 652.5 556.2C655.0 557.9 657.9 563.3 657.5 565.0C657.1 566.7 652.3 567.1 650.0 566.5C647.7 565.9 645.0 563.2 643.8 561.2C642.5 559.3 641.0 555.8 642.5 555.0Z"/>
<path fill="#ffe878" d="M613.8 563.8C614.8 562.4 620.8 561.7 622.5 562.5C624.2 563.3 624.8 567.4 623.8 568.8C622.7 570.1 617.9 571.6 616.2 570.8C614.6 569.9 612.7 565.1 613.8 563.8Z"/>
<path fill="#ffe878" d="M666.2 565.0C667.3 564.1 671.7 565.0 672.5 566.2C673.3 567.5 672.3 571.6 671.2 572.5C670.2 573.4 667.1 572.8 666.2 571.5C665.4 570.2 665.2 565.9 666.2 565.0Z"/>
<path fill="#ffe878" d="M928.0 191.5C929.1 189.5 931.6 186.9 934.6 184.9C937.5 182.9 941.1 180.9 945.5 179.5C949.8 178.0 954.9 176.8 960.7 176.2C966.6 175.6 973.5 175.2 980.4 175.7C987.3 176.3 998.6 175.9 1002.2 179.5C1005.8 183.0 1004.0 194.9 1002.2 196.9C1000.4 198.9 995.3 192.9 991.3 191.5C987.3 190.0 982.6 188.4 978.2 188.2C973.8 188.0 969.5 189.5 965.1 190.4C960.7 191.3 955.7 193.5 952.0 193.6C948.4 193.8 946.2 191.1 943.3 191.5C940.4 191.8 937.1 194.9 934.6 195.8C932.0 196.7 929.1 197.6 928.0 196.9C926.9 196.2 926.9 193.5 928.0 191.5Z"/>
<path fill="#ffe878" d="M912.7 199.1C913.6 197.4 918.6 194.5 921.5 193.6C924.4 192.7 928.4 192.7 930.2 193.6C932.0 194.5 933.1 197.4 932.4 199.1C931.6 200.8 928.6 202.9 925.8 203.7C923.1 204.4 918.2 204.4 916.0 203.7C913.8 202.9 911.8 200.8 912.7 199.1Z"/>
<path fill="#ffe878" d="M922.6 210.0C923.3 208.0 928.6 204.7 932.4 203.5C936.2 202.2 942.9 201.6 945.5 202.4C948.0 203.1 948.7 206.0 947.7 207.8C946.6 209.7 942.2 212.2 938.9 213.5C935.6 214.8 930.7 216.3 928.0 215.7C925.3 215.1 921.8 212.0 922.6 210.0Z"/>
<path fill="#ffe878" d="M917.1 219.8C917.3 217.4 920.0 214.6 922.6 213.3C925.1 212.0 930.4 211.1 932.4 212.2C934.4 213.3 934.9 217.4 934.6 219.8C934.2 222.2 932.4 225.3 930.2 226.6C928.0 227.9 923.6 228.8 921.5 227.7C919.3 226.6 916.9 222.2 917.1 219.8Z"/>
<path fill="#50a5f5" d="M948.1 199.1C948.6 197.8 951.4 195.8 953.1 195.8C954.9 195.8 958.0 197.8 958.6 199.1C959.1 200.4 957.8 202.7 956.4 203.5C954.9 204.2 951.2 204.2 949.8 203.5C948.5 202.7 947.5 200.4 948.1 199.1Z"/>
<path fill="#ffe878" d="M969.5 195.8C970.7 194.8 975.7 193.5 978.2 193.6C980.7 193.8 984.7 195.7 984.7 196.9C984.7 198.1 980.6 200.1 978.2 200.6C975.8 201.1 972.0 200.5 970.6 199.7C969.1 198.9 968.2 196.8 969.5 195.8Z"/>
<path fill="#ffe878" d="M825.5 399.6C826.1 397.8 828.3 395.5 829.8 395.3C831.4 395.1 834.0 396.6 834.6 398.6C835.3 400.6 834.6 405.4 833.8 407.3C832.9 409.2 830.7 410.3 829.4 410.1C828.1 409.9 826.6 407.9 825.9 406.2C825.2 404.4 824.8 401.5 825.5 399.6Z"/>
<path fill="#ffe878" d="M866.9 468.4C867.8 467.3 870.7 468.7 871.3 470.6C871.8 472.4 871.1 478.2 870.2 479.3C869.3 480.4 866.4 478.9 865.8 477.1C865.3 475.3 866.0 469.5 866.9 468.4Z"/>
<path fill="#ffe878" d="M260.0 467.5C261.2 463.8 266.2 464.6 270.0 465.0C273.8 465.4 280.0 467.1 282.5 470.0C285.0 472.9 285.4 478.8 285.0 482.5C284.6 486.2 282.5 490.4 280.0 492.5C277.5 494.6 272.9 495.8 270.0 495.0C267.1 494.2 264.2 492.1 262.5 487.5C260.8 482.9 258.8 471.2 260.0 467.5Z"/>
<path fill="#ffe878" d="M282.5 487.5C285.0 484.6 293.8 483.8 297.5 485.0C301.2 486.2 304.6 490.8 305.0 495.0C305.4 499.2 302.5 506.7 300.0 510.0C297.5 513.3 292.9 516.2 290.0 515.0C287.1 513.8 283.8 507.1 282.5 502.5C281.2 497.9 280.0 490.4 282.5 487.5Z"/>
<path fill="#ffe878" d="M310.0 495.0C312.5 492.1 320.8 489.2 325.0 490.0C329.2 490.8 334.2 496.2 335.0 500.0C335.8 503.8 332.9 510.0 330.0 512.5C327.1 515.0 320.8 515.8 317.5 515.0C314.2 514.2 311.2 510.8 310.0 507.5C308.8 504.2 307.5 497.9 310.0 495.0Z"/>
<path fill="#ffe878" d="M250.0 515.0C252.3 512.1 260.8 509.2 265.0 510.0C269.2 510.8 274.2 516.2 275.0 520.0C275.8 523.8 272.5 530.0 270.0 532.5C267.5 535.0 263.1 535.8 260.0 535.0C256.9 534.2 252.9 530.8 251.2 527.5C249.6 524.2 247.7 517.9 250.0 515.0Z"/>
<path fill="#ffe878" d="M340.0 476.2C340.6 474.0 346.7 472.1 350.0 471.2C353.3 470.4 357.1 469.8 360.0 471.2C362.9 472.7 365.8 476.9 367.5 480.0C369.2 483.1 370.6 487.9 370.0 490.0C369.4 492.1 366.2 492.9 363.8 492.5C361.2 492.1 357.9 488.8 355.0 487.5C352.1 486.2 348.8 486.9 346.2 485.0C343.8 483.1 339.4 478.5 340.0 476.2Z"/>
<path fill="#ffe878" d="M381.2 362.5C382.6 360.6 387.9 357.9 390.0 358.8C392.1 359.6 394.2 365.0 393.8 367.5C393.3 370.0 389.5 373.3 387.5 373.8C385.5 374.2 383.0 371.9 382.0 370.0C381.0 368.1 379.9 364.4 381.2 362.5Z"/>
<path fill="#b4f0fa" d="M248.8 420.0C249.4 417.2 252.1 413.3 253.8 410.0C255.4 406.7 257.1 401.2 258.8 400.0C260.4 398.8 263.1 400.4 263.8 402.5C264.4 404.6 263.8 408.8 262.5 412.5C261.2 416.2 258.3 422.7 256.2 425.0C254.2 427.3 251.2 427.3 250.0 426.5C248.8 425.7 248.1 422.8 248.8 420.0Z"/>
<path fill="#ffe878" d="M618.8 565.0C619.5 564.2 622.8 563.9 623.8 564.5C624.7 565.1 625.0 567.9 624.2 568.8C623.5 569.6 620.2 570.1 619.2 569.5C618.3 568.9 618.0 565.8 618.8 565.0Z"/>
<path fill="#ffe878" d="M665.0 565.0C665.8 563.5 671.0 562.7 672.5 563.8C674.0 564.8 674.6 569.8 673.8 571.2C672.9 572.8 669.0 573.8 667.5 572.8C666.0 571.7 664.2 566.5 665.0 565.0Z"/>
<path fill="#ff6000" d="M428.8 198.0C429.6 196.8 436.7 195.1 440.0 194.5C443.3 193.9 447.7 193.4 448.8 194.2C449.8 195.1 448.5 198.2 446.2 199.5C444.0 200.8 437.9 202.2 435.0 202.0C432.1 201.8 427.9 199.2 428.8 198.0Z"/>
<path fill="#ff6000" d="M932.4 190.4C932.7 189.1 936.0 186.5 938.9 184.9C941.8 183.3 945.8 181.7 949.8 180.5C953.8 179.4 957.8 178.5 962.9 177.9C968.0 177.4 973.8 176.8 980.4 177.3C986.9 177.7 998.6 178.7 1002.2 180.5C1005.8 182.4 1004.7 187.3 1002.2 188.2C999.7 189.1 991.7 186.5 986.9 186.0C982.2 185.5 977.8 184.7 973.8 184.9C969.8 185.2 966.6 186.6 962.9 187.5C959.3 188.4 955.3 190.1 952.0 190.4C948.7 190.7 945.8 188.9 943.3 189.3C940.7 189.6 938.6 192.4 936.7 192.5C934.9 192.7 932.0 191.6 932.4 190.4Z"/>
<path fill="#ff6000" d="M915.4 199.1C915.9 198.0 920.3 195.7 922.6 195.2C924.8 194.6 928.2 194.9 929.1 195.8C930.0 196.7 929.6 199.6 928.0 200.6C926.4 201.6 921.4 202.2 919.3 201.9C917.2 201.7 914.8 200.2 915.4 199.1Z"/>
<path fill="#ff6000" d="M925.8 209.3C926.9 207.9 931.5 205.4 934.6 204.5C937.6 203.7 942.9 203.4 944.4 204.1C945.8 204.8 944.9 207.6 943.3 208.9C941.6 210.3 937.1 211.5 934.6 212.2C932.0 212.9 929.5 213.8 928.0 213.3C926.6 212.8 924.7 210.8 925.8 209.3Z"/>
<path fill="#ff6000" d="M920.4 219.4C920.9 217.8 922.9 215.2 924.7 214.4C926.6 213.5 930.3 213.3 931.3 214.4C932.3 215.5 931.5 219.3 930.6 220.9C929.7 222.6 927.4 223.7 925.8 224.2C924.3 224.7 922.4 224.6 921.5 223.8C920.6 223.0 919.8 221.0 920.4 219.4Z"/>
<path fill="#ffffff" d="M265.5 475.0C266.2 472.4 270.4 471.9 272.5 472.5C274.6 473.1 277.6 476.2 278.0 478.8C278.4 481.2 276.7 486.0 275.0 487.5C273.3 489.0 269.6 490.1 268.0 488.0C266.4 485.9 264.8 477.6 265.5 475.0Z"/>
<path fill="#ffffff" d="M287.5 493.8C288.9 491.9 294.2 490.2 296.2 491.2C298.2 492.3 299.9 497.2 299.5 500.0C299.1 502.8 295.7 507.6 293.8 508.0C291.8 508.4 289.0 504.9 288.0 502.5C287.0 500.1 286.1 495.6 287.5 493.8Z"/>
<path fill="#ffffff" d="M315.5 500.0C316.8 497.9 322.6 495.8 325.0 496.2C327.4 496.7 330.0 500.3 330.0 502.5C330.0 504.7 327.2 508.4 325.0 509.5C322.8 510.6 318.6 510.6 317.0 509.0C315.4 507.4 314.2 502.1 315.5 500.0Z"/>
<path fill="#ffffff" d="M256.2 518.8C257.6 516.9 262.9 515.4 265.0 516.2C267.1 517.1 269.0 521.5 268.8 523.8C268.5 526.0 265.7 529.4 263.8 530.0C261.8 530.6 258.2 529.4 257.0 527.5C255.8 525.6 254.9 520.6 256.2 518.8Z"/>
<path fill="#50a5f5" d="M385.5 363.8C386.1 363.1 388.8 363.1 389.5 363.8C390.2 364.4 390.1 366.9 389.5 367.5C388.9 368.1 386.7 368.1 386.0 367.5C385.3 366.9 384.9 364.4 385.5 363.8Z"/>
<path fill="#50a5f5" d="M257.0 400.5C257.5 399.6 260.4 399.3 261.2 400.0C262.1 400.7 262.5 403.6 262.0 404.5C261.5 405.4 258.8 406.2 258.0 405.5C257.2 404.8 256.5 401.4 257.0 400.5Z"/>
<path fill="#ffffff" d="M665.0 565.0C666.0 563.6 671.0 562.7 672.5 563.8C674.0 564.8 674.8 569.8 673.8 571.2C672.7 572.7 667.7 573.3 666.2 572.2C664.8 571.2 664.0 566.4 665.0 565.0Z"/>
<path fill="#ffffff" d="M657.5 592.5C659.2 590.8 666.7 589.6 670.0 590.0C673.3 590.4 677.5 593.1 677.5 595.0C677.5 596.9 672.9 600.6 670.0 601.5C667.1 602.4 662.1 601.8 660.0 600.2C657.9 598.8 655.8 594.2 657.5 592.5Z"/>
<path fill="#ff6000" d="M340.0 457.5C342.5 457.1 346.7 462.9 350.0 465.0C353.3 467.1 356.2 467.5 360.0 470.0C363.8 472.5 370.0 475.8 372.5 480.0C375.0 484.2 375.4 490.8 375.0 495.0C374.6 499.2 372.5 504.2 370.0 505.0C367.5 505.8 363.3 502.5 360.0 500.0C356.7 497.5 353.3 493.3 350.0 490.0C346.7 486.7 342.5 483.8 340.0 480.0C337.5 476.2 335.0 471.2 335.0 467.5C335.0 463.8 337.5 457.9 340.0 457.5Z"/>
<path fill="#e11400" d="M210.0 191.2C210.4 189.6 212.9 188.7 217.5 187.5C222.1 186.3 230.0 184.9 237.5 184.0C245.0 183.1 254.2 182.5 262.5 182.2C270.8 182.0 280.0 182.1 287.5 182.2C295.0 182.4 302.5 182.1 307.5 183.2C312.5 184.4 314.6 187.4 317.5 189.0C320.4 190.6 322.1 191.9 325.0 192.8C327.9 193.6 333.3 193.2 335.0 194.0C336.7 194.8 336.7 196.7 335.0 197.5C333.3 198.3 329.6 198.2 325.0 199.0C320.4 199.8 312.1 200.0 307.5 202.5C302.9 205.0 302.9 212.3 297.5 213.8C292.1 215.2 282.9 210.4 275.0 211.2C267.1 212.1 256.2 217.3 250.0 218.8C243.8 220.2 240.8 221.0 237.5 220.0C234.2 219.0 232.5 215.2 230.0 212.5C227.5 209.8 225.0 206.2 222.5 203.8C220.0 201.2 217.1 199.6 215.0 197.5C212.9 195.4 209.6 192.9 210.0 191.2Z"/>
<path fill="#e11400" d="M237.5 175.5C237.5 174.6 244.2 173.2 250.0 172.8C255.8 172.2 266.9 172.1 272.5 172.5C278.1 172.9 283.3 174.1 283.8 175.0C284.2 175.9 280.6 177.5 275.0 178.0C269.4 178.5 256.2 178.4 250.0 178.0C243.8 177.6 237.5 176.4 237.5 175.5Z"/>
<path fill="#2882f0" d="M200.0 178.8C201.2 178.3 205.8 178.0 207.5 178.2C209.2 178.5 211.2 180.0 210.0 180.5C208.8 181.0 201.7 181.3 200.0 181.0C198.3 180.7 198.8 179.2 200.0 178.8Z"/>
<path fill="#2882f0" d="M325.0 183.8C326.0 182.7 331.7 181.5 335.0 181.2C338.3 181.0 343.3 181.5 345.0 182.5C346.7 183.5 346.5 186.2 345.0 187.5C343.5 188.8 339.0 190.0 336.2 190.0C333.5 190.0 330.6 188.5 328.8 187.5C326.9 186.5 324.0 184.8 325.0 183.8Z"/>
<path fill="#2882f0" d="M406.2 195.0C407.3 194.3 413.5 193.3 417.5 193.0C421.5 192.7 428.8 192.3 430.0 193.0C431.2 193.7 428.1 196.3 425.0 197.0C421.9 197.7 414.4 197.3 411.2 197.0C408.1 196.7 405.2 195.7 406.2 195.0Z"/>
<path fill="#e11400" d="M433.8 197.5C434.2 196.8 439.4 195.6 441.2 195.5C443.1 195.4 445.4 196.3 445.0 197.0C444.6 197.7 440.6 199.4 438.8 199.5C436.9 199.6 433.3 198.2 433.8 197.5Z"/>
<path fill="#e11400" d="M212.0 286.2C212.4 285.4 214.4 284.9 215.0 285.5C215.6 286.1 215.9 289.2 215.5 290.0C215.1 290.8 213.1 291.1 212.5 290.5C211.9 289.9 211.6 287.1 212.0 286.2Z"/>
<path fill="#e11400" d="M228.0 292.0C228.4 291.4 230.6 291.2 231.2 291.8C231.9 292.2 232.4 294.4 232.0 295.0C231.6 295.6 229.4 296.0 228.8 295.5C228.1 295.0 227.6 292.6 228.0 292.0Z"/>
<path fill="#e11400" d="M200.0 307.5C200.4 306.2 203.0 308.5 203.8 310.0C204.5 311.5 204.9 314.9 204.5 316.2C204.1 317.6 202.0 319.5 201.2 318.0C200.5 316.5 199.6 308.8 200.0 307.5Z"/>
<path fill="#2882f0" d="M223.8 347.5C223.7 345.4 225.9 347.5 227.0 350.0C228.1 352.5 230.4 360.4 230.5 362.5C230.6 364.6 228.6 365.0 227.5 362.5C226.4 360.0 223.8 349.6 223.8 347.5Z"/>
<path fill="#e11400" d="M412.5 300.0C413.0 299.4 415.0 299.4 415.5 300.0C416.0 300.6 416.0 303.1 415.5 303.8C415.0 304.4 413.0 304.4 412.5 303.8C412.0 303.1 412.0 300.6 412.5 300.0Z"/>
<path fill="#2882f0" d="M500.0 207.5C500.8 206.6 506.7 206.0 510.0 206.2C513.3 206.5 518.5 207.8 520.0 208.8C521.5 209.7 521.2 211.3 518.8 211.8C516.2 212.2 508.1 212.2 505.0 211.5C501.9 210.8 499.2 208.4 500.0 207.5Z"/>
<path fill="#e11400" d="M553.8 212.5C554.4 211.5 556.9 209.8 560.0 208.8C563.1 207.7 568.8 206.7 572.5 206.2C576.2 205.8 581.5 205.2 582.5 206.2C583.5 207.3 580.4 210.9 578.8 212.5C577.1 214.1 575.2 215.1 572.5 215.8C569.8 216.4 565.2 216.6 562.5 216.5C559.8 216.4 557.7 215.7 556.2 215.0C554.8 214.3 553.1 213.5 553.8 212.5Z"/>
<path fill="#e11400" d="M572.2 227.5C572.8 225.0 575.0 225.0 575.8 227.5C576.5 230.0 577.0 240.0 576.5 242.5C576.0 245.0 573.2 245.0 572.5 242.5C571.8 240.0 571.7 230.0 572.2 227.5Z"/>
<path fill="#e11400" d="M462.5 245.0C464.4 244.4 472.1 244.0 475.0 244.0C477.9 244.0 480.0 244.5 480.0 245.0C480.0 245.5 477.7 246.8 475.0 247.2C472.3 247.7 465.8 248.1 463.8 247.8C461.7 247.4 460.6 245.6 462.5 245.0Z"/>
<path fill="#e11400" d="M506.2 248.8C506.9 247.7 510.4 246.0 511.2 246.2C512.1 246.5 511.9 249.0 511.2 250.0C510.6 251.0 508.3 252.7 507.5 252.5C506.7 252.3 505.6 249.8 506.2 248.8Z"/>
<path fill="#e11400" d="M463.0 297.5C463.8 295.2 465.5 294.2 467.5 293.8C469.5 293.2 473.5 293.5 475.0 294.5C476.5 295.5 476.7 297.2 476.5 300.0C476.3 302.8 474.8 308.0 473.8 311.2C472.7 314.5 471.5 318.7 470.0 319.8C468.5 320.8 465.8 319.8 464.5 317.8C463.2 315.7 462.8 310.9 462.5 307.5C462.2 304.1 462.2 299.8 463.0 297.5Z"/>
<path fill="#2882f0" d="M480.5 297.5C481.1 295.2 483.9 295.1 485.0 295.5C486.1 295.9 487.0 297.8 487.0 300.0C487.0 302.2 486.2 307.2 485.2 308.8C484.3 310.2 482.3 310.9 481.5 309.0C480.7 307.1 479.9 299.8 480.5 297.5Z"/>
<path fill="#e11400" d="M422.5 347.5C423.8 345.0 425.0 341.9 427.5 340.0C430.0 338.1 434.6 337.3 437.5 336.2C440.4 335.2 442.5 334.0 445.0 333.8C447.5 333.5 450.4 334.0 452.5 335.0C454.6 336.0 455.4 340.2 457.5 340.0C459.6 339.8 462.1 335.2 465.0 333.8C467.9 332.3 472.1 331.2 475.0 331.2C477.9 331.2 480.0 332.9 482.5 333.8C485.0 334.6 487.5 337.3 490.0 336.2C492.5 335.2 495.0 329.4 497.5 327.5C500.0 325.6 502.1 324.8 505.0 325.0C507.9 325.2 511.7 328.5 515.0 328.8C518.3 329.0 521.7 328.1 525.0 326.2C528.3 324.4 532.5 319.6 535.0 317.5C537.5 315.4 539.0 313.3 540.0 313.8C541.0 314.2 542.1 317.3 541.2 320.0C540.4 322.7 537.7 327.3 535.0 330.0C532.3 332.7 529.2 334.4 525.0 336.2C520.8 338.1 515.8 340.2 510.0 341.2C504.2 342.3 496.2 342.1 490.0 342.5C483.8 342.9 477.1 343.1 472.5 343.8C467.9 344.4 466.2 345.4 462.5 346.2C458.8 347.1 454.2 347.3 450.0 348.8C445.8 350.2 441.7 353.1 437.5 355.0C433.3 356.9 427.9 360.0 425.0 360.0C422.1 360.0 420.4 357.1 420.0 355.0C419.6 352.9 421.2 350.0 422.5 347.5Z"/>
<path fill="#2882f0" d="M505.0 362.5C506.7 360.6 512.9 360.0 517.5 358.8C522.1 357.5 528.8 355.6 532.5 355.0C536.2 354.4 539.6 354.1 540.0 355.0C540.4 355.9 538.3 358.6 535.0 360.5C531.7 362.4 524.6 364.7 520.0 366.2C515.4 367.8 510.0 370.6 507.5 370.0C505.0 369.4 503.3 364.4 505.0 362.5Z"/>
<path fill="#2882f0" d="M575.0 329.5C576.9 327.4 582.5 325.0 586.2 323.8C590.0 322.5 595.0 321.2 597.5 321.8C600.0 322.2 601.7 324.8 601.2 326.8C600.8 328.8 597.9 331.8 595.0 333.8C592.1 335.8 587.1 338.3 583.8 338.8C580.4 339.2 576.5 338.0 575.0 336.5C573.5 335.0 573.1 331.6 575.0 329.5Z"/>
<path fill="#2882f0" d="M525.0 472.5C525.8 470.2 531.7 470.4 535.0 471.2C538.3 472.1 542.5 474.8 545.0 477.5C547.5 480.2 550.8 485.2 550.0 487.5C549.2 489.8 543.3 491.7 540.0 491.2C536.7 490.8 532.5 488.1 530.0 485.0C527.5 481.9 524.2 474.8 525.0 472.5Z"/>
<path fill="#e11400" d="M592.5 268.8C592.5 266.2 597.5 261.7 600.0 258.8C602.5 255.8 604.2 252.9 607.5 251.2C610.8 249.6 615.4 249.8 620.0 248.8C624.6 247.7 630.8 245.0 635.0 245.0C639.2 245.0 640.8 245.4 645.0 248.8C649.2 252.1 655.8 259.8 660.0 265.0C664.2 270.2 668.1 274.6 670.0 280.0C671.9 285.4 672.1 292.9 671.2 297.5C670.4 302.1 667.7 305.2 665.0 307.5C662.3 309.8 658.3 310.2 655.0 311.2C651.7 312.3 648.3 312.9 645.0 313.8C641.7 314.6 638.8 316.2 635.0 316.2C631.2 316.2 626.0 315.2 622.5 313.8C619.0 312.3 615.6 310.6 613.8 307.5C611.9 304.4 612.3 299.2 611.2 295.0C610.2 290.8 609.4 286.0 607.5 282.5C605.6 279.0 602.5 276.0 600.0 273.8C597.5 271.5 592.5 271.2 592.5 268.8Z"/>
<path fill="#e11400" d="M550.0 250.0C551.7 247.7 555.8 247.5 560.0 246.2C564.2 245.0 569.2 242.9 575.0 242.5C580.8 242.1 589.6 242.3 595.0 243.8C600.4 245.2 606.7 248.8 607.5 251.2C608.3 253.8 602.5 255.8 600.0 258.8C597.5 261.7 595.4 267.6 592.5 268.8C589.6 269.9 586.2 266.5 582.5 265.5C578.8 264.5 573.8 263.6 570.0 263.0C566.2 262.4 563.3 262.2 560.0 261.8C556.7 261.2 551.7 262.0 550.0 260.0C548.3 258.0 548.3 252.3 550.0 250.0Z"/>
<path fill="#e11400" d="M671.2 297.5C672.9 298.3 674.8 309.6 677.5 315.0C680.2 320.4 683.8 324.2 687.5 330.0C691.2 335.8 696.2 344.6 700.0 350.0C703.8 355.4 705.0 358.3 710.0 362.5C715.0 366.7 723.3 371.2 730.0 375.0C736.7 378.8 744.2 380.8 750.0 385.0C755.8 389.2 760.8 396.2 765.0 400.0C769.2 403.8 772.9 405.8 775.0 407.5C777.1 409.2 777.5 406.2 777.5 410.0C777.5 413.8 774.6 422.5 775.0 430.0C775.4 437.5 779.0 447.9 780.0 455.0C781.0 462.1 782.1 469.8 781.2 472.5C780.4 475.2 777.3 472.9 775.0 471.2C772.7 469.6 770.8 465.6 767.5 462.5C764.2 459.4 759.6 454.8 755.0 452.5C750.4 450.2 745.8 449.7 740.0 448.8C734.2 447.8 726.7 447.7 720.0 447.0C713.3 446.3 707.1 445.7 700.0 444.5C692.9 443.3 684.2 441.6 677.5 440.0C670.8 438.4 667.1 436.3 660.0 435.0C652.9 433.7 643.3 432.8 635.0 432.0C626.7 431.2 618.3 430.1 610.0 430.0C601.7 429.9 593.3 430.8 585.0 431.2C576.7 431.7 566.7 431.7 560.0 432.5C553.3 433.3 549.6 436.2 545.0 436.2C540.4 436.2 535.6 434.4 532.5 432.5C529.4 430.6 525.8 427.7 526.2 425.0C526.7 422.3 531.9 418.8 535.0 416.2C538.1 413.8 540.8 411.9 545.0 410.0C549.2 408.1 555.0 406.5 560.0 405.0C565.0 403.5 570.0 402.5 575.0 401.2C580.0 400.0 584.6 397.9 590.0 397.5C595.4 397.1 601.7 398.8 607.5 398.8C613.3 398.8 622.0 401.5 625.0 397.5C628.0 393.5 624.2 380.2 625.5 375.0C626.8 369.8 629.0 370.0 632.5 366.2C636.0 362.5 642.1 356.9 646.2 352.5C650.4 348.1 654.8 344.6 657.5 340.0C660.2 335.4 660.8 330.0 662.5 325.0C664.2 320.0 666.0 314.6 667.5 310.0C669.0 305.4 669.6 296.7 671.2 297.5Z"/>
<path fill="#e11400" d="M736.2 241.2C736.9 239.8 739.2 237.7 741.2 236.2C743.3 234.8 746.2 233.2 748.8 232.5C751.2 231.8 755.2 231.2 756.2 232.0C757.3 232.8 756.2 235.5 755.0 237.5C753.8 239.5 750.8 242.3 748.8 243.8C746.7 245.2 744.4 246.0 742.5 246.2C740.6 246.5 738.5 245.8 737.5 245.0C736.5 244.2 735.6 242.7 736.2 241.2Z"/>
<path fill="#2882f0" d="M766.2 237.5C767.0 235.0 769.0 234.6 770.0 235.0C771.0 235.4 772.4 237.5 772.5 240.0C772.6 242.5 771.1 246.5 770.5 250.0C769.9 253.5 769.5 259.4 768.8 261.2C768.0 263.1 766.8 263.1 766.2 261.2C765.7 259.4 765.5 254.0 765.5 250.0C765.5 246.0 765.5 240.0 766.2 237.5Z"/>
<path fill="#e11400" d="M765.0 213.0C765.8 212.0 769.6 211.4 771.2 211.5C772.9 211.6 774.6 212.7 775.0 213.8C775.4 214.8 775.2 217.4 773.8 218.0C772.3 218.6 767.7 218.3 766.2 217.5C764.8 216.7 764.2 214.0 765.0 213.0Z"/>
<path fill="#e11400" d="M632.5 207.5C632.5 206.5 635.4 204.8 640.0 203.8C644.6 202.7 655.8 201.0 660.0 201.2C664.2 201.5 665.8 203.8 665.0 205.0C664.2 206.2 659.2 207.9 655.0 208.8C650.8 209.6 643.8 210.2 640.0 210.0C636.2 209.8 632.5 208.5 632.5 207.5Z"/>
<path fill="#e11400" d="M777.5 306.2C777.9 304.2 782.1 301.9 785.0 300.0C787.9 298.1 791.7 296.9 795.0 295.0C798.3 293.1 801.7 290.2 805.0 288.8C808.3 287.3 811.7 286.5 815.0 286.2C818.3 286.0 822.3 286.5 825.0 287.5C827.7 288.5 829.8 290.4 831.2 292.5C832.7 294.6 834.4 297.9 833.8 300.0C833.1 302.1 829.8 303.3 827.5 305.0C825.2 306.7 822.9 308.8 820.0 310.0C817.1 311.2 813.3 311.9 810.0 312.5C806.7 313.1 803.3 313.8 800.0 313.8C796.7 313.8 792.9 312.7 790.0 312.5C787.1 312.3 784.6 313.5 782.5 312.5C780.4 311.5 777.1 308.3 777.5 306.2Z"/>
<path fill="#e11400" d="M770.0 532.5C770.8 530.0 773.1 527.1 775.0 527.5C776.9 527.9 780.4 530.4 781.5 535.0C782.6 539.6 782.2 550.0 781.5 555.0C780.8 560.0 779.0 565.2 777.5 565.2C776.0 565.2 773.8 558.8 772.5 555.0C771.2 551.2 770.4 546.2 770.0 542.5C769.6 538.8 769.2 535.0 770.0 532.5Z"/>
<path fill="#e11400" d="M605.0 580.0C606.7 576.7 612.5 575.4 617.5 575.0C622.5 574.6 630.8 575.8 635.0 577.5C639.2 579.2 641.7 582.1 642.5 585.0C643.3 587.9 645.8 593.3 640.0 595.0C634.2 596.7 613.3 597.5 607.5 595.0C601.7 592.5 603.3 583.3 605.0 580.0Z"/>
<path fill="#e11400" d="M570.0 582.5C571.7 580.3 577.5 579.2 580.0 580.0C582.5 580.8 585.4 585.0 585.0 587.5C584.6 590.0 580.0 594.1 577.5 595.0C575.0 595.9 571.2 595.1 570.0 593.0C568.8 590.9 568.3 584.7 570.0 582.5Z"/>
<path fill="#2882f0" d="M803.6 206.7C804.7 202.4 809.8 202.4 812.4 202.4C814.9 202.4 817.1 204.5 818.9 206.7C820.7 208.9 822.2 212.2 823.3 215.5C824.4 218.7 824.0 222.7 825.5 226.4C826.9 230.0 828.4 234.6 832.0 237.3C835.6 240.0 842.9 244.2 847.3 242.7C851.6 241.3 854.2 232.0 858.2 228.6C862.2 225.1 866.6 224.2 871.3 222.0C876.0 219.8 882.2 217.6 886.6 215.5C890.9 213.3 894.6 210.4 897.5 208.9C900.4 207.5 902.2 205.6 904.0 206.7C905.8 207.8 907.3 212.2 908.4 215.5C909.5 218.7 909.1 223.3 910.6 226.4C912.0 229.5 913.5 232.4 917.1 234.0C920.7 235.6 927.6 236.0 932.4 236.2C937.1 236.4 942.2 234.6 945.5 235.1C948.7 235.6 949.8 236.9 952.0 239.5C954.2 242.0 957.7 247.3 958.6 250.4C959.5 253.5 959.3 255.8 957.5 258.0C955.7 260.2 951.5 261.8 947.7 263.5C943.8 265.1 938.2 266.4 934.6 267.8C930.9 269.3 928.7 271.8 925.8 272.2C922.9 272.6 920.0 270.7 917.1 270.0C914.2 269.3 910.9 270.0 908.4 267.8C905.8 265.6 904.0 259.1 901.8 256.9C899.6 254.7 897.1 253.6 895.3 254.7C893.5 255.8 893.1 261.3 890.9 263.5C888.7 265.6 885.8 266.9 882.2 267.8C878.6 268.7 873.5 269.6 869.1 268.9C864.7 268.2 859.6 263.6 856.0 263.5C852.4 263.3 849.8 267.8 847.3 267.8C844.7 267.8 842.6 265.6 840.7 263.5C838.9 261.3 837.8 256.9 836.4 254.7C834.9 252.6 833.8 251.5 832.0 250.4C830.2 249.3 828.0 248.9 825.5 248.2C822.9 247.5 819.1 247.5 816.7 246.0C814.4 244.6 813.1 242.4 811.3 239.5C809.5 236.6 807.1 234.0 805.8 228.6C804.5 223.1 802.5 211.1 803.6 206.7Z"/>
<path fill="#e11400" d="M941.1 184.9C942.2 183.8 948.0 182.0 952.0 181.0C956.0 180.0 960.7 179.4 965.1 179.0C969.5 178.7 974.6 178.2 978.2 178.8C981.8 179.4 987.3 181.9 986.9 182.7C986.6 183.6 979.7 183.5 976.0 183.8C972.4 184.2 968.7 184.4 965.1 184.9C961.5 185.5 957.5 186.7 954.2 187.1C950.9 187.5 947.7 187.9 945.5 187.5C943.3 187.2 940.0 186.0 941.1 184.9Z"/>
<path fill="#e11400" d="M984.7 186.0C985.8 184.8 990.1 184.3 991.3 185.3C992.5 186.4 992.7 191.3 991.7 192.5C990.7 193.7 986.3 193.6 985.2 192.5C984.0 191.5 983.7 187.2 984.7 186.0Z"/>
<path fill="#e11400" d="M767.6 193.6C767.6 192.5 770.7 190.3 773.1 189.3C775.5 188.3 778.9 187.5 781.8 187.5C784.7 187.6 788.7 188.7 790.5 189.7C792.4 190.7 793.8 192.7 792.7 193.6C791.6 194.6 787.3 194.9 784.0 195.4C780.7 195.8 775.8 196.5 773.1 196.3C770.4 196.0 767.6 194.8 767.6 193.6Z"/>
<path fill="#e11400" d="M761.1 212.8C762.3 212.0 766.7 212.0 768.3 212.4C769.9 212.8 771.2 214.6 770.9 215.5C770.6 216.3 768.2 217.4 766.5 217.6C764.9 217.9 762.0 218.0 761.1 217.2C760.2 216.4 759.9 213.6 761.1 212.8Z"/>
<path fill="#e11400" d="M802.5 279.8C802.8 278.9 805.3 278.3 806.3 278.7C807.2 279.1 808.7 281.3 808.4 282.2C808.2 283.1 805.7 284.6 804.7 284.2C803.7 283.8 802.3 280.7 802.5 279.8Z"/>
<path fill="#e11400" d="M773.1 307.1C773.8 304.7 778.5 300.9 781.8 298.4C785.1 295.8 789.1 293.3 792.7 291.8C796.4 290.4 799.6 290.4 803.6 289.6C807.6 288.8 812.4 287.7 816.7 287.0C821.1 286.4 824.7 285.8 829.8 285.7C834.9 285.6 843.3 285.4 847.3 286.4C851.3 287.4 852.4 290.9 853.8 291.8C855.3 292.7 854.2 292.7 856.0 291.8C857.8 290.9 861.5 287.8 864.7 286.4C868.0 284.9 872.7 282.6 875.6 283.1C878.6 283.6 880.9 286.7 882.2 289.6C883.5 292.6 884.0 296.9 883.3 300.6C882.6 304.2 880.2 308.9 877.8 311.5C875.5 314.0 871.6 315.6 869.1 315.8C866.6 316.0 864.7 312.6 862.6 312.6C860.4 312.6 858.6 315.6 856.0 315.8C853.5 316.0 850.6 314.2 847.3 313.6C844.0 313.1 840.0 312.6 836.4 312.6C832.7 312.6 829.1 313.8 825.5 313.6C821.8 313.5 818.2 311.6 814.5 311.5C810.9 311.3 807.3 311.8 803.6 312.6C800.0 313.3 796.0 316.0 792.7 315.8C789.5 315.6 786.5 312.0 784.0 311.5C781.5 310.9 779.3 313.3 777.5 312.6C775.6 311.8 772.4 309.5 773.1 307.1Z"/>
<path fill="#e11400" d="M957.5 295.1C958.4 293.8 962.4 291.6 964.0 291.8C965.7 292.0 967.5 294.7 967.3 296.2C967.1 297.6 964.4 300.0 962.9 300.6C961.5 301.1 959.5 300.4 958.6 299.5C957.7 298.6 956.6 296.4 957.5 295.1Z"/>
<path fill="#2882f0" d="M811.3 385.5C811.5 383.1 814.4 382.6 816.7 382.2C819.1 381.8 822.6 382.4 825.5 383.3C828.4 384.2 833.1 385.8 834.2 387.6C835.3 389.5 833.8 392.2 832.0 394.2C830.2 396.2 826.0 399.5 823.3 399.9C820.5 400.2 817.6 398.8 815.6 396.4C813.6 394.0 811.1 387.8 811.3 385.5Z"/>
<path fill="#2882f0" d="M875.6 366.9C876.6 365.2 881.1 364.5 882.2 365.8C883.3 367.1 883.1 372.9 882.2 374.5C881.3 376.2 877.8 377.1 876.7 375.9C875.6 374.6 874.7 368.6 875.6 366.9Z"/>
<path fill="#e11400" d="M902.9 374.5C903.1 371.6 905.0 369.5 905.8 370.2C906.5 370.9 906.9 376.0 907.3 378.9C907.6 381.8 908.4 386.2 907.9 387.6C907.5 389.1 905.3 389.8 904.4 387.6C903.6 385.5 902.7 377.5 902.9 374.5Z"/>
<path fill="#2882f0" d="M866.9 424.7C867.8 423.5 871.6 421.4 875.6 420.8C879.6 420.3 885.5 421.2 890.9 421.5C896.4 421.8 902.6 422.2 908.4 422.6C914.2 422.9 920.0 423.7 925.8 423.6C931.6 423.6 938.2 422.6 943.3 422.1C948.4 421.6 953.1 420.7 956.4 420.8C959.7 420.9 961.5 421.2 962.9 422.6C964.4 423.9 964.4 426.6 965.1 429.1C965.8 431.6 967.5 436.7 967.3 437.8C967.1 438.9 965.8 436.9 964.0 435.6C962.2 434.4 959.8 431.3 956.4 430.2C952.9 429.1 948.4 428.9 943.3 429.1C938.2 429.3 931.6 430.6 925.8 431.3C920.0 432.0 914.2 433.4 908.4 433.5C902.6 433.5 896.0 432.3 890.9 431.7C885.8 431.2 881.3 430.8 877.8 430.2C874.4 429.6 872.0 428.9 870.2 428.0C868.4 427.1 866.0 425.9 866.9 424.7Z"/>
<path fill="#e11400" d="M837.5 502.2C838.4 500.7 841.3 498.7 842.9 498.9C844.6 499.1 846.9 501.8 847.3 503.3C847.6 504.7 846.7 506.9 845.1 507.7C843.5 508.4 838.7 508.6 837.5 507.7C836.2 506.7 836.6 503.6 837.5 502.2Z"/>
<path fill="#e11400" d="M815.6 545.5C816.2 543.3 818.7 540.4 821.1 536.7C823.5 533.1 827.1 528.4 829.8 523.6C832.6 518.9 835.5 511.6 837.5 508.4C839.5 505.1 840.7 503.6 841.8 504.0C842.9 504.4 844.6 507.3 844.0 510.5C843.5 513.8 840.2 519.6 838.6 523.6C836.9 527.6 835.6 531.3 834.2 534.5C832.7 537.8 831.6 540.7 829.8 543.3C828.0 545.8 825.3 548.7 823.3 549.8C821.3 550.9 819.1 550.6 817.8 549.8C816.5 549.1 815.1 547.6 815.6 545.5Z"/>
<path fill="#e11400" d="M840.7 523.6C841.5 521.1 845.5 520.0 847.3 521.5C849.1 522.9 849.5 529.5 851.6 532.4C853.8 535.3 857.1 536.7 860.4 538.9C863.6 541.1 869.1 543.3 871.3 545.5C873.5 547.6 874.6 551.3 873.5 552.0C872.4 552.7 867.6 550.9 864.7 549.8C861.8 548.7 858.9 546.2 856.0 545.5C853.1 544.7 849.5 546.9 847.3 545.5C845.1 544.0 844.0 540.4 842.9 536.7C841.8 533.1 840.0 526.2 840.7 523.6Z"/>
<path fill="#e11400" d="M821.1 558.6C822.2 556.6 825.3 554.6 827.6 554.2C830.0 553.8 833.6 554.6 835.3 556.4C836.9 558.2 837.8 562.4 837.5 565.1C837.1 567.8 835.1 571.6 833.1 572.7C831.1 573.8 827.5 572.7 825.5 571.6C823.5 570.6 821.8 568.4 821.1 566.2C820.4 564.0 820.0 560.6 821.1 558.6Z"/>
<path fill="#e11400" d="M884.4 543.3C885.6 542.6 890.2 542.2 893.1 543.3C896.0 544.4 900.7 548.0 901.8 549.8C902.9 551.6 901.5 553.8 899.6 554.2C897.8 554.6 893.3 553.1 890.9 552.0C888.6 550.9 886.6 549.1 885.5 547.6C884.4 546.2 883.1 544.0 884.4 543.3Z"/>
<path fill="#e11400" d="M969.5 554.2C970.0 551.8 974.9 549.8 978.2 548.7C981.5 547.6 985.1 547.8 989.1 547.6C993.1 547.5 1000.0 544.4 1002.2 547.6C1004.4 550.9 1004.0 563.6 1002.2 567.3C1000.4 570.9 994.6 569.5 991.3 569.5C988.0 569.5 985.3 568.4 982.6 567.3C979.8 566.2 977.1 565.1 974.9 562.9C972.7 560.7 968.9 556.6 969.5 554.2Z"/>
<path fill="#e11400" d="M904.0 531.3C904.6 529.9 909.1 527.6 910.6 528.0C912.0 528.4 913.3 532.1 912.7 533.5C912.2 534.8 908.7 536.7 907.3 536.3C905.8 535.9 903.5 532.7 904.0 531.3Z"/>
<path fill="#e11400" d="M942.2 526.9C942.7 525.5 945.6 524.5 946.6 525.8C947.5 527.1 948.2 533.1 947.7 534.5C947.1 536.0 944.2 535.8 943.3 534.5C942.4 533.3 941.6 528.4 942.2 526.9Z"/>
<path fill="#e11400" d="M860.4 567.3C861.6 566.3 867.5 566.1 869.1 566.8C870.7 567.6 871.5 570.7 870.2 571.6C868.9 572.6 863.1 573.5 861.5 572.7C859.8 572.0 859.1 568.3 860.4 567.3Z"/>
<path fill="#e11400" d="M261.2 380.0C263.3 375.8 269.0 370.0 272.5 367.5C276.0 365.0 278.8 363.8 282.5 365.0C286.2 366.2 292.3 371.2 295.0 375.0C297.7 378.8 298.8 384.2 298.8 387.5C298.8 390.8 297.3 394.0 295.0 395.0C292.7 396.0 288.3 393.1 285.0 393.8C281.7 394.4 278.1 397.7 275.0 398.8C271.9 399.8 268.8 401.0 266.2 400.0C263.8 399.0 260.8 395.8 260.0 392.5C259.2 389.2 259.2 384.2 261.2 380.0Z"/>
<path fill="#e11400" d="M251.2 452.5C252.1 450.4 257.3 447.5 260.0 445.0C262.7 442.5 265.4 440.4 267.5 437.5C269.6 434.6 269.6 429.6 272.5 427.5C275.4 425.4 280.8 425.2 285.0 425.0C289.2 424.8 294.2 423.8 297.5 426.2C300.8 428.8 302.9 436.0 305.0 440.0C307.1 444.0 307.9 446.7 310.0 450.0C312.1 453.3 315.4 455.8 317.5 460.0C319.6 464.2 322.1 470.8 322.5 475.0C322.9 479.2 322.1 483.8 320.0 485.0C317.9 486.2 312.9 482.1 310.0 482.5C307.1 482.9 305.0 487.5 302.5 487.5C300.0 487.5 297.1 485.0 295.0 482.5C292.9 480.0 292.1 475.4 290.0 472.5C287.9 469.6 285.4 467.1 282.5 465.0C279.6 462.9 275.8 460.8 272.5 460.0C269.2 459.2 265.4 460.4 262.5 460.0C259.6 459.6 256.9 458.8 255.0 457.5C253.1 456.2 250.4 454.6 251.2 452.5Z"/>
<path fill="#e11400" d="M330.0 402.5C329.8 398.8 332.5 395.0 335.0 392.5C337.5 390.0 341.2 389.2 345.0 387.5C348.8 385.8 354.6 382.5 357.5 382.5C360.4 382.5 361.7 384.2 362.5 387.5C363.3 390.8 363.8 398.8 362.5 402.5C361.2 406.2 357.9 407.9 355.0 410.0C352.1 412.1 348.1 414.2 345.0 415.0C341.9 415.8 338.8 417.1 336.2 415.0C333.8 412.9 330.2 406.2 330.0 402.5Z"/>
<path fill="#e11400" d="M297.5 525.0C298.3 520.8 301.7 517.1 305.0 515.0C308.3 512.9 314.2 511.7 317.5 512.5C320.8 513.3 322.1 520.0 325.0 520.0C327.9 520.0 331.2 514.2 335.0 512.5C338.8 510.8 343.3 509.6 347.5 510.0C351.7 510.4 356.2 512.5 360.0 515.0C363.8 517.5 366.7 522.5 370.0 525.0C373.3 527.5 377.5 527.5 380.0 530.0C382.5 532.5 385.8 537.1 385.0 540.0C384.2 542.9 379.2 545.0 375.0 547.5C370.8 550.0 371.7 553.8 360.0 555.0C348.3 556.2 315.0 557.5 305.0 555.0C295.0 552.5 301.2 545.0 300.0 540.0C298.8 535.0 296.7 529.2 297.5 525.0Z"/>
<path fill="#e11400" d="M227.5 490.0C229.0 487.9 235.0 485.8 237.5 487.5C240.0 489.2 242.5 497.1 242.5 500.0C242.5 502.9 239.8 505.0 237.5 505.0C235.2 505.0 230.4 502.5 228.8 500.0C227.1 497.5 226.0 492.1 227.5 490.0Z"/>
<path fill="#e11400" d="M375.0 398.8C375.8 396.5 382.1 396.9 385.0 393.8C387.9 390.6 390.0 384.4 392.5 380.0C395.0 375.6 397.5 371.2 400.0 367.5C402.5 363.8 405.4 358.8 407.5 357.5C409.6 356.2 411.9 356.7 412.5 360.0C413.1 363.3 411.7 371.9 411.2 377.5C410.8 383.1 411.9 389.6 410.0 393.8C408.1 397.9 403.3 400.6 400.0 402.5C396.7 404.4 393.3 404.2 390.0 405.0C386.7 405.8 382.5 408.5 380.0 407.5C377.5 406.5 374.2 401.0 375.0 398.8Z"/>
<path fill="#2882f0" d="M450.0 450.0C451.5 449.5 458.3 450.5 460.0 451.2C461.7 452.0 461.5 454.0 460.0 454.5C458.5 455.0 452.9 454.8 451.2 454.0C449.6 453.2 448.5 450.5 450.0 450.0Z"/>
<path fill="#e11400" d="M260.0 562.5C260.8 560.4 266.7 557.5 270.0 555.0C273.3 552.5 276.2 549.6 280.0 547.5C283.8 545.4 288.3 542.1 292.5 542.5C296.7 542.9 301.7 547.5 305.0 550.0C308.3 552.5 311.5 555.0 312.5 557.5C313.5 560.0 313.3 563.3 311.2 565.0C309.2 566.7 303.5 567.5 300.0 567.5C296.5 567.5 294.2 565.0 290.0 565.0C285.8 565.0 279.2 567.1 275.0 567.5C270.8 567.9 267.5 568.3 265.0 567.5C262.5 566.7 259.2 564.6 260.0 562.5Z"/>
<path fill="#e11400" d="M317.5 525.0C318.8 520.4 321.2 515.4 325.0 512.5C328.8 509.6 335.0 507.9 340.0 507.5C345.0 507.1 350.0 508.8 355.0 510.0C360.0 511.2 366.2 513.3 370.0 515.0C373.8 516.7 376.2 515.0 377.5 520.0C378.8 525.0 379.6 539.2 377.5 545.0C375.4 550.8 367.9 550.8 365.0 555.0C362.1 559.2 362.5 565.8 360.0 570.0C357.5 574.2 353.3 577.9 350.0 580.0C346.7 582.1 342.5 583.3 340.0 582.5C337.5 581.7 337.5 577.1 335.0 575.0C332.5 572.9 327.5 573.3 325.0 570.0C322.5 566.7 321.2 560.0 320.0 555.0C318.8 550.0 317.9 545.0 317.5 540.0C317.1 535.0 316.2 529.6 317.5 525.0Z"/>
<path fill="#e11400" d="M297.5 522.5C299.2 520.0 304.6 517.1 307.5 517.5C310.4 517.9 314.2 521.2 315.0 525.0C315.8 528.8 314.6 537.1 312.5 540.0C310.4 542.9 305.0 543.8 302.5 542.5C300.0 541.2 298.3 535.8 297.5 532.5C296.7 529.2 295.8 525.0 297.5 522.5Z"/>
<path fill="#e11400" d="M230.0 490.0C231.2 487.9 235.8 485.8 237.5 487.5C239.2 489.2 240.4 497.1 240.0 500.0C239.6 502.9 236.7 505.0 235.0 505.0C233.3 505.0 230.8 502.5 230.0 500.0C229.2 497.5 228.8 492.1 230.0 490.0Z"/>
<path fill="#e11400" d="M500.0 503.8C500.2 501.9 502.9 499.6 505.0 500.0C507.1 500.4 510.4 504.0 512.5 506.2C514.6 508.5 517.7 512.3 517.5 513.8C517.3 515.2 513.5 515.4 511.2 515.0C509.0 514.6 505.6 513.1 503.8 511.2C501.9 509.4 499.8 505.6 500.0 503.8Z"/>
<path fill="#e11400" d="M465.0 566.2C465.6 563.9 470.4 566.5 472.5 562.5C474.6 558.5 476.2 547.3 477.5 542.5C478.8 537.7 479.8 533.3 480.5 533.8C481.2 534.2 482.0 540.2 482.0 545.0C482.0 549.8 481.5 558.1 480.5 562.5C479.5 566.9 478.2 568.9 476.2 571.2C474.3 573.6 470.6 577.3 468.8 576.5C466.9 575.7 464.4 568.6 465.0 566.2Z"/>
<path fill="#e11400" d="M517.5 602.5C518.3 600.4 522.1 600.0 525.0 600.0C527.9 600.0 532.1 601.2 535.0 602.5C537.9 603.8 542.1 605.4 542.5 607.5C542.9 609.6 540.0 613.5 537.5 615.0C535.0 616.5 530.4 616.9 527.5 616.5C524.6 616.1 521.7 614.8 520.0 612.5C518.3 610.2 516.7 604.6 517.5 602.5Z"/>
<path fill="#e11400" d="M507.5 597.5C508.8 595.8 514.2 592.9 517.5 592.5C520.8 592.1 527.1 593.8 527.5 595.0C527.9 596.2 522.9 598.7 520.0 600.0C517.1 601.3 512.1 603.2 510.0 602.8C507.9 602.3 506.2 599.2 507.5 597.5Z"/>
<path fill="#e11400" d="M605.0 582.5C605.4 580.4 609.2 578.3 612.5 577.5C615.8 576.7 621.2 577.1 625.0 577.5C628.8 577.9 632.5 577.9 635.0 580.0C637.5 582.1 640.4 587.5 640.0 590.0C639.6 592.5 635.8 594.8 632.5 595.2C629.2 595.7 623.8 593.6 620.0 592.8C616.2 591.9 612.5 591.7 610.0 590.0C607.5 588.3 604.6 584.6 605.0 582.5Z"/>
<path fill="#e11400" d="M645.0 585.0C646.0 583.3 650.6 581.2 652.5 582.5C654.4 583.8 656.9 590.0 656.5 592.5C656.1 595.0 651.7 597.8 650.0 597.8C648.3 597.8 647.1 594.6 646.2 592.5C645.4 590.4 644.0 586.7 645.0 585.0Z"/>
<path fill="#e11400" d="M625.0 577.5C626.2 575.4 630.4 574.2 632.5 575.0C634.6 575.8 637.5 580.0 637.5 582.5C637.5 585.0 634.6 589.2 632.5 590.0C630.4 590.8 626.2 589.6 625.0 587.5C623.8 585.4 623.8 579.6 625.0 577.5Z"/>
<path fill="#e11400" d="M640.0 580.0C642.1 579.2 650.0 580.4 652.5 582.5C655.0 584.6 656.2 590.4 655.0 592.5C653.8 594.6 647.5 596.1 645.0 595.2C642.5 594.4 640.8 590.0 640.0 587.5C639.2 585.0 637.9 580.8 640.0 580.0Z"/>
<path fill="#e11400" d="M695.0 593.8C696.2 592.7 702.9 591.9 705.0 592.5C707.1 593.1 708.8 596.4 707.5 597.5C706.2 598.6 699.6 599.6 697.5 599.0C695.4 598.4 693.8 594.8 695.0 593.8Z"/>
<path fill="#e11400" d="M770.0 533.8C770.8 530.0 774.4 529.4 776.2 530.0C778.1 530.6 780.6 533.3 781.2 537.5C781.9 541.7 780.8 550.8 780.0 555.0C779.2 559.2 777.7 563.2 776.2 562.8C774.8 562.3 772.3 557.3 771.2 552.5C770.2 547.7 769.2 537.5 770.0 533.8Z"/>
<path fill="#e11400" d="M376.8 401.3C378.3 397.3 381.7 394.0 384.1 390.3C386.5 386.7 389.0 383.0 391.4 379.4C393.8 375.7 396.3 372.1 398.7 368.5C401.1 364.8 403.9 360.5 406.0 357.5C408.1 354.5 410.1 350.5 411.5 350.2C412.8 349.9 413.9 352.6 414.2 355.7C414.5 358.7 413.7 364.5 413.3 368.5C412.8 372.4 411.6 375.1 411.5 379.4C411.3 383.6 413.0 389.7 412.4 394.0C411.8 398.2 409.8 402.5 407.8 404.9C405.8 407.3 403.3 407.0 400.5 408.6C397.8 410.1 394.4 412.8 391.4 414.0C388.4 415.2 385.0 415.9 382.3 415.9C379.6 415.9 375.9 416.5 375.0 414.0C374.1 411.6 375.3 405.2 376.8 401.3Z"/>
<path fill="#e11400" d="M420.6 357.5C420.3 355.4 421.2 351.1 422.4 348.4C423.6 345.7 425.7 343.2 427.9 341.1C430.0 339.0 432.7 336.8 435.2 335.6C437.6 334.4 441.8 332.6 442.5 333.8C443.1 335.0 439.6 339.9 438.8 342.9C438.1 346.0 439.4 349.3 437.9 352.0C436.4 354.8 432.0 357.8 429.7 359.3C427.4 360.9 425.7 361.5 424.2 361.2C422.7 360.9 420.9 359.6 420.6 357.5Z"/>
<path fill="#e11400" d="M449.7 342.9C449.4 340.8 450.1 337.5 451.6 335.6C453.1 333.8 456.7 332.3 458.9 332.0C461.0 331.7 463.4 332.3 464.3 333.8C465.2 335.3 465.2 338.7 464.3 341.1C463.4 343.5 460.7 347.2 458.9 348.4C457.0 349.6 454.9 349.3 453.4 348.4C451.9 347.5 450.1 345.1 449.7 342.9Z"/>
<path fill="#e11400" d="M469.8 341.1C469.8 339.3 471.3 335.3 473.5 333.8C475.6 332.3 479.2 332.6 482.6 332.0C485.9 331.4 490.8 331.4 493.5 330.2C496.2 328.9 497.5 326.2 499.0 324.7C500.5 323.2 500.8 321.4 502.6 321.0C504.4 320.7 507.2 322.0 509.9 322.9C512.6 323.8 516.3 326.2 519.0 326.5C521.8 326.8 523.9 325.9 526.3 324.7C528.8 323.5 531.8 320.7 533.6 319.2C535.4 317.7 536.5 314.7 537.3 315.6C538.0 316.5 538.8 321.7 538.2 324.7C537.6 327.7 535.9 331.4 533.6 333.8C531.3 336.2 528.4 337.9 524.5 339.3C520.5 340.6 514.8 341.4 509.9 342.0C505.1 342.6 500.2 342.5 495.3 342.9C490.5 343.4 484.4 344.4 480.7 344.7C477.1 345.1 475.3 345.4 473.5 344.7C471.6 344.1 469.8 342.9 469.8 341.1Z"/>
<path fill="#e11400" d="M493.5 292.8C494.1 291.4 497.6 291.2 499.0 291.5C500.3 291.8 501.6 293.3 501.7 294.6C501.9 295.9 500.9 298.3 499.9 299.2C498.8 300.1 496.4 301.1 495.3 300.1C494.3 299.0 492.9 294.2 493.5 292.8Z"/>
<path fill="#2882f0" d="M439.7 299.2C440.5 297.8 444.4 295.8 446.1 295.5C447.8 295.2 449.6 296.1 449.7 297.3C449.9 298.6 448.4 301.7 447.0 302.8C445.6 303.9 442.8 304.5 441.5 303.9C440.3 303.3 439.0 300.6 439.7 299.2Z"/>
<path fill="#ff6000" d="M647.5 342.5C650.0 339.0 656.5 336.7 660.0 336.2C663.5 335.8 667.5 337.3 668.8 340.0C670.0 342.7 669.4 349.2 667.5 352.5C665.6 355.8 661.2 359.2 657.5 360.0C653.8 360.8 646.7 360.4 645.0 357.5C643.3 354.6 645.0 346.0 647.5 342.5Z"/>
<path fill="#ff6000" d="M676.2 386.2C676.7 384.2 677.7 382.3 680.0 380.0C682.3 377.7 686.7 374.6 690.0 372.5C693.3 370.4 696.7 367.5 700.0 367.5C703.3 367.5 707.3 370.0 710.0 372.5C712.7 375.0 715.8 379.6 716.2 382.5C716.7 385.4 714.8 389.0 712.5 390.0C710.2 391.0 705.4 388.3 702.5 388.8C699.6 389.2 697.9 391.7 695.0 392.5C692.1 393.3 687.9 393.8 685.0 393.8C682.1 393.8 679.0 393.8 677.5 392.5C676.0 391.2 675.8 388.3 676.2 386.2Z"/>
<path fill="#ff6000" d="M555.0 403.8C557.5 408.8 570.0 401.2 575.0 400.0C580.0 398.8 579.2 396.7 585.0 396.2C590.8 395.8 603.3 398.1 610.0 397.5C616.7 396.9 621.7 395.4 625.0 392.5C628.3 389.6 632.5 383.8 630.0 380.0C627.5 376.2 617.5 372.5 610.0 370.0C602.5 367.5 593.3 365.0 585.0 365.0C576.7 365.0 565.0 363.5 560.0 370.0C555.0 376.5 552.5 398.8 555.0 403.8Z"/>
<path fill="#b4f0fa" d="M825.5 247.1C826.1 246.2 828.7 245.5 829.8 246.0C831.0 246.5 832.5 248.8 832.4 249.9C832.4 251.1 830.5 252.7 829.4 253.0C828.3 253.2 826.6 252.4 825.9 251.5C825.2 250.5 824.8 248.0 825.5 247.1Z"/>
<path fill="#50a5f5" d="M896.4 258.0C898.0 256.4 901.6 254.9 904.0 255.8C906.4 256.7 909.8 260.7 910.6 263.5C911.3 266.2 910.2 270.6 908.4 272.2C906.6 273.8 902.0 274.4 899.6 273.3C897.3 272.2 894.7 268.2 894.2 265.6C893.6 263.1 894.7 259.6 896.4 258.0Z"/>
<path fill="#ff6000" d="M852.7 289.6C853.5 285.5 856.4 285.3 857.1 289.6C857.8 294.0 857.8 311.6 857.1 315.8C856.4 320.0 853.5 319.1 852.7 314.7C852.0 310.4 852.0 293.8 852.7 289.6Z"/>
<path fill="#ffe878" d="M285.0 495.0C286.9 492.9 295.0 490.8 297.5 492.5C300.0 494.2 300.8 501.7 300.0 505.0C299.2 508.3 294.8 512.5 292.5 512.5C290.2 512.5 287.5 507.9 286.2 505.0C285.0 502.1 283.1 497.1 285.0 495.0Z"/>
<path fill="#ffe878" d="M350.0 495.0C350.4 492.5 357.5 491.2 360.0 492.5C362.5 493.8 365.4 500.0 365.0 502.5C364.6 505.0 360.0 508.8 357.5 507.5C355.0 506.2 349.6 497.5 350.0 495.0Z"/>
<path fill="#ff6000" d="M309.2 519.1C311.6 517.1 315.8 515.2 317.4 517.4C319.1 519.6 319.6 528.1 319.1 532.2C318.5 536.3 316.3 541.0 314.1 542.1C311.9 543.2 307.8 541.0 305.9 538.8C304.0 536.6 302.0 532.2 302.6 528.9C303.1 525.6 306.7 521.0 309.2 519.1Z"/>
<path fill="#ff6000" d="M338.8 522.3C340.2 520.1 343.8 517.4 345.4 519.1C347.0 520.7 349.2 528.9 348.7 532.2C348.1 535.5 344.0 538.8 342.1 538.8C340.2 538.8 337.7 535.0 337.2 532.2C336.6 529.5 337.4 524.5 338.8 522.3Z"/>
<path fill="#ff6000" d="M355.3 532.2C356.9 530.0 362.7 527.8 365.2 528.9C367.6 530.0 370.7 536.1 370.1 538.8C369.6 541.6 364.3 544.9 361.9 545.4C359.4 546.0 356.4 544.3 355.3 542.1C354.2 539.9 353.6 534.4 355.3 532.2Z"/>
<path fill="#ffe878" d="M312.5 505.9C313.8 503.1 319.1 497.1 322.3 496.0C325.6 494.9 330.3 497.1 332.2 499.3C334.1 501.5 335.5 506.7 333.9 509.2C332.2 511.6 325.6 513.6 322.3 514.1C319.1 514.7 315.8 513.8 314.1 512.5C312.5 511.1 311.1 508.6 312.5 505.9Z"/>
<path fill="#ffe878" d="M337.2 553.6C338.7 552.0 343.5 550.6 345.4 552.0C347.3 553.4 349.2 559.4 348.7 561.9C348.1 564.3 344.2 566.8 342.1 566.8C340.0 566.8 337.2 564.1 336.3 561.9C335.5 559.7 335.7 555.3 337.2 553.6Z"/>
<path fill="#ffe878" d="M353.6 547.0C355.3 545.1 362.1 544.3 365.2 545.4C368.2 546.5 371.8 551.2 371.8 553.6C371.8 556.1 367.9 559.7 365.2 560.2C362.4 560.8 357.2 559.1 355.3 556.9C353.4 554.7 352.0 549.0 353.6 547.0Z"/>
<path fill="#ffe878" d="M678.8 386.2C679.5 384.6 681.9 381.7 683.8 381.2C685.6 380.8 689.8 382.1 690.0 383.8C690.2 385.4 686.8 390.0 685.0 391.2C683.2 392.5 680.5 392.1 679.5 391.2C678.5 390.4 678.0 387.9 678.8 386.2Z"/>
<path fill="#ffe878" d="M695.0 372.5C696.0 371.0 701.2 369.6 703.8 370.0C706.2 370.4 708.3 372.5 710.0 375.0C711.7 377.5 714.0 382.7 713.8 385.0C713.5 387.3 710.6 389.0 708.8 388.8C706.9 388.5 704.4 385.4 702.5 383.8C700.6 382.1 698.8 380.6 697.5 378.8C696.2 376.9 694.0 374.0 695.0 372.5Z"/>
<path fill="#ffffff" d="M335.0 547.5C336.7 545.8 344.6 547.9 347.5 550.0C350.4 552.1 352.9 557.5 352.5 560.0C352.1 562.5 347.5 565.0 345.0 565.0C342.5 565.0 339.2 562.9 337.5 560.0C335.8 557.1 333.3 549.2 335.0 547.5Z"/>
<path fill="#ffffff" d="M320.0 500.0C320.8 497.5 327.9 496.2 330.0 497.5C332.1 498.8 333.3 505.0 332.5 507.5C331.7 510.0 327.1 513.8 325.0 512.5C322.9 511.2 319.2 502.5 320.0 500.0Z"/>
<path fill="#ffffff" d="M315.0 557.5C315.6 556.0 319.0 555.2 320.0 556.2C321.0 557.3 321.9 562.3 321.2 563.8C320.6 565.2 317.3 566.0 316.2 565.0C315.2 564.0 314.4 559.0 315.0 557.5Z"/>
<path fill="#ffffff" d="M315.8 505.9C316.3 503.8 321.7 499.8 324.0 499.3C326.3 498.7 328.9 500.9 329.8 502.6C330.6 504.2 330.4 507.7 328.9 509.2C327.4 510.7 322.9 512.2 320.7 511.6C318.5 511.1 315.2 507.9 315.8 505.9Z"/>
<path fill="#ffffff" d="M338.8 556.1C339.4 554.7 343.3 554.1 344.6 555.0C345.8 555.8 346.8 559.6 346.2 561.0C345.7 562.5 342.5 564.3 341.3 563.5C340.0 562.7 338.3 557.5 338.8 556.1Z"/>
<path fill="#ffffff" d="M681.2 383.8C681.8 382.9 684.2 382.5 685.0 383.0C685.8 383.5 686.8 386.2 686.2 387.0C685.8 387.8 682.8 388.5 682.0 388.0C681.2 387.5 680.8 384.6 681.2 383.8Z"/>
<path fill="#ffffff" d="M706.2 382.5C706.9 381.5 710.2 381.2 711.2 382.0C712.3 382.8 713.1 386.0 712.5 387.0C711.9 388.0 708.5 388.8 707.5 388.0C706.5 387.2 705.6 383.5 706.2 382.5Z"/>
<path fill="#a50000" d="M245.0 200.0C246.0 197.5 247.9 195.0 250.0 193.8C252.1 192.5 255.0 192.5 257.5 192.5C260.0 192.5 263.5 192.7 265.0 193.8C266.5 194.8 267.1 197.1 266.2 198.8C265.4 200.4 261.7 201.9 260.0 203.8C258.3 205.6 257.3 207.9 256.2 210.0C255.2 212.1 255.6 215.0 253.8 216.2C251.9 217.5 246.7 218.8 245.0 217.5C243.3 216.2 243.8 211.7 243.8 208.8C243.8 205.8 244.0 202.5 245.0 200.0Z"/>
<path fill="#a50000" d="M285.0 197.5C288.8 195.4 294.6 192.1 300.0 191.2C305.4 190.4 312.5 191.7 317.5 192.5C322.5 193.3 328.8 195.0 330.0 196.2C331.2 197.5 328.8 199.2 325.0 200.0C321.2 200.8 312.1 199.6 307.5 201.2C302.9 202.9 300.8 208.3 297.5 210.0C294.2 211.7 291.2 211.2 287.5 211.2C283.8 211.2 276.7 211.2 275.0 210.0C273.3 208.8 275.8 205.8 277.5 203.8C279.2 201.7 281.2 199.6 285.0 197.5Z"/>
<path fill="#a50000" d="M257.5 174.0C259.6 173.5 269.6 173.2 272.5 173.5C275.4 173.8 277.1 175.2 275.0 175.8C272.9 176.2 262.9 176.8 260.0 176.5C257.1 176.2 255.4 174.5 257.5 174.0Z"/>
<path fill="#a50000" d="M464.5 298.8C465.3 297.0 467.2 295.9 468.8 295.5C470.3 295.1 473.0 295.1 474.0 296.2C475.0 297.4 475.2 299.8 474.8 302.5C474.3 305.2 472.7 310.6 471.2 312.5C469.8 314.4 467.5 315.0 466.2 314.0C465.0 313.0 464.3 308.8 464.0 306.2C463.7 303.7 463.7 300.5 464.5 298.8Z"/>
<path fill="#a50000" d="M618.0 261.2C619.0 258.8 622.2 257.7 625.0 257.5C627.8 257.3 631.7 259.2 635.0 260.0C638.3 260.8 641.9 260.4 645.0 262.5C648.1 264.6 652.1 268.8 653.8 272.5C655.4 276.2 655.6 281.0 655.0 285.0C654.4 289.0 652.5 293.8 650.0 296.2C647.5 298.8 642.9 299.2 640.0 300.0C637.1 300.8 634.4 302.5 632.5 301.2C630.6 300.0 630.2 295.6 628.8 292.5C627.3 289.4 625.4 285.8 623.8 282.5C622.1 279.2 619.7 276.0 618.8 272.5C617.8 269.0 617.0 263.8 618.0 261.2Z"/>
<path fill="#a50000" d="M581.2 246.2C582.9 245.1 591.5 244.1 593.8 244.5C596.0 244.9 596.7 247.6 595.0 248.8C593.3 249.9 586.0 251.7 583.8 251.2C581.5 250.8 579.6 247.4 581.2 246.2Z"/>
<path fill="#a50000" d="M673.8 317.5C674.8 315.8 677.3 317.1 680.0 320.0C682.7 322.9 686.7 330.0 690.0 335.0C693.3 340.0 697.5 345.8 700.0 350.0C702.5 354.2 705.0 357.5 705.0 360.0C705.0 362.5 702.5 363.3 700.0 365.0C697.5 366.7 692.9 368.3 690.0 370.0C687.1 371.7 684.6 374.6 682.5 375.0C680.4 375.4 678.5 375.0 677.5 372.5C676.5 370.0 676.2 364.6 676.2 360.0C676.2 355.4 677.9 350.0 677.5 345.0C677.1 340.0 674.4 334.6 673.8 330.0C673.1 325.4 672.7 319.2 673.8 317.5Z"/>
<path fill="#a50000" d="M562.5 423.8C563.3 422.5 568.8 420.9 572.5 420.5C576.2 420.1 582.1 420.6 585.0 421.2C587.9 421.9 590.8 423.4 590.0 424.5C589.2 425.6 583.8 427.4 580.0 428.0C576.2 428.6 570.4 428.7 567.5 428.0C564.6 427.3 561.7 425.0 562.5 423.8Z"/>
<path fill="#a50000" d="M680.0 423.8C681.2 422.3 685.8 419.9 690.0 418.8C694.2 417.6 699.6 417.2 705.0 417.0C710.4 416.8 716.7 417.2 722.5 417.5C728.3 417.8 734.2 418.1 740.0 418.8C745.8 419.4 753.3 419.4 757.5 421.2C761.7 423.1 763.3 426.5 765.0 430.0C766.7 433.5 766.2 438.3 767.5 442.5C768.8 446.7 771.2 451.2 772.5 455.0C773.8 458.8 775.4 463.8 775.0 465.0C774.6 466.2 772.5 464.6 770.0 462.5C767.5 460.4 763.3 455.4 760.0 452.5C756.7 449.6 754.2 447.3 750.0 445.0C745.8 442.7 740.0 440.2 735.0 438.8C730.0 437.3 725.0 437.1 720.0 436.2C715.0 435.4 710.0 434.8 705.0 433.8C700.0 432.7 693.8 431.0 690.0 430.0C686.2 429.0 684.2 428.5 682.5 427.5C680.8 426.5 678.8 425.2 680.0 423.8Z"/>
<path fill="#a50000" d="M785.0 301.2C785.8 299.4 791.2 298.0 795.0 296.2C798.8 294.5 803.8 291.6 807.5 290.5C811.2 289.4 814.6 289.2 817.5 289.5C820.4 289.8 823.3 291.0 825.0 292.5C826.7 294.0 828.3 296.9 827.5 298.8C826.7 300.6 822.9 302.7 820.0 303.8C817.1 304.8 813.3 304.6 810.0 305.0C806.7 305.4 803.3 305.8 800.0 306.2C796.7 306.7 792.5 308.3 790.0 307.5C787.5 306.7 784.2 303.1 785.0 301.2Z"/>
<path fill="#1e6ed7" d="M811.3 207.8C812.5 206.4 816.9 205.5 818.9 206.7C820.9 208.0 822.9 212.6 823.3 215.5C823.6 218.4 822.6 223.1 821.1 224.2C819.6 225.3 816.2 223.5 814.5 222.0C812.9 220.6 811.8 217.8 811.3 215.5C810.7 213.1 810.0 209.3 811.3 207.8Z"/>
<path fill="#a50000" d="M784.0 302.7C784.0 300.7 789.5 296.9 792.7 295.1C796.0 293.3 799.6 292.7 803.6 291.8C807.6 290.9 813.1 289.6 816.7 289.6C820.4 289.6 824.4 290.0 825.5 291.8C826.6 293.6 825.1 298.7 823.3 300.6C821.5 302.4 817.8 301.8 814.5 302.7C811.3 303.6 807.3 305.3 803.6 306.0C800.0 306.7 796.0 307.6 792.7 307.1C789.5 306.6 784.0 304.7 784.0 302.7Z"/>
<path fill="#a50000" d="M841.8 289.6C843.0 288.6 847.8 287.8 849.5 288.6C851.1 289.3 852.2 292.4 851.6 294.0C851.1 295.6 847.7 298.2 846.2 298.4C844.7 298.6 843.2 296.6 842.5 295.1C841.8 293.6 840.7 290.7 841.8 289.6Z"/>
<path fill="#1e6ed7" d="M904.0 426.9C904.7 425.8 909.5 424.6 912.7 424.3C916.0 424.0 921.5 424.4 923.6 425.2C925.8 426.0 926.9 428.0 925.8 429.1C924.7 430.2 920.0 431.6 917.1 431.9C914.2 432.3 910.6 432.1 908.4 431.3C906.2 430.4 903.3 428.1 904.0 426.9Z"/>
<path fill="#a50000" d="M980.4 555.3C981.1 553.6 985.1 551.8 986.9 552.0C988.7 552.2 990.9 554.6 991.3 556.4C991.7 558.2 990.6 562.0 989.1 562.9C987.7 563.8 984.0 563.1 982.6 561.8C981.1 560.6 979.7 556.9 980.4 555.3Z"/>
<path fill="#a50000" d="M817.8 545.5C817.8 543.8 820.9 540.4 822.2 540.0C823.5 539.6 825.5 541.6 825.5 543.3C825.5 544.9 823.5 549.5 822.2 549.8C820.9 550.2 817.8 547.1 817.8 545.5Z"/>
<path fill="#a50000" d="M279.5 444.5C280.5 443.9 284.5 443.9 285.5 444.5C286.5 445.1 286.5 447.4 285.5 448.0C284.5 448.6 280.5 448.6 279.5 448.0C278.5 447.4 278.5 445.1 279.5 444.5Z"/>
<path fill="#a50000" d="M261.2 393.8C262.0 392.9 264.8 392.9 265.5 393.8C266.2 394.6 266.2 398.1 265.5 399.0C264.8 399.9 262.0 399.9 261.2 399.0C260.5 398.1 260.5 394.6 261.2 393.8Z"/>
<path fill="#a50000" d="M275.0 552.5C276.2 550.8 281.2 551.0 285.0 551.2C288.8 551.5 293.3 552.7 297.5 553.8C301.7 554.8 307.7 555.8 310.0 557.5C312.3 559.2 312.9 562.5 311.2 563.8C309.6 565.0 304.0 565.2 300.0 565.0C296.0 564.8 291.2 563.1 287.5 562.5C283.8 561.9 279.6 562.9 277.5 561.2C275.4 559.6 273.8 554.2 275.0 552.5Z"/>
<path fill="#b4f0fa" d="M826.6 297.3C827.4 295.5 831.2 294.6 833.1 295.1C835.0 295.6 837.9 298.3 838.1 300.1C838.4 302.0 836.3 305.3 834.6 306.2C833.0 307.1 829.4 307.1 828.1 305.6C826.7 304.1 825.7 299.0 826.6 297.3Z"/>
<path fill="#ff6000" d="M272.5 203.8C274.0 202.0 278.5 198.5 282.5 196.2C286.5 194.0 293.7 190.4 296.2 190.0C298.8 189.6 299.5 192.1 298.0 193.8C296.5 195.4 290.5 198.3 287.5 200.0C284.5 201.7 282.3 202.7 280.0 203.8C277.7 204.8 275.0 206.5 273.8 206.5C272.5 206.5 271.0 205.5 272.5 203.8Z"/>
<path fill="#50a5f5" d="M828.1 298.4C828.7 297.2 831.7 296.3 833.1 296.6C834.5 297.0 836.3 299.2 836.4 300.6C836.5 301.9 834.9 303.9 833.8 304.5C832.6 305.0 830.3 304.8 829.4 303.8C828.4 302.8 827.5 299.6 828.1 298.4Z"/>
<path fill="#ffe878" d="M272.5 202.8C273.9 201.7 279.9 198.9 282.5 198.2C285.1 197.6 288.3 198.0 288.0 198.8C287.7 199.5 282.8 201.5 280.5 202.5C278.2 203.5 275.3 204.7 274.0 204.8C272.7 204.8 271.1 203.8 272.5 202.8Z"/>
<path fill="#785046" d="M251.2 208.8C252.7 207.1 258.1 206.9 260.0 207.5C261.9 208.1 262.7 211.0 262.5 212.5C262.3 214.0 260.6 215.4 258.8 216.2C256.9 217.1 252.5 218.8 251.2 217.5C250.0 216.2 249.8 210.4 251.2 208.8Z"/>
<path fill="#785046" d="M300.0 193.8C301.9 192.5 306.7 191.2 310.0 191.2C313.3 191.2 317.5 192.7 320.0 193.8C322.5 194.8 325.4 196.5 325.0 197.5C324.6 198.5 320.8 199.6 317.5 200.0C314.2 200.4 308.1 200.2 305.0 200.0C301.9 199.8 299.6 199.8 298.8 198.8C297.9 197.7 298.1 195.0 300.0 193.8Z"/>
<path fill="#785046" d="M271.2 210.8C272.9 210.2 280.4 210.2 282.5 210.8C284.6 211.3 285.4 213.4 283.8 214.0C282.1 214.6 274.6 214.8 272.5 214.2C270.4 213.7 269.6 211.3 271.2 210.8Z"/>
<path fill="#785046" d="M733.8 421.2C735.2 420.2 740.8 419.0 742.5 420.0C744.2 421.0 744.6 425.8 743.8 427.5C742.9 429.2 739.2 430.2 737.5 430.0C735.8 429.8 734.4 427.7 733.8 426.2C733.1 424.8 732.3 422.3 733.8 421.2Z"/>
<path fill="#785046" d="M756.2 441.2C757.2 440.2 761.0 438.8 762.5 440.0C764.0 441.2 765.4 446.9 765.0 448.8C764.6 450.6 761.3 451.7 760.0 451.2C758.7 450.8 757.6 447.9 757.0 446.2C756.4 444.6 755.3 442.3 756.2 441.2Z"/>
<path fill="#785046" d="M763.8 448.8C763.8 446.7 766.2 445.6 767.5 447.5C768.8 449.4 771.2 457.9 771.2 460.0C771.2 462.1 768.8 461.9 767.5 460.0C766.2 458.1 763.8 450.8 763.8 448.8Z"/>
<path fill="#785046" d="M793.8 298.8C794.6 297.3 799.2 296.2 801.2 296.2C803.3 296.2 805.8 297.5 806.2 298.8C806.7 300.0 805.4 302.7 803.8 303.8C802.1 304.8 797.9 305.8 796.2 305.0C794.6 304.2 792.9 300.2 793.8 298.8Z"/>
<path fill="#785046" d="M811.2 292.5C811.9 291.2 817.1 290.6 818.8 291.2C820.4 291.9 821.9 295.0 821.2 296.2C820.6 297.5 816.7 299.4 815.0 298.8C813.3 298.1 810.6 293.8 811.2 292.5Z"/>
<path fill="#785046" d="M792.7 298.4C793.8 296.7 801.3 294.7 803.6 295.1C806.0 295.5 808.0 298.8 806.9 300.6C805.8 302.3 799.5 305.7 797.1 305.4C794.7 305.0 791.6 300.1 792.7 298.4Z"/>
<path fill="#785046" d="M809.1 292.9C810.2 291.5 816.9 290.9 818.9 291.8C820.9 292.7 822.2 296.9 821.1 298.4C820.0 299.8 814.4 301.5 812.4 300.6C810.4 299.6 808.0 294.4 809.1 292.9Z"/>
<path fill="#785046" d="M818.5 536.7C819.3 534.9 822.1 532.0 823.3 532.4C824.4 532.7 825.6 536.7 825.5 538.9C825.3 541.1 823.4 544.7 822.2 545.5C821.0 546.2 819.1 544.7 818.5 543.3C817.9 541.8 817.7 538.5 818.5 536.7Z"/>
<path fill="#785046" d="M276.2 553.8C277.6 552.7 284.4 553.8 286.2 555.0C288.1 556.2 288.9 560.2 287.5 561.2C286.1 562.3 279.9 562.5 278.0 561.2C276.1 560.0 274.9 554.8 276.2 553.8Z"/>
</g>
<g fill="#fff" stroke="#000" stroke-width="1" stroke-linejoin="round" fill-rule="evenodd" shape-rendering="crispEdges">
<path d="M132.1 314.5L130.3 312.1L128.1 310.8L124.7 311.4L124.9 306.9L123.4 305.9L124.7 301.7L125.2 298.6L124.7 294.6L123.8 293.1L126.7 291.0L131.6 291.3L136.1 291.6L140.5 291.9L141.6 288.5L142.1 285.2L140.5 282.4L139.6 280.3L137.8 279.1L134.7 278.1L133.8 276.6L136.7 275.4L140.9 275.7L140.3 272.6L142.1 273.6L144.9 273.2L147.8 271.4L148.1 269.0L151.6 267.4L153.4 265.6L154.9 262.6L156.7 261.6L160.1 261.3L162.7 260.7L163.6 259.5L164.3 258.3L163.6 256.4L162.5 254.6L162.5 251.6L163.6 250.0L166.5 248.5L168.1 248.2L167.8 250.3L167.4 252.5L168.7 253.1L167.2 254.0L166.1 255.5L165.8 256.7L166.7 257.7L168.7 258.3L168.9 259.5L171.4 258.9L174.3 257.7L176.3 259.5L180.1 258.6L184.5 257.1L186.1 258.3L188.5 258.3L188.9 256.7L191.2 255.8L191.2 252.8L191.4 250.3L192.5 248.8L194.7 248.5L196.3 250.0L198.1 250.0L198.7 247.6L198.7 246.1L196.7 245.1L196.5 243.6L199.6 242.7L203.4 242.4L206.7 242.7L208.9 241.5L211.6 241.5L209.4 240.6L207.8 239.3L204.5 239.6L200.1 240.6L195.6 241.8L193.8 239.9L191.8 238.1L192.3 235.1L191.6 232.0L194.5 229.6L197.8 227.4L200.7 225.9L200.7 224.4L198.3 223.4L194.1 223.7L192.3 225.9L191.2 227.7L189.6 229.9L186.1 232.0L184.3 233.8L183.2 235.1L182.7 238.1L182.9 239.3L185.8 240.9L186.5 242.4L184.7 243.3L183.4 245.1L181.6 247.3L181.2 250.3L180.1 252.8L177.4 253.1L176.3 254.9L173.4 255.2L172.9 253.4L172.5 251.9L171.2 248.8L169.6 246.1L169.4 244.2L168.1 243.0L167.6 243.9L165.8 244.5L162.9 246.7L160.1 247.3L157.2 245.1L156.3 243.3L155.8 240.2L155.6 238.1L155.6 235.1L158.9 232.9L162.3 231.1L165.6 229.9L168.9 227.1L171.8 224.4L173.4 221.9L176.3 218.9L178.9 216.1L181.2 214.9L184.1 212.7L186.7 210.9L192.3 209.7L196.7 208.2L201.8 207.2L206.7 207.6L210.5 208.5L213.4 209.7L211.2 211.2L214.5 211.5L217.8 212.4L224.5 213.4L230.1 215.8L234.5 217.9L236.1 220.7L233.4 222.2L228.9 222.5L222.3 221.0L217.8 220.7L216.5 219.5L218.9 221.9L221.8 225.9L221.8 227.7L225.6 228.9L228.5 228.9L228.9 227.1L234.1 227.1L233.4 224.4L237.8 221.9L242.3 222.5L242.7 219.8L241.8 216.7L240.7 214.6L246.7 216.1L246.7 219.8L248.9 219.2L252.3 217.6L260.1 215.5L264.5 216.1L266.7 214.9L273.4 214.0L277.8 214.6L279.6 211.2L286.7 212.7L291.2 213.7L293.4 214.6L296.7 215.8L293.4 212.1L292.9 208.2L296.7 205.7L297.8 202.4L300.1 201.4L305.6 202.1L306.1 206.0L304.5 210.6L307.8 215.2L304.5 219.8L307.8 220.4L310.1 215.2L308.9 207.6L311.2 203.0L317.8 203.9L323.4 204.5L326.7 207.6L328.9 209.1L324.5 203.0L324.5 199.9L335.6 198.7L337.8 195.3L348.9 192.9L357.8 192.0L366.7 190.7L376.3 187.1L382.3 189.2L393.4 190.7L396.7 192.9L388.9 198.4L382.3 200.8L393.4 199.0L397.8 199.6L406.7 200.8L417.8 201.4L426.7 199.9L432.3 203.0L431.2 206.9L435.6 207.6L440.1 206.0L446.7 206.0L452.3 205.7L455.6 203.0L457.8 202.1L468.9 203.6L477.8 205.7L482.3 207.9L493.4 207.6L500.1 210.6L502.3 212.1L508.9 211.5L517.8 210.9L523.4 213.7L524.5 210.6L535.6 211.2L544.5 214.0L555.6 218.2L562.3 220.1L567.4 222.5L561.2 227.4L548.9 224.4L546.7 221.9L538.9 226.8L542.3 233.5L532.3 235.7L526.7 238.1L522.9 241.2L513.4 240.2L508.9 241.5L506.7 247.3L504.5 247.9L507.4 252.8L504.1 256.4L500.1 262.6L497.2 262.6L495.6 265.6L492.7 268.7L491.2 262.6L490.3 253.4L492.3 248.8L496.7 245.7L503.4 240.2L507.8 236.0L510.1 233.5L501.2 236.6L500.1 239.0L491.2 236.0L487.8 242.7L480.1 243.6L473.4 243.3L462.3 243.3L455.6 248.8L451.2 253.4L445.6 257.4L450.1 259.5L453.4 260.1L458.5 261.9L458.5 265.0L456.7 271.7L456.3 276.3L453.4 280.9L450.1 285.5L445.6 290.1L440.1 293.7L437.6 292.8L435.2 295.2L432.7 297.7L432.7 299.8L428.9 302.3L427.8 304.4L430.1 306.9L432.1 311.4L432.3 315.4L431.2 317.2L427.8 318.5L425.4 319.1L425.6 315.1L425.8 311.4L424.5 309.0L422.3 308.4L422.7 304.4L420.9 302.6L416.7 303.8L414.1 305.9L415.2 301.4L413.4 299.5L410.1 302.6L406.7 304.7L406.1 306.9L408.7 309.9L412.7 309.0L416.7 310.2L413.4 312.7L411.8 314.5L409.6 317.6L411.8 320.6L413.2 324.3L415.4 327.6L415.4 330.1L412.9 331.3L413.4 331.9L415.6 333.4L414.7 337.4L412.7 340.5L410.7 344.4L408.9 347.5L406.9 349.9L403.8 353.3L398.3 356.4L395.6 357.3L391.2 359.1L389.8 362.5L389.6 359.7L388.3 358.8L385.2 358.5L381.8 360.9L379.6 365.5L381.2 370.1L384.9 375.3L387.2 382.3L387.4 387.8L382.7 392.7L381.2 395.5L377.4 398.2L377.8 393.9L374.5 392.1L371.8 387.2L368.7 385.7L367.8 383.2L366.7 387.8L365.2 392.4L365.6 396.4L367.8 402.2L370.7 404.6L373.4 408.3L374.3 412.3L374.5 416.2L376.1 420.2L374.3 420.2L369.6 415.9L367.6 408.0L366.1 404.3L362.9 400.1L363.4 393.9L363.6 387.8L362.3 381.7L361.4 374.1L357.8 374.1L355.6 376.2L354.1 375.6L354.5 369.5L352.5 364.9L349.6 360.3L348.5 356.4L345.6 355.7L342.3 357.9L337.8 358.8L337.4 362.2L334.5 364.6L331.2 368.6L327.4 373.5L324.5 376.2L322.7 378.7L322.9 384.5L322.1 390.9L320.7 393.0L320.1 396.1L318.1 397.9L316.7 399.7L314.1 395.5L312.9 390.0L310.7 384.8L308.9 378.7L307.4 372.6L306.3 366.4L306.1 360.3L305.6 357.3L304.5 360.3L301.2 360.9L297.8 357.3L300.1 354.8L296.7 352.7L294.1 349.6L292.7 348.1L287.8 347.2L281.2 347.8L275.6 346.9L271.8 346.3L270.7 342.0L265.6 343.2L261.2 340.5L257.8 337.4L256.1 332.8L253.4 331.6L251.2 333.4L251.6 336.5L254.5 341.1L256.1 343.5L257.4 346.6L259.2 345.1L259.2 348.1L258.3 350.2L261.2 350.6L264.5 350.6L267.4 347.2L269.6 344.1L269.8 348.1L271.2 351.2L274.7 352.4L277.4 355.7L275.2 361.9L272.9 366.4L271.2 369.5L267.8 371.0L264.5 372.6L260.5 375.6L255.6 378.7L251.2 381.7L244.5 385.4L241.2 385.7L240.5 383.2L239.6 378.7L239.4 374.1L236.7 369.5L234.5 364.0L231.6 358.8L230.1 352.7L227.2 348.1L224.5 343.5L222.3 338.9L222.3 334.4L220.7 339.6L217.8 335.9L216.9 332.8L216.9 335.9L219.2 339.6L220.1 343.5L222.3 349.6L223.8 354.2L226.7 358.8L227.2 364.6L227.8 368.0L230.3 371.0L232.3 377.1L235.6 380.2L238.9 384.8L240.7 389.1L243.4 392.4L248.9 390.6L253.4 390.0L258.3 388.1L257.8 392.4L256.3 397.0L253.4 404.6L251.2 410.7L246.7 416.9L245.2 418.4L241.2 423.6L237.8 427.6L235.6 431.2L233.8 433.7L232.7 436.7L231.2 441.3L231.8 445.3L232.3 450.5L234.1 456.6L234.7 462.7L234.9 470.3L232.3 474.9L227.8 478.9L224.5 482.6L221.8 485.0L223.2 490.2L223.4 497.2L217.8 502.4L217.4 503.9L217.6 508.5L215.6 513.1L213.4 515.9L210.1 521.7L206.7 525.0L201.6 528.4L195.6 528.7L188.9 530.8L185.4 529.3L184.9 524.4L185.2 520.8L182.3 514.6L180.1 510.1L177.8 505.5L176.7 497.8L176.7 493.3L173.8 485.6L170.7 478.0L170.7 473.4L172.3 467.3L174.5 462.7L175.2 458.1L173.8 452.0L172.3 444.4L171.6 441.3L170.7 438.3L166.7 432.1L164.5 427.6L164.1 426.6L165.6 423.0L166.1 418.4L166.3 413.8L165.6 412.3L163.4 410.4L160.1 411.1L157.8 411.4L155.6 407.7L153.4 405.2L150.1 405.2L146.7 406.5L142.3 408.6L140.1 409.8L136.7 408.9L133.4 408.9L127.8 411.1L124.5 408.6L120.5 405.2L116.7 401.6L114.9 398.5L114.1 395.5L111.2 391.5L108.9 387.8L107.2 383.6L105.6 379.6L107.8 375.6L108.9 369.5L108.3 364.9L106.7 360.3L108.9 352.7L111.2 349.6L112.3 345.1L115.6 339.9L118.9 337.4L122.3 334.4L122.9 331.3L122.7 328.2L124.5 324.3L127.6 321.8L130.1 319.1L131.4 315.1ZM132.7 313.9L134.7 312.4L139.6 312.4L142.9 309.6L144.9 305.9L143.8 303.8L146.5 299.8L149.4 298.0L151.6 295.2L151.2 292.5L153.4 291.6L156.5 292.2L159.2 292.5L161.2 290.7L164.3 288.8L167.2 290.4L167.8 293.4L170.5 295.6L172.3 297.7L175.2 298.6L176.7 300.4L179.2 302.3L180.1 305.3L179.4 308.4L181.2 306.9L182.5 305.3L181.4 303.2L182.3 300.7L184.5 302.6L185.6 302.0L184.5 300.1L182.1 298.6L180.1 296.5L177.8 296.2L176.1 294.6L174.7 291.3L172.3 289.4L171.8 286.1L174.9 284.9L174.7 287.0L176.7 286.4L178.3 289.4L180.9 291.6L184.7 294.3L187.6 296.8L187.6 300.7L188.9 303.2L190.5 305.6L191.6 307.5L192.7 312.1L194.5 313.0L195.8 312.7L195.6 309.9L197.8 309.3L196.9 306.9L195.4 304.4L194.7 300.7L197.4 302.3L198.7 299.5L202.3 299.8L202.7 302.0L203.8 304.4L204.3 307.2L205.2 310.5L205.6 312.1L207.4 312.4L209.6 313.6L212.5 312.1L215.6 313.3L217.4 314.5L221.4 312.1L223.8 312.7L224.9 312.7L224.3 316.0L224.1 319.1L223.4 320.9L222.3 324.3L221.6 326.7L220.7 328.9L218.9 329.5L216.3 328.9L213.4 328.2L210.9 329.2L206.7 329.8L204.9 328.6L200.5 328.2L197.6 326.7L195.6 324.9L192.7 324.0L189.2 326.4L188.7 330.4L186.7 331.9L183.4 330.1L180.1 328.9L178.3 325.8L173.8 324.0L170.1 323.1L167.4 321.5L166.9 319.7L168.7 316.9L168.1 315.1L168.1 313.0L169.2 311.4L167.2 310.8L166.3 310.5L162.3 311.7L159.8 311.7L155.8 312.1L151.4 312.1L146.7 313.3L143.2 315.4L140.1 317.2L138.1 316.6L135.6 316.9L132.7 314.8ZM206.7 296.5L205.6 294.6L206.7 291.9L208.1 289.4L210.5 286.4L212.7 282.4L214.5 282.1L216.7 283.6L219.2 283.9L216.7 285.8L218.7 288.2L220.1 288.8L223.2 287.0L225.6 285.8L222.3 283.3L222.9 282.1L226.3 281.5L229.4 280.6L231.8 280.3L228.9 283.9L227.8 285.8L226.3 286.4L227.4 287.3L228.5 287.9L231.2 290.1L232.7 291.3L235.6 293.1L236.9 297.1L233.4 299.2L232.7 299.2L228.9 299.2L225.2 298.3L222.3 296.2L218.9 296.2L215.6 297.1L213.4 298.9L210.1 298.6L208.9 298.6Z"/>
<path d="M250.1 293.4L252.3 296.8L256.3 301.1L254.1 303.8L253.2 306.9L254.5 309.9L257.8 312.1L262.3 312.1L264.5 309.9L264.1 305.3L262.3 302.3L261.8 298.6L264.5 297.7L261.2 296.2L258.9 292.5L256.7 288.5L258.9 287.0L262.3 286.1L262.3 282.4L258.9 280.9L254.5 282.4L252.3 283.9L248.9 287.6L248.9 290.7Z"/>
<path d="M274.1 287.0L275.6 283.0L278.9 282.1L281.4 283.9L280.1 288.5L277.4 291.6L274.5 291.0Z"/>
<path d="M308.5 285.2L310.1 282.1L314.5 282.1L320.1 281.8L320.5 283.3L315.6 283.9L311.2 285.5Z"/>
<path d="M375.6 266.8L378.9 264.1L383.4 261.0L386.7 256.4L388.5 254.0L387.8 258.6L384.5 263.2L380.1 266.8Z"/>
<path d="M133.4 245.4L137.8 245.4L140.1 248.2L136.7 248.5L140.1 250.3L138.3 253.4L140.9 254.9L144.1 258.9L145.2 262.6L148.3 263.2L148.1 265.6L146.3 267.1L147.6 268.1L145.2 269.3L141.2 269.6L136.7 270.5L131.8 271.4L134.9 268.1L137.4 267.4L132.9 266.2L135.2 263.2L134.5 261.6L137.8 261.3L137.4 258.0L133.8 257.1L133.4 254.9L130.7 251.9L132.3 248.8Z"/>
<path d="M130.7 255.8L132.1 257.7L130.7 261.3L130.5 265.0L126.7 266.2L122.3 266.8L122.7 263.2L124.5 261.6L122.3 258.9L125.6 258.0L126.7 255.8Z"/>
<path d="M91.2 224.4L95.6 221.6L98.9 224.1L104.5 222.2L108.9 221.3L112.3 224.4L114.3 225.9L111.2 228.0L103.4 230.5L97.8 229.2L94.3 228.9L95.6 226.5L91.2 226.2Z"/>
<path d="M168.9 181.0L175.6 180.4L180.1 180.4L184.5 179.7L190.1 179.1L197.8 179.4L204.5 180.1L200.1 182.2L190.1 183.1L191.2 184.6L186.7 186.8L182.3 190.1L177.8 188.6L175.6 186.8L171.2 185.2L168.9 183.1Z"/>
<path d="M192.3 185.6L196.7 185.6L198.9 186.8L194.5 188.3L191.2 187.4Z"/>
<path d="M244.5 178.2L251.2 177.3L257.8 177.6L255.6 179.4L248.9 179.4Z"/>
<path d="M262.3 178.8L268.9 177.0L275.6 176.1L282.3 177.0L287.8 177.9L280.1 179.1L271.2 179.7Z"/>
<path d="M260.0 204.5L265.0 198.8L275.0 194.2L286.2 190.0L296.2 187.5L298.8 189.5L292.5 193.0L283.8 197.0L276.2 201.2L272.5 206.2L270.0 210.0L265.0 210.5L261.2 208.8Z"/>
<path d="M355.6 183.1L362.3 180.1L368.9 176.4L375.6 177.3L377.8 180.7L374.5 185.2L367.8 186.2L362.3 184.3Z"/>
<path d="M365.6 186.2L371.2 185.2L378.9 184.6L376.7 186.5L368.9 187.4Z"/>
<path d="M448.9 194.4L454.5 192.0L462.3 192.3L468.9 193.8L474.5 194.4L478.9 195.3L471.2 195.9L462.3 195.3L455.6 196.2L451.2 195.9Z"/>
<path d="M455.6 198.7L461.2 198.7L463.4 200.5L457.8 200.5Z"/>
<path d="M541.2 206.9L544.5 206.0L550.1 206.6L548.9 207.9L543.4 208.2Z"/>
<path d="M163.6 293.4L165.4 293.1L165.8 296.2L165.4 298.3L166.3 300.7L165.8 304.7L164.3 305.6L163.2 304.7L163.4 301.4L162.7 299.5L164.1 298.3L163.6 296.2Z"/>
<path d="M172.1 308.4L174.5 307.8L179.2 307.5L178.1 311.4L176.3 312.1L172.5 309.9Z"/>
<path d="M196.7 316.0L200.1 316.0L202.9 316.9L201.2 317.9L196.9 316.9Z"/>
<path d="M216.3 317.6L217.8 316.3L221.4 315.7L219.8 317.9L217.8 318.8Z"/>
<path d="M460.1 258.6L462.3 261.0L462.9 265.6L462.7 270.2L465.2 274.2L462.3 275.4L461.8 279.4L463.4 282.4L461.2 283.9L460.1 279.4L460.1 274.8L460.1 268.7L459.4 264.1L459.6 261.0Z"/>
<path d="M459.4 285.8L462.3 288.5L467.4 290.1L467.8 292.2L464.5 293.1L462.9 296.2L459.6 294.3L456.3 297.7L455.6 294.6L456.7 292.2L458.9 290.1Z"/>
<path d="M456.3 298.0L458.9 298.3L460.1 302.9L458.9 307.5L457.8 309.9L457.4 314.5L455.6 316.9L453.4 316.9L452.3 318.5L448.9 318.8L448.5 319.7L446.3 322.1L444.5 318.8L440.1 319.7L437.8 320.6L435.6 320.6L435.4 319.4L438.9 316.0L442.3 315.7L445.6 315.4L448.3 312.1L449.6 309.9L452.3 309.9L454.5 306.9L455.6 302.9L455.6 300.4Z"/>
<path d="M435.4 320.9L437.2 321.5L437.8 323.7L438.9 321.2L442.7 319.7L443.8 321.2L442.3 322.7L440.1 324.3L437.8 324.3L436.7 328.2L434.9 329.5L433.8 326.7L432.9 324.6L432.7 322.4Z"/>
<path d="M414.5 347.2L415.6 348.1L414.5 352.7L412.9 357.3L411.6 354.2L412.3 350.6Z"/>
<path d="M386.1 365.8L387.8 363.4L390.3 363.1L391.2 364.6L389.6 368.0L386.7 368.6Z"/>
<path d="M412.5 368.0L415.6 368.0L416.3 372.6L414.7 376.2L415.2 381.1L417.8 382.0L420.1 385.7L418.5 384.8L415.6 382.6L413.2 382.3L412.5 380.2L411.4 378.7L411.8 374.7Z"/>
<path d="M415.6 403.1L418.5 398.5L421.2 398.5L423.4 394.9L425.2 398.5L425.2 403.7L423.4 406.8L420.5 405.6L420.1 402.2L416.7 401.3Z"/>
<path d="M415.6 388.4L418.3 389.4L420.1 390.3L423.4 386.6L423.8 390.3L422.3 393.9L418.9 395.5L416.7 394.6L415.6 392.4Z"/>
<path d="M404.9 398.8L406.7 396.1L410.1 390.9L409.6 393.9L406.7 397.6Z"/>
<path d="M386.7 419.9L388.3 418.4L391.2 419.6L392.3 416.6L395.6 414.7L397.8 410.4L401.2 407.7L404.1 403.4L406.1 405.2L409.4 408.6L406.7 411.4L405.8 414.7L406.7 418.4L408.9 421.4L406.3 422.4L405.6 426.9L403.4 429.1L402.9 433.7L402.3 436.4L399.2 437.0L398.9 434.9L395.6 434.3L392.9 435.2L389.4 433.4L388.9 429.1L386.7 426.0L386.9 423.0Z"/>
<path d="M356.3 407.4L361.2 408.6L363.8 412.9L367.4 416.9L370.1 419.3L373.4 423.0L374.9 427.6L376.7 430.0L380.1 433.7L379.6 438.3L379.6 442.2L376.7 442.2L374.5 439.8L371.8 436.7L368.9 432.1L367.4 427.6L364.9 423.6L363.4 419.3L360.5 414.7L356.7 410.1Z"/>
<path d="M378.3 445.3L380.1 442.5L383.4 443.4L385.6 445.0L390.1 445.6L391.2 444.1L394.7 445.6L398.9 448.0L398.7 451.1L394.9 450.2L391.2 449.9L386.7 448.3L383.4 448.0L381.2 447.1Z"/>
<path d="M400.1 449.3L403.8 449.9L406.7 449.6L408.9 450.5L412.3 449.9L417.4 449.9L417.8 451.4L413.4 451.7L410.1 453.8L407.8 451.7L404.5 452.0L401.2 451.4Z"/>
<path d="M418.9 456.0L422.3 452.0L426.7 450.2L425.6 452.0L421.2 455.7Z"/>
<path d="M410.1 422.1L412.9 420.5L417.8 421.7L422.3 419.6L421.2 423.3L416.7 423.3L412.3 423.3L411.2 426.9L413.8 427.6L418.5 426.9L415.6 430.0L414.9 433.1L417.4 436.7L416.7 440.7L414.5 438.6L413.4 433.7L412.1 433.7L412.1 441.3L410.1 441.3L410.1 435.2L408.7 432.8L410.1 427.6Z"/>
<path d="M427.8 418.4L428.9 419.9L430.5 419.9L428.9 422.4L430.1 426.6L428.3 425.4L428.1 421.4Z"/>
<path d="M428.7 434.3L432.3 433.1L435.2 434.6L433.4 435.5L429.4 435.5Z"/>
<path d="M435.6 426.9L438.9 425.7L442.3 426.9L442.9 432.1L445.6 434.6L448.9 430.0L453.4 430.6L457.8 432.4L462.3 434.9L465.6 436.4L468.5 439.8L471.2 442.8L472.9 445.9L474.5 450.5L477.8 455.1L479.6 456.3L475.6 456.0L471.2 453.5L468.9 449.3L465.6 448.0L462.3 450.5L461.2 452.6L457.8 452.3L454.5 448.9L451.2 449.9L452.9 445.9L451.2 441.3L446.7 438.6L442.3 436.4L440.1 436.7L439.4 433.1L441.8 431.5L437.8 430.9L435.6 428.8Z"/>
<path d="M474.1 441.6L477.8 439.8L481.2 437.3L482.9 437.6L481.2 441.3L477.8 443.4L474.5 443.4Z"/>
<path d="M321.8 394.9L323.6 395.8L326.3 401.3L325.2 405.2L322.7 406.5L321.6 401.6Z"/>
<path d="M254.1 461.2L256.3 471.3L255.2 475.8L253.4 482.6L251.2 491.7L248.9 500.9L244.9 502.4L242.3 500.3L240.7 493.3L242.9 485.6L242.3 478.0L244.5 473.4L248.9 470.3L252.3 465.1Z"/>
<path d="M397.2 493.3L398.3 491.1L402.3 488.1L407.8 486.5L413.4 484.1L416.3 479.5L416.1 476.4L419.2 477.7L421.2 473.4L424.5 467.3L427.8 467.3L430.1 470.3L432.7 470.3L432.3 465.8L435.2 462.4L438.9 461.5L438.9 459.3L444.5 461.8L448.5 461.8L446.7 465.8L445.6 470.3L448.9 473.1L453.4 476.4L457.4 478.0L458.9 471.9L459.2 465.8L460.1 458.1L461.4 457.2L463.4 462.7L463.8 468.2L467.4 470.3L468.9 476.4L469.6 482.3L473.4 485.6L476.7 491.1L479.6 495.7L484.1 500.9L484.9 505.5L485.8 511.6L484.5 517.7L483.4 523.8L480.5 528.1L478.9 533.0L477.8 538.2L473.4 540.3L469.6 543.7L466.7 541.5L463.4 543.1L458.9 541.5L455.6 539.1L454.5 533.9L452.3 533.0L451.2 526.9L450.1 531.4L446.7 530.8L445.6 528.4L442.3 524.7L437.8 522.3L431.2 521.1L424.5 523.2L420.1 525.3L418.9 528.4L411.2 528.4L406.7 531.4L402.3 531.4L400.1 529.3L401.6 522.3L400.1 516.2L398.3 508.5L396.5 503.9L396.7 497.8Z"/>
<path d="M466.1 548.9L470.1 550.1L473.8 549.5L473.8 553.4L472.3 556.5L468.9 557.4L467.4 553.4Z"/>
<path d="M528.3 529.6L531.8 532.4L533.4 536.0L535.6 539.4L540.1 539.4L541.2 539.7L539.6 544.3L537.8 545.2L537.4 548.3L534.1 551.6L532.9 550.4L533.4 546.7L530.7 544.9L532.3 542.1L532.7 538.2L530.1 533.0Z"/>
<path d="M528.3 548.3L531.6 550.4L530.7 553.8L528.5 557.4L525.2 559.9L524.1 564.4L521.2 566.9L517.8 566.6L514.5 565.1L516.7 561.4L518.9 558.9L523.4 555.9L525.6 552.2Z"/>
<path d="M570.9 224.1L575.6 222.2L580.5 221.0L585.6 221.9L583.4 219.8L580.1 217.6L574.5 215.5L575.6 214.0L582.3 212.1L585.6 209.7L592.3 208.2L596.7 206.6L604.5 207.9L611.2 209.1L620.1 210.0L626.7 210.3L631.2 211.8L637.8 213.7L642.3 214.0L645.6 212.1L653.4 210.6L658.9 209.1L662.3 211.5L666.7 212.4L668.9 210.6L675.6 211.5L684.5 213.7L688.9 215.8L691.2 217.3L700.1 217.0L704.5 218.2L704.5 215.2L711.2 215.5L717.8 217.3L725.6 217.3L727.8 215.2L731.2 216.1L732.3 218.9L735.6 215.8L731.2 212.1L731.2 207.6L734.5 204.5L738.9 207.6L740.1 211.5L743.4 213.7L746.7 213.1L750.1 216.7L752.3 218.2L754.5 213.7L760.1 211.5L763.4 213.1L763.4 216.7L761.2 221.3L756.7 222.2L752.3 221.9L753.4 225.9L748.9 228.3L743.4 230.5L738.9 233.5L735.6 238.1L734.5 244.2L738.9 250.3L746.7 250.9L755.6 255.5L761.2 255.8L761.8 262.6L764.5 265.6L765.6 267.7L768.9 267.1L769.4 262.6L767.8 257.4L772.3 254.9L774.5 250.3L771.2 245.1L772.3 241.2L771.2 234.1L780.1 234.4L785.6 238.1L790.1 238.1L790.1 244.2L793.4 246.4L798.9 242.7L801.2 240.2L805.6 245.7L807.8 251.9L811.2 255.8L815.6 258.0L818.9 262.6L820.7 265.6L817.8 267.4L813.4 270.8L806.7 271.1L796.7 271.1L792.3 274.8L787.8 280.0L790.1 278.7L795.6 274.8L801.2 274.5L800.1 277.8L800.5 280.9L802.3 283.3L807.8 284.6L811.2 283.0L811.2 280.9L808.9 286.1L803.4 288.2L798.9 291.6L797.4 289.1L801.2 286.1L797.8 286.4L795.6 287.6L791.2 290.1L788.5 291.3L787.2 294.0L788.9 296.2L788.9 297.1L785.6 298.0L781.2 299.5L780.1 300.7L779.6 303.8L777.8 305.9L776.7 309.9L775.6 311.7L776.7 316.6L774.1 318.8L771.4 320.9L768.5 323.4L764.9 326.7L763.6 331.3L765.6 338.0L766.7 342.6L766.1 347.2L764.1 347.5L762.7 344.4L760.7 339.9L760.5 335.9L757.8 332.8L754.5 333.7L751.2 331.6L747.8 331.9L745.6 332.5L746.3 335.9L743.4 335.3L740.1 334.1L735.6 334.1L733.4 335.9L730.1 338.3L728.3 342.0L728.5 345.7L727.4 351.2L727.2 356.4L728.5 360.9L730.7 365.8L733.4 367.7L735.2 368.9L738.9 367.7L742.3 366.4L743.4 363.4L743.8 360.3L747.8 358.8L751.2 358.8L751.6 359.7L750.1 364.9L749.4 368.6L748.5 371.0L747.4 375.6L748.9 376.2L753.4 375.9L757.8 376.5L759.6 378.7L758.9 384.8L758.5 390.9L760.1 393.9L762.3 396.4L765.6 397.0L767.8 395.5L771.2 396.1L772.7 398.5L773.8 400.1L775.6 396.1L776.7 392.4L778.3 390.6L782.3 389.4L785.6 386.6L785.6 390.9L785.2 393.9L786.7 392.4L788.5 389.4L788.9 387.2L792.3 392.1L797.8 392.1L801.2 393.3L804.5 391.8L806.7 391.8L808.9 394.6L809.4 398.5L813.4 400.1L815.2 403.7L817.8 406.2L821.8 406.5L827.8 409.2L830.7 411.7L833.4 419.0L833.4 424.5L836.7 426.0L837.8 427.6L842.3 427.6L846.1 432.1L852.3 433.4L856.7 433.7L858.9 435.8L862.3 439.5L866.1 440.7L867.2 445.9L866.7 450.5L864.5 455.1L861.2 459.6L858.9 464.2L857.8 470.3L857.8 478.0L856.3 484.1L854.9 487.1L853.4 491.7L851.2 494.8L848.5 494.8L844.5 496.3L841.2 498.4L837.2 502.4L836.5 507.0L836.5 511.0L834.5 513.1L832.3 518.6L828.9 522.9L825.6 528.4L822.3 531.1L819.4 531.1L814.7 528.4L817.4 533.0L817.8 536.0L816.7 540.6L813.4 542.8L807.8 543.7L806.3 543.4L806.3 548.3L804.5 550.1L800.1 549.8L801.2 553.8L803.2 554.4L799.6 557.4L798.9 562.0L794.5 565.1L797.8 568.7L797.8 571.8L794.3 575.8L791.6 578.8L790.7 582.2L792.5 584.6L793.4 588.0L797.8 591.6L799.6 592.3L795.6 593.5L794.9 595.3L790.1 593.5L785.6 590.4L782.3 588.0L778.9 584.9L777.2 580.3L776.7 574.2L776.7 568.1L780.1 562.0L780.5 557.4L780.5 552.2L781.2 546.7L781.2 540.6L782.3 537.6L784.5 531.4L785.4 525.3L785.6 516.2L786.1 510.1L787.8 502.4L788.1 496.3L788.5 487.1L788.3 480.7L785.6 478.0L781.2 474.3L777.4 471.3L774.9 467.0L773.2 461.2L770.7 455.1L768.9 449.3L766.7 445.3L764.5 442.8L763.8 438.9L765.6 435.2L766.7 433.1L766.9 431.5L764.7 431.2L764.9 427.6L766.5 424.5L766.7 422.1L769.2 419.9L769.6 416.9L772.3 415.3L772.9 412.6L772.3 407.7L772.5 404.0L771.4 402.5L770.7 400.1L770.1 397.0L767.8 397.3L765.6 399.4L766.7 401.9L764.5 401.0L762.3 399.4L760.1 399.4L758.7 398.2L756.3 394.6L753.8 393.9L753.8 390.9L751.6 387.2L750.1 384.8L747.2 384.2L744.5 382.6L741.2 381.7L738.9 379.6L735.6 375.3L732.9 375.0L730.1 376.5L725.6 374.7L722.5 373.2L717.8 369.8L714.5 368.6L711.2 364.9L709.6 362.2L710.5 358.8L708.1 353.6L704.5 348.1L701.4 345.1L700.5 342.0L698.1 339.2L695.2 335.9L693.4 331.3L692.1 328.9L689.4 327.3L689.6 331.3L692.3 335.9L694.5 339.9L696.7 345.1L698.9 349.6L701.2 353.6L700.3 354.5L698.9 352.7L695.6 349.0L694.9 345.1L691.2 341.4L688.9 339.6L690.7 337.4L687.8 332.8L685.6 328.2L684.3 325.2L681.6 321.2L678.9 319.7L676.5 319.1L674.5 314.5L673.4 311.7L672.3 309.0L669.6 305.3L668.3 301.1L668.5 296.2L667.8 293.1L668.9 288.5L668.9 283.3L667.4 276.6L671.2 277.8L670.7 274.2L667.2 271.7L662.3 268.7L660.5 265.6L658.9 262.6L655.6 258.6L654.5 254.9L651.6 253.4L647.8 248.8L643.4 246.4L641.2 246.7L637.8 244.2L634.1 242.4L630.1 241.2L624.5 241.2L620.1 239.3L617.8 238.1L614.5 241.2L612.3 242.1L607.8 243.6L607.8 239.6L611.2 237.5L606.7 239.0L603.4 242.7L602.3 245.7L597.8 248.8L593.4 251.9L588.9 254.3L584.5 256.4L581.2 257.1L578.3 257.7L582.3 254.6L586.7 253.4L591.2 249.4L594.5 245.1L592.3 245.1L588.9 245.1L584.9 245.1L584.5 241.8L578.9 239.6L576.7 236.6L578.3 232.9L582.3 231.4L586.7 230.5L586.7 227.4L582.3 227.1L576.9 227.4L574.5 225.9Z"/>
<path d="M659.4 269.3L664.5 270.8L667.8 273.9L670.1 276.6L666.7 275.4L663.4 273.2L660.5 271.4Z"/>
<path d="M648.9 259.2L651.8 259.5L652.9 263.8L650.5 261.9Z"/>
<path d="M601.2 248.8L605.6 247.3L606.1 249.4L602.7 250.9Z"/>
<path d="M812.7 278.7L815.6 274.8L817.8 269.3L820.9 267.1L820.5 271.7L824.5 273.2L826.7 276.3L827.4 279.4L825.6 281.8L822.3 281.5L820.5 279.4L816.7 279.1Z"/>
<path d="M801.2 272.0L805.6 272.9L807.2 274.5L803.4 273.9Z"/>
<path d="M801.6 281.5L806.3 282.7L804.9 283.9L802.3 283.0Z"/>
<path d="M755.8 357.6L760.1 354.2L764.5 353.9L768.9 356.1L773.4 358.8L777.8 361.2L779.6 362.8L776.7 363.7L771.8 363.7L771.2 361.2L767.8 358.5L763.4 356.7L760.5 357.3L757.8 357.9Z"/>
<path d="M779.2 368.0L782.3 363.7L785.2 364.0L788.9 364.3L792.5 367.7L790.1 368.6L786.7 370.1L783.4 368.9Z"/>
<path d="M770.5 368.3L773.6 368.3L774.9 369.8L772.3 370.1Z"/>
<path d="M795.2 368.0L798.5 368.3L798.3 369.5L795.2 369.5Z"/>
<path d="M807.2 391.8L808.9 391.8L808.9 393.6L807.2 393.6Z"/>
<path d="M808.9 581.9L813.4 581.3L816.1 582.2L813.4 584.3L810.1 583.7Z"/>
<path d="M765.6 199.3L773.4 199.9L780.1 202.1L786.7 206.0L792.3 209.1L794.5 212.7L800.1 216.7L806.7 219.8L807.8 222.8L802.3 225.9L798.9 230.5L800.5 233.2L796.7 234.1L792.3 231.1L786.7 230.5L780.1 227.7L772.3 227.7L771.2 224.4L780.1 224.4L781.2 221.3L783.4 218.2L777.8 215.2L770.1 212.1L768.9 209.7L756.7 210.6L748.9 209.1L745.6 206.0L744.5 202.1L753.4 199.0L756.7 201.4L762.3 203.0Z"/>
<path d="M751.2 224.4L755.6 222.8L758.9 224.4L764.5 228.3L765.6 230.5L760.1 230.2L754.5 231.1L751.2 228.9Z"/>
<path d="M683.4 212.1L691.2 214.0L700.1 214.9L708.9 214.3L717.8 213.1L720.1 210.0L712.3 207.6L711.2 203.0L704.5 200.8L697.8 202.1L690.1 200.5L682.3 202.1L681.2 206.0L686.7 207.6L683.4 209.7Z"/>
<path d="M665.6 204.8L671.2 206.9L676.7 205.7L682.3 201.4L686.7 198.4L678.9 197.5L668.9 198.4L666.7 201.4Z"/>
<path d="M716.7 199.0L724.5 199.0L728.9 202.1L728.9 206.0L723.4 206.0L718.9 203.0Z"/>
<path d="M732.3 198.4L738.9 198.4L743.4 199.9L738.9 203.6L733.4 203.0Z"/>
<path d="M723.4 212.1L728.9 211.2L732.3 213.7L728.9 214.9L724.5 214.0Z"/>
<path d="M684.5 192.3L693.4 191.4L702.3 190.4L708.9 192.3L710.1 195.3L702.3 195.9L693.4 196.9L684.5 194.7Z"/>
<path d="M713.4 190.7L722.3 190.1L727.8 192.3L726.7 195.3L718.9 195.3L713.4 193.8Z"/>
<path d="M730.1 189.8L740.1 190.4L746.7 193.5L757.8 192.9L766.7 193.5L766.7 196.2L755.6 196.9L741.2 196.6L738.9 193.2L731.2 193.8Z"/>
<path d="M742.3 175.5L755.6 172.4L775.6 170.6L793.4 170.9L806.7 172.4L801.2 175.5L793.4 177.6L784.5 180.7L776.7 183.1L775.6 186.2L767.8 190.7L760.1 191.1L747.8 190.7L745.6 188.3L751.2 185.2L748.9 181.6L753.4 179.1L744.5 178.5Z"/>
<path d="M731.2 180.1L737.8 176.1L743.4 178.5L750.1 181.6L751.2 184.3L744.5 185.2L737.8 183.4L732.3 182.2Z"/>
<path d="M711.2 183.1L720.1 182.2L724.5 185.2L716.7 186.8L712.3 185.2Z"/>
<path d="M671.2 191.7L677.8 188.3L685.6 187.7L686.7 190.1L680.1 192.3L674.5 192.9Z"/>
<path d="M666.7 222.2L672.3 219.8L677.8 220.1L682.3 221.9L681.2 225.0L675.6 225.9L671.2 224.7Z"/>
<path d="M684.5 237.5L688.9 234.4L695.6 232.9L701.2 232.9L698.9 235.1L692.3 237.2L687.8 238.7Z"/>
<path d="M696.7 245.1L702.3 243.0L708.9 243.3L703.4 244.5Z"/>
<path d="M716.7 247.3L718.9 250.3L716.7 251.9L715.6 248.8Z"/>
<path d="M724.5 260.1L727.8 259.8L730.5 267.1L729.4 270.5L725.6 266.2L723.8 263.2Z"/>
<path d="M740.1 281.8L744.5 278.1L748.5 275.1L753.4 275.7L756.3 279.4L756.3 282.4L751.2 282.4L747.8 280.3L743.4 282.1Z"/>
<path d="M749.4 296.2L748.9 290.1L751.2 284.9L754.5 283.9L755.6 285.5L753.4 288.5L752.7 293.1L751.6 296.8Z"/>
<path d="M756.7 283.9L762.3 283.3L766.7 285.5L766.7 288.5L763.4 288.5L762.9 292.5L761.2 293.1L758.3 290.7L758.9 287.0L756.7 285.2Z"/>
<path d="M759.4 297.1L762.3 294.3L768.9 293.7L768.9 294.6L764.5 297.4Z"/>
<path d="M767.4 292.2L771.2 290.4L774.9 289.7L774.9 291.6L771.2 292.2Z"/>
<path d="M782.3 185.6L792.3 182.5L800.1 180.1L804.5 176.4L815.6 173.3L833.4 172.7L846.7 170.3L866.7 169.1L882.3 170.0L895.6 172.1L904.5 175.2L916.7 175.5L906.7 179.4L901.2 183.1L902.3 187.7L897.8 191.4L901.2 194.7L898.9 198.4L894.5 203.0L895.6 207.6L888.9 209.4L893.4 211.2L885.6 214.6L877.8 216.1L871.2 218.9L863.4 222.8L856.7 224.4L854.5 228.9L851.2 233.5L848.9 239.6L845.6 241.5L841.2 238.7L836.7 237.5L833.4 233.5L830.1 228.9L826.7 223.4L824.9 218.2L828.9 214.3L823.4 210.6L828.9 208.2L822.3 206.0L820.1 199.9L814.5 194.4L806.7 191.7L795.6 192.3L786.7 188.6Z"/>
<path stroke="none" d="M145.0 643.6L154.5 639.5L173.6 639.5L190.0 640.9L209.1 638.2L218.6 635.5L220.0 634.1L229.5 638.7L233.6 635.5L241.8 632.2L252.7 631.4L256.8 627.3L263.6 625.9L269.1 627.3L277.3 631.4L290.9 631.4L299.1 632.7L300.4 640.4L307.3 638.2L312.7 638.2L320.9 632.7L337.3 628.6L361.8 628.1L372.7 625.9L385.0 629.2L397.2 625.9L400.0 627.3L410.9 628.6L424.5 627.3L432.7 629.5L434.1 626.5L446.4 626.5L462.7 631.4L481.8 634.1L500.9 636.8L503.6 640.9L521.4 642.3L524.1 645.0L514.5 650.4L506.4 654.5L505.0 658.6L510.4 664.1L500.9 665.4L500.4 672.3L509.1 676.4L525.4 679.6L544.5 681.3L563.6 683.2L590.9 685.9L620.9 685.4L610.0 681.8L603.2 679.1L602.3 673.6L612.7 672.3L620.9 671.4L607.3 668.2L596.3 665.4L590.9 661.4L601.8 660.5L612.7 661.4L618.2 658.6L610.0 657.8L623.6 655.9L640.0 653.2L650.9 653.7L661.8 657.3L670.0 649.1L675.4 651.8L678.2 649.9L685.0 649.9L685.0 653.2L693.2 653.2L695.9 649.9L700.0 653.7L710.9 651.8L719.1 649.1L721.8 646.4L730.0 646.4L731.4 649.6L738.2 646.9L754.5 647.7L770.9 646.4L779.1 645.0L781.8 649.1L790.0 648.5L794.1 643.6L792.7 638.2L787.3 635.5L781.8 639.5L790.0 641.5L795.4 636.8L794.1 630.0L802.3 623.2L809.1 619.1L821.4 617.7L814.5 621.3L805.0 625.9L799.5 632.7L807.7 640.9L810.4 649.1L805.0 655.9L794.9 659.4L811.8 660.5L825.4 662.7L836.4 665.4L859.5 665.4L877.3 658.6L896.3 651.8L915.4 645.8L920.9 642.3L926.3 643.6L931.8 640.9L938.6 641.5L941.3 640.1L944.9 643.1L945.0 720.0L145.0 720.0Z"/>
<path fill="none" d="M145.0 643.6L154.5 639.5L173.6 639.5L190.0 640.9L209.1 638.2L218.6 635.5L220.0 634.1L229.5 638.7L233.6 635.5L241.8 632.2L252.7 631.4L256.8 627.3L263.6 625.9L269.1 627.3L277.3 631.4L290.9 631.4L299.1 632.7L300.4 640.4L307.3 638.2L312.7 638.2L320.9 632.7L337.3 628.6L361.8 628.1L372.7 625.9L385.0 629.2L397.2 625.9L400.0 627.3L410.9 628.6L424.5 627.3L432.7 629.5L434.1 626.5L446.4 626.5L462.7 631.4L481.8 634.1L500.9 636.8L503.6 640.9L521.4 642.3L524.1 645.0L514.5 650.4L506.4 654.5L505.0 658.6L510.4 664.1L500.9 665.4L500.4 672.3L509.1 676.4L525.4 679.6L544.5 681.3L563.6 683.2L590.9 685.9L620.9 685.4L610.0 681.8L603.2 679.1L602.3 673.6L612.7 672.3L620.9 671.4L607.3 668.2L596.3 665.4L590.9 661.4L601.8 660.5L612.7 661.4L618.2 658.6L610.0 657.8L623.6 655.9L640.0 653.2L650.9 653.7L661.8 657.3L670.0 649.1L675.4 651.8L678.2 649.9L685.0 649.9L685.0 653.2L693.2 653.2L695.9 649.9L700.0 653.7L710.9 651.8L719.1 649.1L721.8 646.4L730.0 646.4L731.4 649.6L738.2 646.9L754.5 647.7L770.9 646.4L779.1 645.0L781.8 649.1L790.0 648.5L794.1 643.6L792.7 638.2L787.3 635.5L781.8 639.5L790.0 641.5L795.4 636.8L794.1 630.0L802.3 623.2L809.1 619.1L821.4 617.7L814.5 621.3L805.0 625.9L799.5 632.7L807.7 640.9L810.4 649.1L805.0 655.9L794.9 659.4L811.8 660.5L825.4 662.7L836.4 665.4L859.5 665.4L877.3 658.6L896.3 651.8L915.4 645.8L920.9 642.3L926.3 643.6L931.8 640.9L938.6 641.5L941.3 640.1L944.9 643.1"/>
<path d="M580.0 666.8L584.1 664.9L588.2 666.8L585.4 670.1L581.3 669.0Z"/>
</g>
</g></defs>
<g clip-path="url(#fc)">
<use href="#w" x="-800"/><use href="#w"/><use href="#w" x="800"/>
<g stroke="#555" stroke-width="1" stroke-dasharray="2 7" fill="none" shape-rendering="crispEdges">
<line x1="144.5" y1="149" x2="144.5" y2="699"/>
<line x1="277.5" y1="149" x2="277.5" y2="699"/>
<line x1="411.5" y1="149" x2="411.5" y2="699"/>
<line x1="677.5" y1="149" x2="677.5" y2="699"/>
<line x1="811.5" y1="149" x2="811.5" y2="699"/>
<line x1="944.5" y1="149" x2="944.5" y2="699"/>
<line x1="100" y1="180.5" x2="1000" y2="180.5"/>
<line x1="100" y1="241.5" x2="1000" y2="241.5"/>
<line x1="100" y1="302.5" x2="1000" y2="302.5"/>
<line x1="100" y1="363.5" x2="1000" y2="363.5"/>
<line x1="100" y1="485.5" x2="1000" y2="485.5"/>
<line x1="100" y1="546.5" x2="1000" y2="546.5"/>
<line x1="100" y1="607.5" x2="1000" y2="607.5"/>
<line x1="100" y1="668.5" x2="1000" y2="668.5"/>
</g>
<g stroke="#000" stroke-width="1" stroke-dasharray="6.5 2.5" fill="none" shape-rendering="crispEdges">
<line x1="544.5" y1="147.3" x2="544.5" y2="699"/>
<line x1="94" y1="424.5" x2="1000" y2="424.5"/>
</g>
</g>
<rect x="100.5" y="149.5" width="900" height="550" fill="none" stroke="#000" stroke-width="3" shape-rendering="crispEdges"/>
<g stroke="#000" stroke-width="1" shape-rendering="crispEdges">
<line x1="144.5" y1="700" x2="144.5" y2="704"/>
<line x1="277.5" y1="700" x2="277.5" y2="704"/>
<line x1="411.5" y1="700" x2="411.5" y2="704"/>
<line x1="544.5" y1="700" x2="544.5" y2="704"/>
<line x1="677.5" y1="700" x2="677.5" y2="704"/>
<line x1="811.5" y1="700" x2="811.5" y2="704"/>
<line x1="944.5" y1="700" x2="944.5" y2="704"/>
<line x1="96" y1="180.5" x2="99" y2="180.5"/>
<line x1="96" y1="241.5" x2="99" y2="241.5"/>
<line x1="96" y1="302.5" x2="99" y2="302.5"/>
<line x1="96" y1="363.5" x2="99" y2="363.5"/>
<line x1="96" y1="424.5" x2="99" y2="424.5"/>
<line x1="96" y1="485.5" x2="99" y2="485.5"/>
<line x1="96" y1="546.5" x2="99" y2="546.5"/>
<line x1="96" y1="607.5" x2="99" y2="607.5"/>
<line x1="96" y1="668.5" x2="99" y2="668.5"/>
</g>
<g stroke="#000" stroke-width="2" stroke-linejoin="miter">
<path d="M297 734L241 742L297 750Z" fill="#1e0096"/>
<rect x="297" y="734" width="56" height="16" fill="#1e6ed7"/>
<rect x="353" y="734" width="56" height="16" fill="#2882f0"/>
<rect x="409" y="734" width="56" height="16" fill="#50a5f5"/>
<rect x="465" y="734" width="56" height="16" fill="#b4f0fa"/>
<rect x="521" y="734" width="56" height="16" fill="#ffffff"/>
<rect x="577" y="734" width="56" height="16" fill="#ffe878"/>
<rect x="633" y="734" width="56" height="16" fill="#ff6000"/>
<rect x="689" y="734" width="56" height="16" fill="#e11400"/>
<rect x="745" y="734" width="56" height="16" fill="#a50000"/>
<path d="M801 734L859 742L801 750Z" fill="#785046"/>
</g>
</svg>
<div class="t" style="left:357.0px;top:92.5px;font-size:20px;letter-spacing:1.30px;color:#e60000;font-weight:normal;-webkit-text-stroke:0.3px #e60000">CFSv2</div>
<div class="t" style="left:437.2px;top:92.5px;font-size:20px;letter-spacing:2.13px;color:#e60000;font-weight:normal;-webkit-text-stroke:0.3px #e60000">monthly</div>
<div class="t" style="left:533.8px;top:92.5px;font-size:20px;letter-spacing:0.00px;color:#e60000;font-weight:normal;-webkit-text-stroke:0.3px #e60000;transform:scaleX(0.916);transform-origin:left">SST</div>
<div class="t" style="left:586.7px;top:92.5px;font-size:20px;letter-spacing:2.24px;color:#e60000;font-weight:normal;-webkit-text-stroke:0.3px #e60000">anomalies</div>
<div class="t" style="left:708.9px;top:92.5px;font-size:20px;letter-spacing:3.25px;color:#e60000;font-weight:normal;-webkit-text-stroke:0.3px #e60000">(K)</div>
<div class="t" style="left:100.0px;top:130.5px;font-size:17.5px;letter-spacing:2.00px;color:#1432ff;font-weight:normal;-webkit-text-stroke:0.35px #1432ff">Jun</div>
<div class="t" style="left:143.0px;top:130.5px;font-size:17.5px;letter-spacing:3.00px;color:#1432ff;font-weight:normal;-webkit-text-stroke:0.35px #1432ff">2015</div>
<div class="t" style="left:847.7px;top:104.8px;font-size:18px;letter-spacing:1.34px;color:#000;font-weight:normal;-webkit-text-stroke:0.45px #000">NWS/NCEP/CPC</div>
<div class="t" style="left:677.7px;top:133.7px;font-size:14px;letter-spacing:1.22px;color:#111;font-weight:normal;">Initial</div>
<div class="t" style="left:727.7px;top:133.7px;font-size:14px;letter-spacing:1.69px;color:#111;font-weight:normal;">conditions:</div>
<div class="t" style="left:820.5px;top:133.7px;font-size:14px;letter-spacing:2.16px;color:#111;font-weight:normal;">29May2015&minus;7Jun2015</div>
<div class="t yl" style="top:173.8px">80N</div>
<div class="t yl" style="top:234.8px">60N</div>
<div class="t yl" style="top:295.8px">40N</div>
<div class="t yl" style="top:356.8px">20N</div>
<div class="t yl" style="top:417.8px">EQ</div>
<div class="t yl" style="top:478.8px">20S</div>
<div class="t yl" style="top:539.8px">40S</div>
<div class="t yl" style="top:600.8px">60S</div>
<div class="t yl" style="top:661.8px">80S</div>
<div class="t xl" style="left:115.0px">0</div>
<div class="t xl" style="left:248.3px">60E</div>
<div class="t xl" style="left:381.7px">120E</div>
<div class="t xl" style="left:515.0px">180</div>
<div class="t xl" style="left:648.3px">120W</div>
<div class="t xl" style="left:781.7px">60W</div>
<div class="t xl" style="left:915.0px">0</div>
<div class="t cl" style="left:268.2px">&minus;3</div>
<div class="t cl" style="left:324.2px">&minus;2</div>
<div class="t cl" style="left:380.2px">&minus;1</div>
<div class="t cl" style="left:436.2px">&minus;0.5</div>
<div class="t cl" style="left:492.2px">&minus;0.25</div>
<div class="t cl" style="left:548.2px">0.25</div>
<div class="t cl" style="left:604.2px">0.5</div>
<div class="t cl" style="left:660.2px">1</div>
<div class="t cl" style="left:716.2px">2</div>
<div class="t cl" style="left:772.2px">3</div>
<svg width="80" height="75" viewBox="0 0 907 850" style="position:absolute;left:885px;top:35px" shape-rendering="crispEdges">
<defs><clipPath id="lc"><ellipse cx="455" cy="446" rx="336" ry="346"/></clipPath></defs>
<g clip-path="url(#lc)">
<path fill="#00ffff" d="M100 320L270 490L350 530L430 560L350 612L440 606L600 495L640 470L800 300L800 820L100 820Z"/>
<path fill="#0a24dc" d="M150 232L300 360L380 460L470 522L560 480L620 400L660 290L770 240L770 80L150 80Z"/>
</g>
<g fill="#fff" fill-rule="evenodd">
<path d="M305 340V250H372V340H350V270H327V340Z"/>
<path d="M385 250H452V340H385ZM407 270H430V320H407Z"/>
<path d="M465 340V250H532V340H510V312H487V340ZM487 270H510V292H487Z"/>
<path d="M545 340V250H607V340H587V312H565V340ZM565 270H587V292H565Z"/>
</g>
</svg>

</body></html>
